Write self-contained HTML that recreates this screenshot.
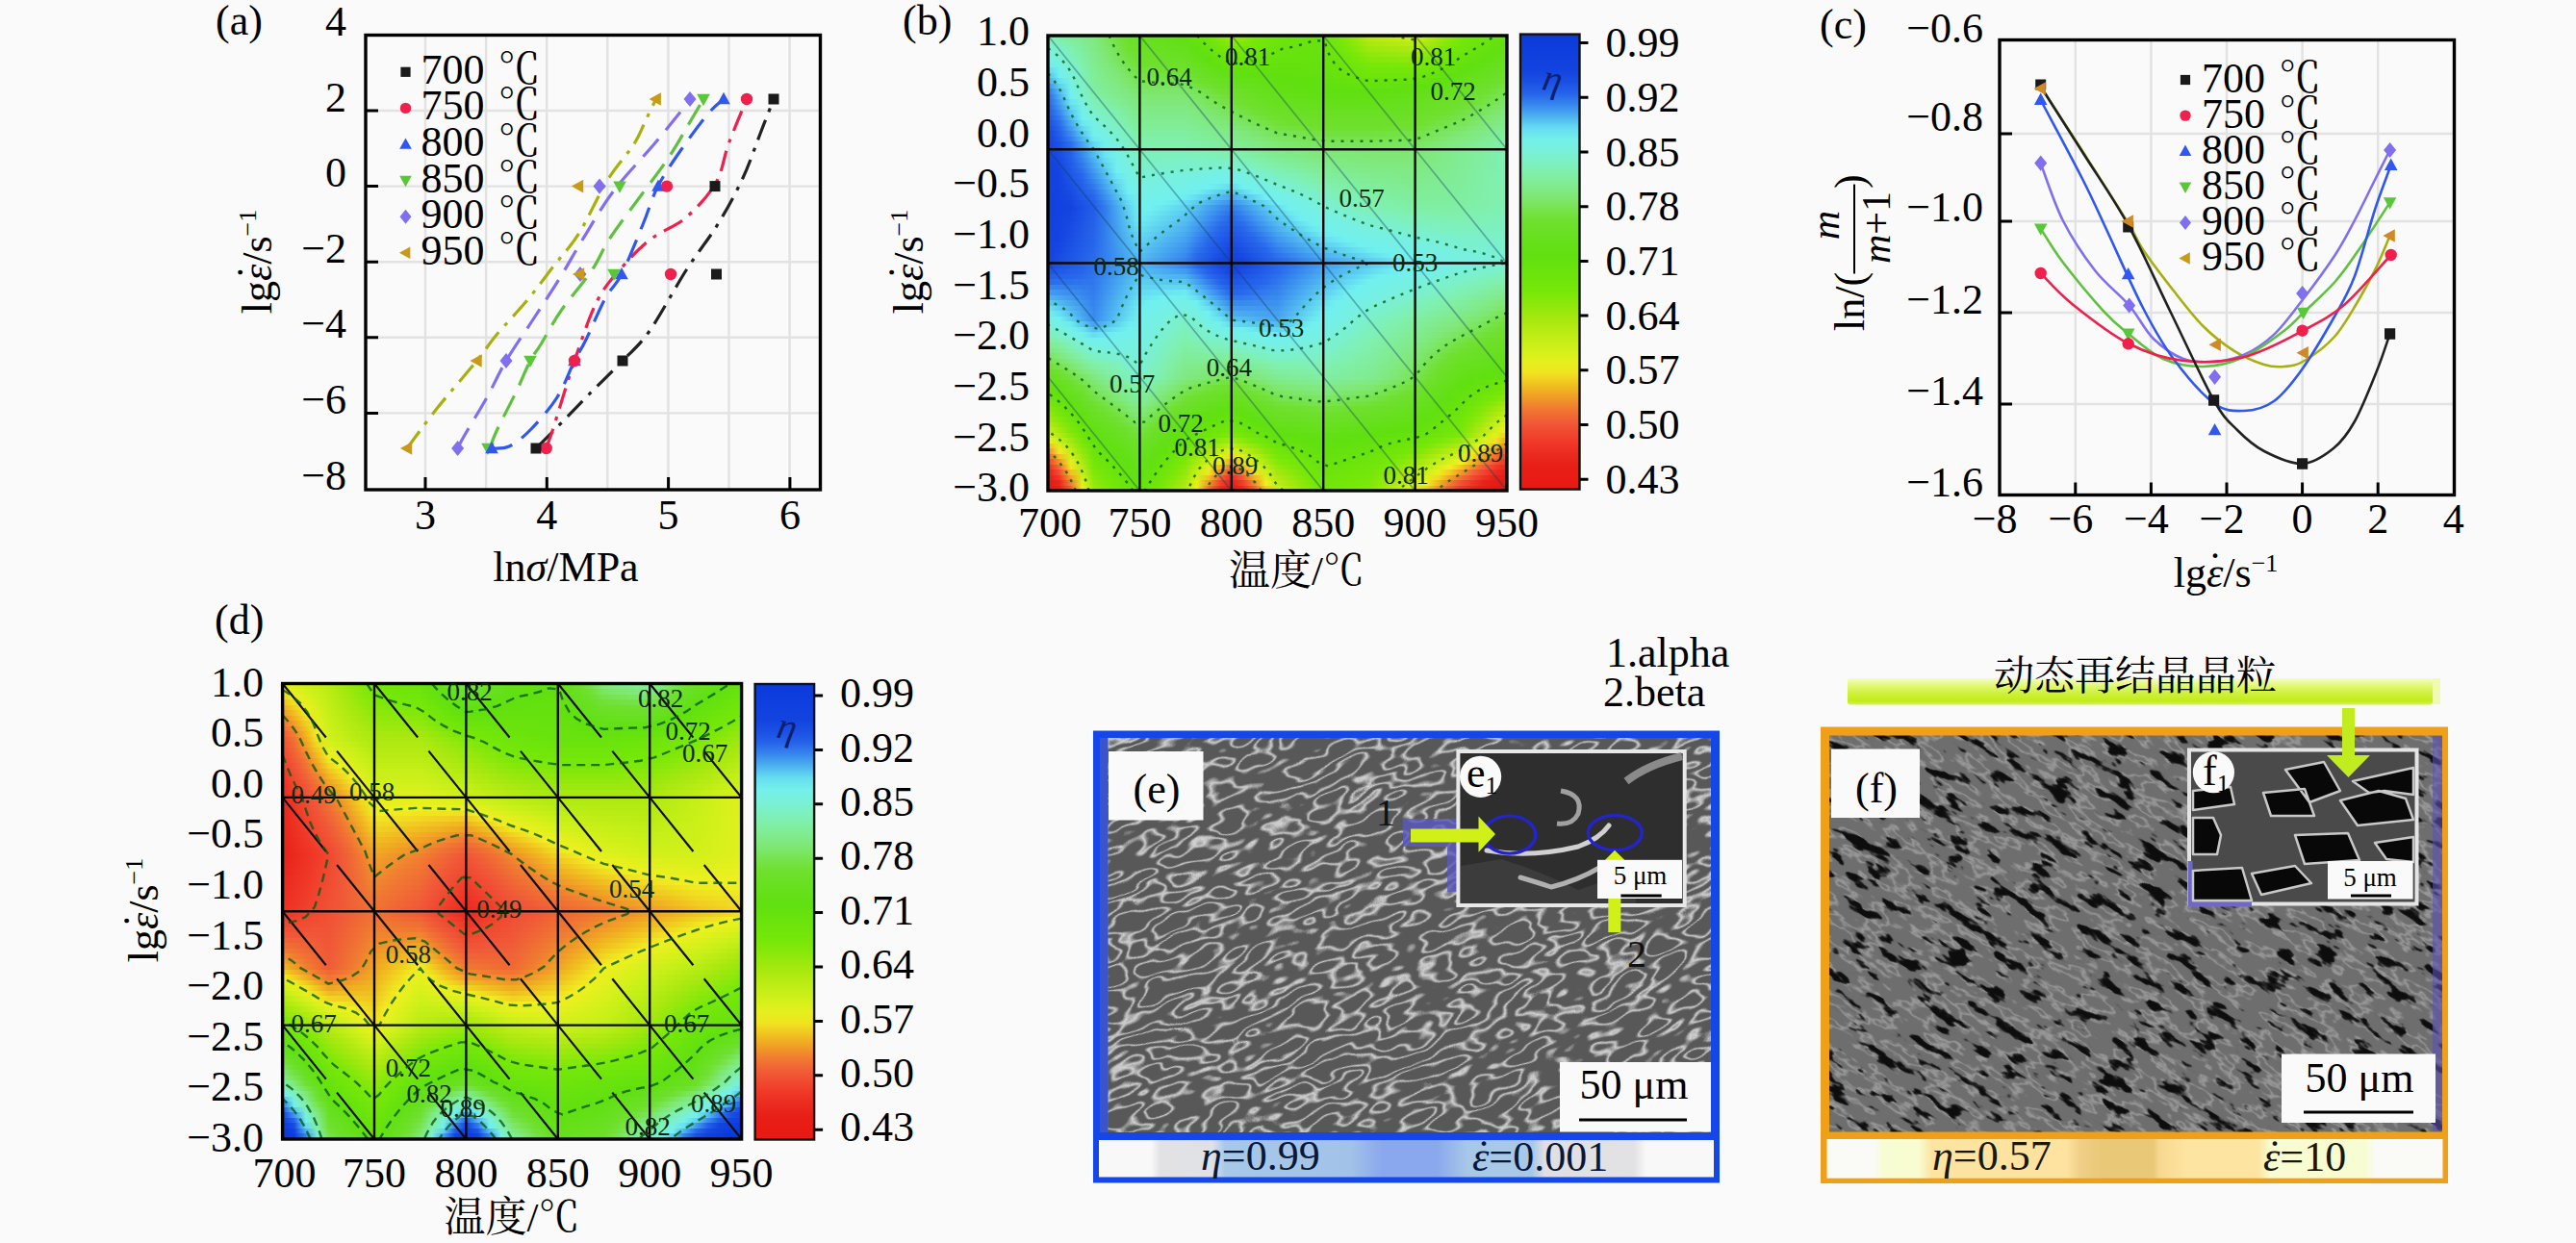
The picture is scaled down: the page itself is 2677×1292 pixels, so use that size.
<!DOCTYPE html>
<html><head><meta charset="utf-8"><title>figure</title>
<style>
html,body{margin:0;padding:0;background:#fafafa}
#root{position:relative;width:2677px;height:1292px;overflow:hidden;background:#fafafa;font-family:"Liberation Serif","Noto Serif CJK SC",serif}
svg text{font-family:"Liberation Serif","Noto Serif CJK SC",serif}
</style></head><body><div id="root">
<div style="position:absolute;left:1089px;top:37px;width:477px;height:473px;overflow:hidden">
<div style="position:absolute;left:0;top:0.00px;width:477px;height:6.10px;background:linear-gradient(90deg,#7ef0bb,#80efac,#80ed9e,#80eb90,#80e982,#7be663,#74e240,#6de02a,#68e020,#66e01c,#65e019,#63e016,#61e012,#68e30d,#71e60a,#7fe809,#99e80e,#8ae80b,#7ae808,#73e60a,#6ee50b,#6ce40c,#6be40c,#6ae30d,#69e30d,#72e60a,#82e80a,#9ce80e,#b3eb13,#b8ec14,#bded15,#c2ee16,#c7f018,#b5eb13,#a1e80f,#8ae80b,#76e709,#71e60a,#6de40c,#68e30d,#63e10f)"></div>
<div style="position:absolute;left:0;top:5.50px;width:477px;height:6.10px;background:linear-gradient(90deg,#7cf0ca,#7ff0b8,#80efa7,#80ec96,#80ea85,#7de669,#75e348,#6fe02d,#6ae023,#68e020,#67e01d,#65e01a,#63e017,#64e10f,#6de40c,#76e709,#8ae80b,#7de809,#75e709,#70e50b,#6ce40c,#6be40c,#6ae30d,#69e30d,#68e30d,#71e60a,#7ae808,#92e80c,#a9e810,#ade911,#b2ea12,#b6eb13,#baec14,#a9e810,#94e80d,#7ee809,#73e60a,#6ee50b,#69e30d,#65e20e,#60e010)"></div>
<div style="position:absolute;left:0;top:11.00px;width:477px;height:6.10px;background:linear-gradient(90deg,#79f0d9,#7df0c4,#80f0b0,#80ed9c,#80ea88,#7ee76f,#77e450,#70e030,#6be026,#6ae024,#69e021,#67e01e,#66e01c,#60e010,#69e30d,#71e60a,#7be808,#75e709,#71e60a,#6ee50b,#6ae30d,#69e30d,#69e30d,#68e30d,#67e20e,#6fe50b,#76e709,#88e80b,#9de80e,#a1e80f,#a6e810,#aae810,#ade911,#9be80e,#87e80a,#76e709,#6fe50b,#6be40c,#66e20e,#62e10f,#62e014)"></div>
<div style="position:absolute;left:0;top:16.50px;width:477px;height:6.10px;background:linear-gradient(90deg,#76f0e3,#7bf0d0,#7ff0b9,#80eea2,#80eb8c,#7fe875,#79e457,#72e139,#6de02a,#6ce027,#6be025,#69e023,#68e020,#62e015,#64e10f,#6ce40c,#74e709,#71e60a,#6ee50b,#6be40c,#68e30d,#68e30d,#67e20e,#67e20e,#66e20e,#6de40c,#73e60a,#7de809,#90e80c,#93e80d,#97e80d,#9ae80e,#9ee80e,#8ce80b,#79e808,#72e60a,#6be40c,#67e20e,#63e10f,#61e013,#65e019)"></div>
<div style="position:absolute;left:0;top:22.00px;width:477px;height:6.10px;background:linear-gradient(90deg,#73f0ea,#79f0dc,#7df0c2,#80efa8,#80eb8f,#80e87b,#7ae55f,#74e243,#6fe02d,#6ee02b,#6ce029,#6be027,#6ae025,#65e01a,#60e010,#67e20e,#6ee50b,#6ce40c,#6ae30d,#68e30d,#66e20e,#66e20e,#66e20e,#66e20e,#66e20e,#6be40c,#71e60a,#76e709,#83e80a,#86e80a,#88e80b,#8be80b,#8de80c,#7de809,#74e709,#6ee50b,#68e30d,#64e10f,#60e011,#64e017,#67e01e)"></div>
<div style="position:absolute;left:0;top:27.50px;width:477px;height:6.10px;background:linear-gradient(90deg,#6eedf0,#76f0e4,#7cf0cb,#80f0ae,#80ec92,#80e97f,#7ce667,#76e34c,#70e031,#6fe02f,#6ee02d,#6ee02b,#6de029,#68e020,#63e016,#62e10f,#69e30d,#68e30d,#67e20e,#66e20e,#65e20e,#65e20e,#65e20e,#65e20e,#65e20e,#69e30d,#6ee50b,#73e60a,#77e808,#78e808,#7ae808,#7be809,#7de809,#74e709,#6fe50b,#6ae30d,#64e10f,#60e010,#63e016,#66e01c,#69e022)"></div>
<div style="position:absolute;left:0;top:33.00px;width:477px;height:6.10px;background:linear-gradient(90deg,#61d5f0,#73f0e9,#7af0d4,#7ff0b4,#80ec95,#80ea83,#7ee76f,#78e456,#73e13d,#72e138,#71e033,#70e030,#6fe02e,#6be025,#66e01c,#62e014,#64e10f,#63e10f,#63e10f,#63e10f,#63e10f,#63e10f,#63e10f,#64e10f,#64e10f,#68e30d,#6be40c,#6fe50b,#73e60a,#73e60a,#73e60a,#74e709,#74e709,#6fe50b,#6ae30d,#66e20e,#61e010,#62e015,#65e01b,#68e021,#6be027)"></div>
<div style="position:absolute;left:0;top:38.50px;width:477px;height:6.10px;background:linear-gradient(90deg,#54bdf0,#71f0ee,#78f0dd,#7ef0ba,#80ed98,#80ea88,#80e877,#7ae55f,#75e348,#74e244,#74e240,#73e13d,#72e139,#6de02b,#69e023,#65e01b,#61e013,#61e012,#60e011,#60e010,#61e010,#61e010,#62e10f,#62e10f,#63e10f,#66e20e,#69e30d,#6ce40c,#6fe50b,#6ee50b,#6ee50b,#6ee50b,#6ee50b,#6ae30d,#66e20e,#61e010,#62e014,#65e01a,#68e020,#6be026,#6ee02c)"></div>
<div style="position:absolute;left:0;top:44.00px;width:477px;height:6.10px;background:linear-gradient(90deg,#46a5f0,#68e2f0,#77f0e3,#7df0c0,#80ed9b,#80eb8c,#80e97d,#7de669,#78e453,#77e450,#77e34e,#76e34b,#76e349,#70e031,#6ce029,#69e022,#65e01b,#64e018,#63e016,#62e014,#61e011,#60e010,#61e010,#61e010,#62e10f,#64e10f,#66e20e,#68e30d,#6ae30d,#6ae30d,#69e30d,#69e30d,#68e30d,#65e20e,#61e010,#62e014,#65e019,#68e01f,#6ae025,#6de02b,#70e031)"></div>
<div style="position:absolute;left:0;top:49.50px;width:477px;height:6.10px;background:linear-gradient(90deg,#3a8cee,#5dcff0,#75f0e7,#7cf0c6,#80ed9e,#80eb90,#80e982,#7fe772,#7ae55e,#7ae55d,#7ae55b,#79e55a,#79e458,#74e243,#70e02f,#6ce029,#69e023,#67e01f,#66e01b,#64e017,#62e014,#61e012,#61e011,#60e010,#61e010,#62e10f,#63e10f,#64e10f,#66e20e,#65e20e,#64e10f,#63e10f,#62e10f,#60e011,#63e016,#65e01a,#67e01f,#6ae024,#6de02a,#70e02f,#74e240)"></div>
<div style="position:absolute;left:0;top:55.00px;width:477px;height:6.10px;background:linear-gradient(90deg,#2e74ed,#53bbf0,#73f0eb,#7bf0cd,#80eea2,#80ec95,#80ea88,#80e87b,#7de669,#7de669,#7de669,#7de668,#7ce668,#78e455,#74e243,#70e030,#6de02a,#6be025,#68e020,#66e01b,#63e016,#62e015,#62e013,#61e011,#60e010,#60e010,#61e010,#61e010,#61e010,#60e010,#61e012,#62e013,#62e015,#64e019,#66e01c,#68e020,#6ae024,#6de029,#6fe02f,#73e23e,#77e450)"></div>
<div style="position:absolute;left:0;top:60.50px;width:477px;height:6.10px;background:linear-gradient(90deg,#2767ec,#4badf0,#70f0ef,#7af0d6,#80efab,#80ed9d,#80eb8f,#80e982,#7fe773,#7fe773,#7fe773,#7fe773,#7fe773,#7be662,#77e450,#73e23f,#70e02f,#6de02a,#6be025,#68e020,#65e01b,#64e019,#64e017,#63e015,#62e013,#62e013,#62e013,#62e013,#62e013,#63e015,#63e017,#64e018,#65e01a,#67e01e,#69e021,#6ae025,#6ce028,#6fe02e,#72e139,#76e34b,#7ae55c)"></div>
<div style="position:absolute;left:0;top:66.00px;width:477px;height:6.10px;background:linear-gradient(90deg,#2562ea,#44a0f0,#6ae5f0,#78f0e0,#7ff0b6,#80efa7,#80ed98,#80ea89,#80e87b,#80e87b,#80e87b,#80e87b,#80e87b,#7de76c,#7ae55c,#76e34b,#73e13b,#6fe02e,#6de029,#6ae024,#68e01f,#67e01d,#66e01c,#65e01a,#64e018,#64e018,#64e018,#64e018,#64e018,#65e01a,#66e01b,#66e01d,#67e01e,#69e022,#6be025,#6ce029,#6ee02c,#71e034,#75e245,#79e457,#7ce668)"></div>
<div style="position:absolute;left:0;top:71.50px;width:477px;height:6.10px;background:linear-gradient(90deg,#225de8,#3e93ef,#61d6f0,#76f0e5,#7df0c2,#80f0b1,#80eea1,#80ec91,#80e981,#80e981,#80e981,#80e981,#80e981,#7fe876,#7ce667,#79e458,#76e349,#72e138,#6fe02e,#6ce029,#6ae024,#69e022,#68e020,#67e01f,#66e01d,#66e01d,#66e01d,#66e01d,#66e01d,#67e01e,#68e01f,#68e021,#69e022,#6be026,#6de029,#6ee02d,#70e031,#74e241,#78e452,#7be662,#7fe773)"></div>
<div style="position:absolute;left:0;top:77.00px;width:477px;height:6.10px;background:linear-gradient(90deg,#1f59e7,#3786ee,#59c7f0,#73f0e9,#7bf0cd,#7ef0bb,#80efaa,#80ed98,#80ea87,#80ea87,#80ea87,#80ea87,#80ea87,#80e97d,#7fe772,#7ce664,#78e456,#75e246,#71e136,#6fe02d,#6ce028,#6be027,#6ae025,#6ae023,#69e021,#69e021,#69e021,#69e021,#69e021,#69e023,#6ae024,#6ae025,#6be026,#6de02a,#6fe02d,#70e032,#73e23e,#77e34e,#7ae55e,#7ee76e,#80e97c)"></div>
<div style="position:absolute;left:0;top:82.50px;width:477px;height:6.10px;background:linear-gradient(90deg,#1d54e5,#3179ed,#51b8f0,#71f0ee,#79f0d9,#7cf0c6,#80f0b2,#80eea0,#80eb8e,#80eb8e,#80eb8e,#80eb8e,#80eb8e,#80ea85,#80e97c,#7ee770,#7be664,#78e454,#75e245,#71e136,#6fe02d,#6ee02b,#6de02a,#6ce028,#6be026,#6be026,#6be026,#6be026,#6be026,#6be027,#6ce028,#6ce029,#6de02a,#6fe02e,#71e034,#73e240,#76e34c,#7ae55b,#7de66a,#80e879,#80ea84)"></div>
<div style="position:absolute;left:0;top:88.00px;width:477px;height:6.10px;background:linear-gradient(90deg,#1a4fe4,#2a6dec,#49aaf0,#6be6f0,#77f0e2,#7bf0d0,#7ef0bb,#80efa7,#80ec94,#80ec94,#80ec94,#80ec94,#80ec94,#80eb8c,#80ea83,#80e87b,#7ee771,#7be662,#78e453,#75e245,#71e136,#70e030,#6fe02e,#6ee02c,#6de02b,#6de02b,#6de02b,#6de02b,#6de02b,#6ee02b,#6ee02c,#6fe02d,#6fe02e,#71e135,#74e241,#76e34d,#79e559,#7ce668,#80e877,#80e981,#80eb8c)"></div>
<div style="position:absolute;left:0;top:93.50px;width:477px;height:6.10px;background:linear-gradient(90deg,#174ae2,#2664eb,#419bef,#61d5f0,#74f0e7,#79f0da,#7df0c5,#80f0af,#80ed9a,#80ed9a,#80ed9a,#80ed9a,#80ed9a,#80ec93,#80eb8b,#80ea84,#80e97d,#7ee770,#7be662,#78e454,#75e245,#73e23f,#72e139,#71e033,#70e02f,#70e02f,#70e02f,#70e02f,#70e02f,#70e030,#70e032,#71e034,#71e136,#74e242,#77e34e,#79e55a,#7ce666,#7fe875,#80e980,#80eb8a,#80ec94)"></div>
<div style="position:absolute;left:0;top:99.00px;width:477px;height:6.10px;background:linear-gradient(90deg,#1545e0,#235fe9,#3a8cee,#58c5f0,#72f0ec,#77f0e2,#7bf0ce,#7ff0b7,#80eea0,#80eea0,#80eea0,#80eea0,#80eea0,#80ed9a,#80ec93,#80eb8d,#80ea86,#80e97c,#7ee770,#7be663,#78e455,#77e34f,#76e349,#74e243,#73e13d,#73e13d,#73e13d,#73e13d,#73e13d,#73e23f,#74e240,#74e242,#74e244,#77e450,#7ae55c,#7ce668,#7fe874,#80e97f,#80ea88,#80ec92,#80ed9c)"></div>
<div style="position:absolute;left:0;top:104.50px;width:477px;height:6.10px;background:linear-gradient(90deg,#1343e0,#2059e7,#337ded,#4fb4f0,#6deaf0,#75f0e7,#7af0d7,#7ef0bf,#80efa7,#80efa7,#80efa7,#80efa7,#80efa7,#80eea1,#80ed9b,#80ec95,#80eb8f,#80ea86,#80e97d,#7fe772,#7ce665,#7ae55f,#79e559,#78e453,#76e34d,#76e34d,#76e34d,#76e34d,#76e34d,#77e34e,#77e34f,#77e450,#77e451,#7ae55d,#7de669,#7fe875,#80e97f,#80ea88,#80ec91,#80ed9a,#80eea4)"></div>
<div style="position:absolute;left:0;top:110.00px;width:477px;height:6.10px;background:linear-gradient(90deg,#1343df,#1d53e5,#2b6eec,#46a3f0,#62d8f0,#72f0eb,#78f0e0,#7cf0c6,#80f0ad,#80f0ad,#80f0ad,#80f0ad,#80f0ad,#80efa8,#80eea3,#80ed9e,#80ed99,#80eb90,#80ea87,#80e97e,#7fe874,#7ee76e,#7de668,#7be662,#7ae55c,#7ae55c,#7ae55c,#7ae55c,#7ae55c,#7ae55d,#7ae55d,#7ae55e,#7ae55f,#7de76b,#80e877,#80e97f,#80ea88,#80ec91,#80ed9a,#80eea3,#80efac)"></div>
<div style="position:absolute;left:0;top:115.50px;width:477px;height:6.10px;background:linear-gradient(90deg,#1242df,#194ee3,#2664eb,#3d92ef,#58c5f0,#70f0f0,#76f0e4,#7bf0ce,#7ff0b4,#7ff0b4,#7ff0b4,#7ff0b4,#7ff0b4,#80f0af,#80efab,#80efa7,#80eea2,#80ed9a,#80ec91,#80ea89,#80e980,#80e97c,#80e878,#7fe772,#7de76c,#7de76c,#7de76c,#7de76c,#7de76c,#7de76c,#7de76c,#7de76c,#7de76c,#80e878,#80e980,#80ea89,#80ec91,#80ed9a,#80eea2,#80efab,#7ff0b4)"></div>
<div style="position:absolute;left:0;top:121.00px;width:477px;height:6.10px;background:linear-gradient(90deg,#1242df,#184ce3,#2461ea,#3989ee,#52baf0,#6ae5f0,#75f0e7,#7af0d5,#7ef0ba,#7ef0bb,#7ef0bb,#7ef0bc,#7ef0bd,#7ef0ba,#7ff0b7,#7ff0b4,#80f0b1,#80efa8,#80ee9f,#80ec96,#80eb8d,#80ea88,#80ea83,#80e97e,#80e879,#80e878,#80e877,#80e876,#7fe875,#7fe874,#7fe874,#7fe773,#7fe773,#80e97c,#80ea84,#80eb8b,#80ec93,#80ed9b,#80eea3,#80efab,#7ff0b4)"></div>
<div style="position:absolute;left:0;top:126.50px;width:477px;height:6.10px;background:linear-gradient(90deg,#1242df,#1749e2,#235ee9,#3481ee,#4caff0,#64dbf0,#73f0ea,#79f0db,#7df0c1,#7df0c2,#7df0c3,#7df0c5,#7cf0c6,#7df0c5,#7df0c3,#7df0c2,#7df0c1,#7ff0b7,#80f0ad,#80eea3,#80ed9a,#80ec94,#80eb8e,#80ea88,#80e982,#80e981,#80e97f,#80e97e,#80e97c,#80e87b,#80e87b,#80e87a,#80e879,#80e980,#80ea87,#80eb8e,#80ec95,#80ed9c,#80eea4,#80efac,#7ff0b4)"></div>
<div style="position:absolute;left:0;top:132.00px;width:477px;height:6.10px;background:linear-gradient(90deg,#1141df,#1647e1,#215be8,#3078ed,#46a5f0,#5ed0f0,#72f0ed,#78f0e1,#7cf0c7,#7cf0c9,#7bf0cb,#7bf0cd,#7bf0cf,#7bf0cf,#7bf0d0,#7bf0d0,#7bf0d1,#7cf0c6,#7ef0bb,#80f0b1,#80efa6,#80eea0,#80ed99,#80ec93,#80eb8c,#80eb8a,#80ea87,#80ea85,#80e982,#80e981,#80e980,#80e97f,#80e97e,#80ea84,#80eb8a,#80eb90,#80ec96,#80ed9d,#80eea5,#80efac,#7ff0b4)"></div>
<div style="position:absolute;left:0;top:137.50px;width:477px;height:6.10px;background:linear-gradient(90deg,#1141df,#1545e0,#1f58e7,#2c6fec,#419aef,#58c5f0,#70f0f0,#76f0e4,#7bf0ce,#7bf0d0,#7af0d3,#7af0d5,#79f0d8,#79f0da,#79f0dc,#78f0de,#78f0e0,#7af0d5,#7cf0ca,#7ef0bf,#7ff0b3,#80efac,#80eea4,#80ed9d,#80ec95,#80ec92,#80eb8f,#80eb8c,#80ea89,#80ea87,#80ea86,#80ea84,#80e982,#80ea88,#80eb8d,#80ec92,#80ed98,#80ee9f,#80efa6,#80efac,#7ff0b4)"></div>
<div style="position:absolute;left:0;top:143.00px;width:477px;height:6.10px;background:linear-gradient(90deg,#1141df,#1444e0,#1e55e6,#2867ec,#3b8fee,#52baf0,#6ae6f0,#75f0e7,#7af0d5,#79f0d8,#79f0db,#78f0de,#78f0e0,#77f0e2,#76f0e4,#75f0e6,#74f0e7,#77f0e2,#79f0d8,#7bf0cc,#7df0c0,#7ff0b8,#80f0af,#80efa7,#80ee9f,#80ed9b,#80ec97,#80ec93,#80eb8f,#80eb8d,#80eb8b,#80ea89,#80ea87,#80eb8c,#80eb90,#80ec95,#80ed99,#80eea0,#80efa6,#80f0ad,#7ff0b4)"></div>
<div style="position:absolute;left:0;top:148.50px;width:477px;height:6.10px;background:linear-gradient(90deg,#1141de,#1444e0,#1c52e5,#2563ea,#3684ee,#4cb0f0,#64dbf0,#73f0ea,#79f0db,#78f0df,#77f0e1,#77f0e3,#76f0e5,#74f0e7,#73f0e9,#72f0ec,#71f0ee,#74f0e9,#76f0e3,#79f0da,#7bf0ce,#7df0c4,#7ef0bb,#80f0b1,#80efa8,#80eea4,#80ee9f,#80ed9a,#80ec95,#80ec93,#80ec91,#80eb8e,#80eb8c,#80eb90,#80ec93,#80ec97,#80ed9b,#80eea1,#80efa7,#80f0ad,#7ff0b4)"></div>
<div style="position:absolute;left:0;top:154.00px;width:477px;height:6.10px;background:linear-gradient(90deg,#1141de,#1343e0,#1a4fe4,#235fe9,#3179ed,#46a5f0,#5ed0f0,#72f0ed,#78f0e1,#77f0e3,#76f0e5,#75f0e7,#74f0e9,#72f0ec,#70f0ef,#6be8f0,#65dcf0,#70f0f0,#73f0ea,#76f0e4,#79f0db,#7bf0d1,#7cf0c6,#7ef0bc,#80f0b2,#80efac,#80efa7,#80eea1,#80ed9c,#80ed99,#80ec96,#80ec93,#80ec91,#80ec94,#80ec97,#80ed9a,#80ed9d,#80eea2,#80efa8,#80f0ae,#7ff0b4)"></div>
<div style="position:absolute;left:0;top:159.50px;width:477px;height:6.10px;background:linear-gradient(90deg,#1141de,#1343df,#194ce3,#215ce8,#2b6eec,#419aef,#58c5f0,#70f0f0,#76f0e4,#75f0e6,#74f0e8,#73f0eb,#72f0ed,#6fedf0,#67dff0,#5fd1f0,#57c3f0,#63d9f0,#70f0f0,#73f0ea,#76f0e4,#78f0dd,#7af0d2,#7cf0c7,#7ef0bc,#7ff0b5,#80f0af,#80efa8,#80eea2,#80ee9f,#80ed9c,#80ed99,#80ec95,#80ed98,#80ed9a,#80ed9c,#80ed9e,#80eea3,#80efa9,#80f0ae,#7ff0b4)"></div>
<div style="position:absolute;left:0;top:165.00px;width:477px;height:6.10px;background:linear-gradient(90deg,#1040de,#1343df,#1749e2,#1f58e7,#2766eb,#3c8fee,#52bbf0,#6ae6f0,#75f0e7,#73f0e9,#72f0ec,#71f0ee,#6eedf0,#65dcf0,#5ccbf0,#52baf0,#49a9f0,#56c1f0,#63d8f0,#70f0f0,#73f0ea,#76f0e4,#78f0de,#7af0d2,#7cf0c6,#7ef0be,#7ff0b7,#80f0af,#80efa8,#80eea5,#80eea1,#80ed9e,#80ed9a,#80ed9c,#80ed9d,#80ed9e,#80eea0,#80eea5,#80efaa,#80f0ae,#7ff0b4)"></div>
<div style="position:absolute;left:0;top:170.50px;width:477px;height:6.10px;background:linear-gradient(90deg,#1040de,#1242df,#1546e1,#1d54e5,#2461ea,#3684ee,#4cb0f0,#64dbf0,#73f0ea,#72f0ed,#70f0ef,#6ce8f0,#66def0,#5bcbf0,#50b7f0,#46a3f0,#3c90ee,#48a8f0,#56c1f0,#63d9f0,#70f0f0,#73f0ea,#76f0e4,#79f0dc,#7bf0d0,#7cf0c7,#7df0bf,#7ff0b7,#80f0af,#80efab,#80efa7,#80eea3,#80ee9f,#80ee9f,#80eea0,#80eea1,#80eea1,#80efa6,#80efaa,#80f0af,#7ff0b4)"></div>
<div style="position:absolute;left:0;top:176.00px;width:477px;height:6.10px;background:linear-gradient(90deg,#1040de,#1242df,#1444e0,#1b51e4,#225ee9,#327ced,#48a7f0,#5fd2f0,#72f0ec,#70f0ef,#6be7f0,#65dcf0,#5fd1f0,#53bbf0,#47a5f0,#3c8fee,#3179ed,#3d93ef,#4aacf0,#58c5f0,#66dff0,#71f0ef,#74f0e9,#77f0e3,#79f0d9,#7bf0d1,#7cf0c8,#7ef0bf,#7ff0b6,#80f0b2,#80f0ad,#80efa9,#80eea5,#80eea4,#80eea4,#80eea4,#80eea4,#80efa8,#80efac,#80f0b0,#7ff0b4)"></div>
<div style="position:absolute;left:0;top:181.50px;width:477px;height:6.10px;background:linear-gradient(90deg,#1040de,#1242df,#1546e1,#1c53e5,#235fe9,#327ded,#47a5f0,#5dcef0,#71f0ee,#6debf0,#67e0f0,#61d4f0,#5ac9f0,#4eb2f0,#429bef,#3684ee,#2b6dec,#3787ee,#44a0f0,#52b9f0,#60d3f0,#6be7f0,#72f0ed,#75f0e7,#77f0e1,#79f0da,#7af0d1,#7cf0c9,#7df0c0,#7ef0bb,#7ff0b7,#80f0b2,#80f0ad,#80f0ad,#80efac,#80efab,#80efaa,#80f0ae,#80f0b1,#7ff0b4,#7ff0b8)"></div>
<div style="position:absolute;left:0;top:187.00px;width:477px;height:6.10px;background:linear-gradient(90deg,#1141de,#1343df,#1648e1,#1d54e5,#2460e9,#337ded,#46a3f0,#5bc9f0,#70eff0,#69e4f0,#63d8f0,#5ccdf0,#56c1f0,#49a9f0,#3d91ef,#3179ed,#2665eb,#317aed,#3e94ef,#4badf0,#59c6f0,#64dbf0,#6feff0,#73f0eb,#75f0e5,#77f0e1,#79f0db,#7af0d2,#7cf0ca,#7df0c5,#7df0c0,#7ef0bb,#7ff0b6,#7ff0b5,#7ff0b3,#80f0b2,#80f0b1,#7ff0b3,#7ff0b6,#7ff0b8,#7ef0bb)"></div>
<div style="position:absolute;left:0;top:192.50px;width:477px;height:6.10px;background:linear-gradient(90deg,#1141df,#1343e0,#174ae2,#1e56e6,#2462ea,#337ded,#45a1f0,#58c5f0,#6ce9f0,#65ddf0,#5fd1f0,#58c5f0,#51b9f0,#44a0f0,#3887ee,#2b6eec,#2360e9,#2b6eec,#3888ee,#45a1f0,#52baf0,#5dcef0,#68e1f0,#71f0ef,#73f0e9,#75f0e6,#77f0e2,#79f0dc,#7af0d4,#7bf0cf,#7cf0ca,#7df0c4,#7df0bf,#7ef0bd,#7ef0bb,#7ef0b9,#7ff0b7,#7ef0b9,#7ef0bb,#7ef0bd,#7ef0be)"></div>
<div style="position:absolute;left:0;top:198.00px;width:477px;height:6.10px;background:linear-gradient(90deg,#1242df,#1343e0,#184ce3,#1f57e6,#2563ea,#337eed,#449fef,#56c1f0,#68e2f0,#61d6f0,#5bc9f0,#54bdf0,#4db1f0,#4097ef,#327ded,#2766eb,#205ae7,#2765eb,#327ced,#3e95ef,#4caef0,#56c1f0,#60d4f0,#6be7f0,#71f0ed,#73f0ea,#75f0e6,#77f0e3,#78f0de,#79f0d8,#7af0d3,#7bf0ce,#7cf0c8,#7cf0c6,#7df0c3,#7df0c1,#7ef0be,#7ef0bf,#7df0c0,#7df0c1,#7df0c2)"></div>
<div style="position:absolute;left:0;top:203.50px;width:477px;height:6.10px;background:linear-gradient(90deg,#1242df,#1444e0,#194de3,#2059e7,#2664eb,#337eed,#439def,#53bcf0,#64dbf0,#5dcff0,#57c2f0,#50b6f0,#49a9f0,#3b8eee,#2d73ed,#2461ea,#1d55e6,#2460e9,#2c6fec,#3889ee,#45a2f0,#4fb4f0,#59c6f0,#63d9f0,#6debf0,#71f0ee,#73f0ea,#75f0e7,#76f0e3,#78f0e1,#79f0dd,#79f0d7,#7af0d2,#7bf0ce,#7bf0cb,#7cf0c8,#7df0c5,#7df0c5,#7df0c5,#7df0c5,#7df0c5)"></div>
<div style="position:absolute;left:0;top:209.00px;width:477px;height:6.10px;background:linear-gradient(90deg,#1242df,#1444e0,#1a4fe4,#205ae7,#2665eb,#337eed,#429bef,#51b8f0,#61d5f0,#5ac8f0,#52bbf0,#4baef0,#44a1f0,#3685ee,#2869ec,#215ce8,#1a4fe4,#215be8,#2766eb,#327ded,#3f96ef,#48a8f0,#51b9f0,#5bcaf0,#65dcf0,#6ce8f0,#71f0ef,#72f0eb,#74f0e8,#75f0e5,#77f0e3,#78f0e0,#79f0db,#7af0d7,#7af0d3,#7bf0cf,#7bf0cb,#7cf0ca,#7cf0ca,#7cf0c9,#7cf0c8)"></div>
<div style="position:absolute;left:0;top:214.50px;width:477px;height:6.10px;background:linear-gradient(90deg,#1343df,#1546e1,#1b51e4,#215ce8,#2766eb,#337fed,#4199ef,#4eb4f0,#5dcef0,#56c1f0,#4eb3f0,#47a6f0,#4099ef,#327ced,#2664eb,#1e57e6,#174ae2,#1e55e6,#2460e9,#2c70ed,#398aee,#419bef,#4aacf0,#53bcf0,#5dcdf0,#63d9f0,#6ae5f0,#70f0f0,#72f0ec,#73f0ea,#74f0e7,#76f0e4,#77f0e2,#78f0df,#79f0db,#7af0d6,#7af0d2,#7bf0d0,#7bf0cf,#7bf0cd,#7bf0cc)"></div>
<div style="position:absolute;left:0;top:220.00px;width:477px;height:6.10px;background:linear-gradient(90deg,#1343e0,#1648e1,#1c53e5,#225de8,#2868ec,#347fed,#4097ef,#4caff0,#59c7f0,#52baf0,#4aacf0,#439eef,#3c91ef,#2d72ed,#235fe9,#1c52e5,#1445e0,#1b50e4,#215be8,#2766eb,#337eed,#3b8eee,#439eef,#4caef0,#54bef0,#5bcaf0,#61d6f0,#68e1f0,#6eedf0,#71f0ee,#72f0eb,#74f0e9,#75f0e6,#76f0e3,#77f0e1,#78f0dd,#79f0d8,#7af0d6,#7af0d4,#7af0d1,#7bf0cf)"></div>
<div style="position:absolute;left:0;top:225.50px;width:477px;height:6.10px;background:linear-gradient(90deg,#1343e0,#184be2,#1d55e6,#235fe9,#296aec,#347fed,#3f95ef,#4aabf0,#56c0f0,#4eb3f0,#46a5f0,#3f97ef,#3889ee,#2969ec,#215be8,#194de3,#1343e0,#184ae2,#1e56e6,#2461ea,#2d72ed,#3581ee,#3c91ef,#44a0f0,#4cb0f0,#53bbf0,#59c6f0,#5fd2f0,#65ddf0,#6be7f0,#70f0f0,#72f0ed,#73f0ea,#74f0e7,#76f0e5,#77f0e2,#78f0df,#79f0dc,#79f0d9,#7af0d5,#7af0d2)"></div>
<div style="position:absolute;left:0;top:231.00px;width:477px;height:6.10px;background:linear-gradient(90deg,#1444e0,#194de3,#1e56e6,#2460e9,#2a6cec,#3480ed,#3e93ef,#47a7f0,#52baf0,#4aacf0,#439def,#3b8fee,#3480ee,#2665eb,#1e56e6,#1648e1,#1242df,#1545e0,#1b50e4,#215ce8,#2767ec,#2e74ed,#3683ee,#3d92ef,#44a1f0,#4aacf0,#50b7f0,#56c2f0,#5ccdf0,#62d7f0,#68e2f0,#6eedf0,#71f0ee,#72f0eb,#74f0e8,#75f0e5,#77f0e3,#78f0e1,#78f0de,#79f0d9,#7af0d5)"></div>
<div style="position:absolute;left:0;top:236.50px;width:477px;height:6.10px;background:linear-gradient(90deg,#1749e2,#1c52e5,#205ae7,#2563ea,#2c6fec,#3582ee,#3e95ef,#48a7f0,#52baf0,#4badf0,#44a0f0,#3e93ef,#3787ee,#2767ec,#1f58e7,#174ae2,#1343df,#1546e1,#1b50e4,#215be8,#2766eb,#2d72ed,#3480ee,#3c8fee,#439eef,#49aaf0,#4fb5f0,#55c0f0,#5ccbf0,#62d6f0,#68e1f0,#6eecf0,#71f0ee,#73f0eb,#74f0e8,#76f0e5,#77f0e2,#78f0df,#79f0da,#7af0d5,#7bf0d0)"></div>
<div style="position:absolute;left:0;top:242.00px;width:477px;height:6.10px;background:linear-gradient(90deg,#1d54e5,#205ae7,#2460e9,#2766eb,#2d72ed,#3786ee,#4199ef,#4badf0,#56c0f0,#50b7f0,#4baef0,#46a4f0,#419bef,#317aed,#2461ea,#1c52e5,#1444e0,#194de3,#1e56e6,#235fe9,#2969ec,#3079ed,#3889ee,#4098ef,#48a8f0,#4fb4f0,#55c0f0,#5ccdf0,#63d9f0,#69e4f0,#70eff0,#72f0ed,#73f0ea,#75f0e7,#76f0e4,#78f0e0,#79f0da,#7af0d4,#7bf0cf,#7cf0c9,#7df0c3)"></div>
<div style="position:absolute;left:0;top:247.50px;width:477px;height:6.10px;background:linear-gradient(90deg,#235fe9,#2563ea,#2766eb,#2a6cec,#2e75ed,#3989ee,#439eef,#4eb3f0,#59c7f0,#56c1f0,#53bbf0,#4fb5f0,#4caff0,#3b8eee,#2a6cec,#215be8,#184ce3,#1d54e5,#215ce8,#2664eb,#2c70ed,#3480ee,#3c91ef,#44a1f0,#4db1f0,#54bef0,#5cccf0,#63d9f0,#6be6f0,#70f0ef,#72f0ec,#74f0e9,#75f0e6,#77f0e3,#78f0de,#79f0d7,#7bf0d0,#7cf0ca,#7df0c3,#7ef0bd,#7ff0b6)"></div>
<div style="position:absolute;left:0;top:253.00px;width:477px;height:6.10px;background:linear-gradient(90deg,#2a6cec,#2b6fec,#2d72ed,#2e74ed,#3077ed,#3b8dee,#45a3f0,#51b8f0,#5dcef0,#5ccbf0,#5ac8f0,#59c6f0,#57c3f0,#45a1f0,#3480ed,#2563ea,#1d54e5,#215be8,#2462ea,#2868ec,#2f77ed,#3888ee,#4099ef,#49aaf0,#52baf0,#5ac9f0,#62d7f0,#6ae5f0,#71f0ef,#72f0ec,#74f0e8,#76f0e5,#77f0e2,#79f0dc,#7af0d5,#7bf0ce,#7cf0c6,#7ef0bf,#7ff0b7,#80f0b0,#80efa9)"></div>
<div style="position:absolute;left:0;top:258.50px;width:477px;height:6.10px;background:linear-gradient(90deg,#3684ee,#3582ee,#347fed,#327ded,#317aed,#3c91ef,#48a7f0,#54bef0,#61d5f0,#61d5f0,#61d6f0,#62d7f0,#62d7f0,#4fb5f0,#3e93ef,#2c71ed,#225de8,#2562ea,#2867ec,#2d72ed,#337eed,#3c8fee,#44a1f0,#4eb2f0,#57c4f0,#60d3f0,#68e2f0,#70f0f0,#72f0eb,#74f0e8,#76f0e4,#78f0e1,#79f0db,#7af0d3,#7bf0cb,#7df0c4,#7ef0bc,#7ff0b4,#80efac,#80eea4,#80ed9d)"></div>
<div style="position:absolute;left:0;top:264.00px;width:477px;height:6.10px;background:linear-gradient(90deg,#429cef,#3e95ef,#3a8dee,#3685ee,#327ded,#3e94ef,#4aacf0,#57c4f0,#64dbf0,#67dff0,#69e3f0,#6be7f0,#6debf0,#5ac9f0,#47a7f0,#3684ee,#2665eb,#296aec,#2e73ed,#327ced,#3684ee,#3f97ef,#49a9f0,#53bbf0,#5dcdf0,#66ddf0,#6feef0,#72f0ec,#74f0e8,#76f0e4,#78f0e1,#79f0d9,#7af0d2,#7cf0ca,#7df0c2,#7ef0ba,#80f0b2,#80efaa,#80eea1,#80ed98,#80eb90)"></div>
<div style="position:absolute;left:0;top:269.50px;width:477px;height:6.10px;background:linear-gradient(90deg,#4fb5f0,#48a7f0,#419aef,#3a8dee,#347fed,#4098ef,#4db1f0,#5bc9f0,#68e2f0,#6ce9f0,#70f0f0,#71f0ee,#72f0ec,#65ddf0,#52baf0,#4098ef,#2e75ed,#317aed,#3480ed,#3786ee,#3a8bee,#439eef,#4db1f0,#57c4f0,#62d7f0,#6be8f0,#71f0ed,#74f0e9,#76f0e4,#78f0e0,#79f0d8,#7bf0d0,#7cf0c8,#7df0c0,#7ff0b8,#80f0b0,#80efa9,#80ee9f,#80ec96,#80eb8d,#80ea83)"></div>
<div style="position:absolute;left:0;top:275.00px;width:477px;height:6.10px;background:linear-gradient(90deg,#5ccdf0,#52baf0,#48a8f0,#3e95ef,#3582ee,#429cef,#50b6f0,#5ecff0,#6ce9f0,#70f0ef,#72f0ec,#73f0e9,#75f0e6,#70f0f0,#5dcef0,#4aabf0,#3888ee,#398aee,#3a8dee,#3c8fee,#3d92ef,#47a6f0,#51b9f0,#5ccdf0,#67e0f0,#70f0ef,#73f0ea,#75f0e5,#78f0e0,#79f0d8,#7bf0d0,#7cf0c8,#7df0bf,#7ff0b7,#80f0af,#80efa7,#80ee9f,#80ec95,#80eb8b,#80e981,#80e876)"></div>
<div style="position:absolute;left:0;top:280.50px;width:477px;height:6.10px;background:linear-gradient(90deg,#6ae5f0,#5dcdf0,#4fb5f0,#439def,#3685ee,#44a0ef,#52baf0,#61d5f0,#70eff0,#72f0ec,#74f0e8,#76f0e4,#78f0e1,#73f0ea,#68e1f0,#54bef0,#419aef,#419aef,#419aef,#4199ef,#4099ef,#4badf0,#56c1f0,#61d5f0,#6ce9f0,#72f0ec,#74f0e7,#77f0e2,#79f0d8,#7bf0d0,#7cf0c7,#7ef0bf,#7ff0b6,#80f0ae,#80efa6,#80ed9e,#80ec96,#80eb8b,#80e980,#7fe874,#7ce664)"></div>
<div style="position:absolute;left:0;top:286.00px;width:477px;height:6.10px;background:linear-gradient(90deg,#72f0ec,#67e0f0,#57c2f0,#47a5f0,#3888ee,#46a3f0,#55bff0,#64daf0,#71f0ee,#73f0e9,#76f0e5,#78f0e0,#7af0d5,#76f0e5,#71f0ef,#5fd1f0,#4badf0,#49aaf0,#47a6f0,#46a3f0,#44a0ef,#4fb4f0,#5ac9f0,#66def0,#70f0ef,#73f0ea,#76f0e4,#79f0dc,#7bf0d0,#7cf0c7,#7ef0be,#7ff0b6,#80f0ad,#80eea5,#80ed9d,#80ec95,#80eb8c,#80e981,#7fe874,#7be663,#78e452)"></div>
<div style="position:absolute;left:0;top:291.50px;width:477px;height:6.10px;background:linear-gradient(90deg,#75f0e6,#70f0ef,#5ed0f0,#4badf0,#398aee,#48a7f0,#57c4f0,#67e0f0,#72f0ec,#75f0e7,#78f0e1,#7af0d5,#7cf0c8,#78f0df,#73f0e9,#69e4f0,#55c0f0,#52baf0,#4eb3f0,#4badf0,#47a6f0,#53bcf0,#5fd1f0,#6be7f0,#72f0ed,#75f0e7,#78f0e1,#7af0d5,#7cf0c7,#7ef0bf,#7ff0b6,#80f0ad,#80eea5,#80ed9c,#80ec94,#80eb8b,#80ea83,#7fe876,#7ce664,#78e452,#74e240)"></div>
<div style="position:absolute;left:0;top:297.00px;width:477px;height:6.10px;background:linear-gradient(90deg,#79f0da,#74f0e7,#6deaf0,#59c6f0,#45a1f0,#52baf0,#60d2f0,#6debf0,#73f0eb,#76f0e4,#79f0dc,#7bf0ce,#7df0c0,#7af0d4,#76f0e4,#72f0ed,#64dbf0,#60d3f0,#5bcaf0,#57c2f0,#52baf0,#5dcef0,#68e1f0,#71f0ef,#73f0e9,#76f0e3,#79f0db,#7bf0ce,#7df0c2,#7ff0b8,#80f0af,#80efa6,#80ed9e,#80ec94,#80eb8b,#80e982,#80e878,#7ce667,#78e455,#74e244,#70e032)"></div>
<div style="position:absolute;left:0;top:302.50px;width:477px;height:6.10px;background:linear-gradient(90deg,#7cf0c6,#78f0dd,#73f0e9,#69e4f0,#55bff0,#5fd2f0,#6ae4f0,#71f0ee,#74f0e9,#77f0e2,#7af0d7,#7cf0c8,#7ef0ba,#7cf0cb,#79f0dc,#75f0e6,#71f0ee,#6feff0,#6ae5f0,#65dcf0,#5fd2f0,#69e3f0,#71f0ef,#73f0ea,#75f0e5,#78f0e0,#7af0d4,#7cf0c9,#7ef0bd,#7ff0b3,#80efaa,#80eea1,#80ec97,#80eb8d,#80e982,#80e878,#7de669,#79e458,#75e347,#71e136,#6ee02d)"></div>
<div style="position:absolute;left:0;top:308.00px;width:477px;height:6.10px;background:linear-gradient(90deg,#80f0b2,#7cf0ca,#78f0e0,#73f0eb,#65dcf0,#6ce9f0,#71f0ee,#73f0eb,#75f0e7,#78f0e0,#7af0d1,#7df0c2,#7ff0b3,#7df0c1,#7bf0d0,#78f0de,#75f0e5,#74f0e9,#72f0ec,#71f0ef,#6deaf0,#71f0ee,#73f0ea,#75f0e6,#77f0e2,#79f0d9,#7bf0ce,#7df0c3,#7ff0b8,#80f0ae,#80eea4,#80ed9b,#80ec91,#80ea85,#80e87a,#7de66a,#79e559,#75e349,#72e138,#6fe02e,#6ce029)"></div>
<div style="position:absolute;left:0;top:313.50px;width:477px;height:6.10px;background:linear-gradient(90deg,#80ee9f,#7ff0b6,#7bf0ce,#77f0e3,#71f0ed,#72f0eb,#73f0e9,#74f0e7,#75f0e5,#79f0dc,#7bf0cc,#7ef0bc,#80f0ad,#7ff0b8,#7df0c3,#7bf0cf,#79f0da,#78f0e1,#76f0e4,#74f0e7,#73f0eb,#74f0e8,#76f0e4,#77f0e1,#79f0dc,#7af0d1,#7cf0c7,#7ef0bd,#80f0b3,#80efa9,#80ee9f,#80ec95,#80eb8b,#80e97e,#7ee76e,#7ae55c,#76e349,#72e139,#6fe02e,#6de029,#6ae025)"></div>
<div style="position:absolute;left:0;top:319.00px;width:477px;height:6.10px;background:linear-gradient(90deg,#80eb8c,#80eea3,#7ef0bb,#7af0d3,#75f0e5,#76f0e5,#76f0e4,#76f0e4,#76f0e3,#7af0d7,#7cf0c6,#7ff0b6,#80efa6,#80f0ae,#7ff0b7,#7df0bf,#7cf0c8,#7bf0d0,#79f0d9,#78f0e0,#76f0e4,#77f0e2,#78f0de,#79f0d9,#7af0d3,#7cf0ca,#7df0c1,#7ff0b7,#80f0ae,#80eea4,#80ed99,#80eb8f,#80ea84,#7fe876,#7be662,#77e34e,#72e13a,#6fe02e,#6de02a,#6be025,#68e021)"></div>
<div style="position:absolute;left:0;top:324.50px;width:477px;height:6.10px;background:linear-gradient(90deg,#80e879,#80ec91,#80efa8,#7df0c1,#79f0d9,#79f0dc,#78f0de,#78f0e0,#77f0e1,#7af0d2,#7df0c1,#80f0b0,#80eea0,#80eea5,#80efab,#80f0b0,#7ff0b6,#7ef0bf,#7cf0c8,#7af0d1,#79f0da,#7af0d7,#7af0d3,#7bf0cf,#7bf0cb,#7df0c3,#7ef0ba,#80f0b1,#80efa9,#80ed9e,#80ec94,#80ea89,#80e97e,#7de76b,#78e455,#74e240,#6fe02e,#6de02a,#6be025,#69e021,#66e01d)"></div>
<div style="position:absolute;left:0;top:330.00px;width:477px;height:6.10px;background:linear-gradient(90deg,#7ae55f,#80e97e,#80ec96,#80f0ae,#7cf0c7,#7bf0cd,#7af0d3,#79f0d9,#78f0df,#7bf0cd,#7ef0bc,#80efaa,#80ed9a,#80ed9c,#80ee9f,#80eea1,#80eea4,#80f0ae,#7ff0b7,#7df0c2,#7bf0cc,#7cf0c9,#7cf0c7,#7cf0c5,#7df0c3,#7ef0bb,#7ff0b3,#80efac,#80eea4,#80ed99,#80eb8e,#80ea83,#80e878,#7be560,#76e349,#70e032,#6de02a,#6be025,#69e021,#66e01d,#64e019)"></div>
<div style="position:absolute;left:0;top:335.50px;width:477px;height:6.10px;background:linear-gradient(90deg,#75e244,#7ce667,#80ea84,#80ed9c,#7ff0b5,#7ef0be,#7cf0c8,#7af0d1,#79f0db,#7cf0c8,#7ff0b6,#80eea5,#80ec93,#80ec93,#80ec93,#80ec93,#80ec93,#80ed9d,#80efa7,#80f0b2,#7ef0bd,#7ef0bc,#7ef0bc,#7ef0bb,#7ef0bb,#7ff0b4,#80f0ad,#80efa6,#80eea0,#80ec94,#80ea89,#80e97d,#7ee76f,#78e456,#73e13d,#6ee02c,#6be025,#68e021,#66e01d,#64e019,#62e015)"></div>
<div style="position:absolute;left:0;top:341.00px;width:477px;height:6.10px;background:linear-gradient(90deg,#6fe02e,#76e34c,#7ee76f,#80eb8b,#80eea3,#80f0b0,#7ef0bd,#7cf0ca,#7af0d6,#7df0c4,#80f0b1,#80ee9f,#80eb8d,#80eb8a,#80ea87,#80ea84,#80e981,#80eb8c,#80ed98,#80eea3,#80f0ae,#80f0af,#80f0b0,#80f0b1,#80f0b2,#80efac,#80efa7,#80eea1,#80ed9b,#80eb8f,#80ea83,#80e877,#7ce666,#76e34b,#70e031,#6ce028,#68e020,#66e01c,#64e019,#62e015,#60e011)"></div>
<div style="position:absolute;left:0;top:346.50px;width:477px;height:6.10px;background:linear-gradient(90deg,#6be026,#70e032,#78e456,#80e879,#80ec92,#80eea2,#80f0b1,#7df0c2,#7af0d2,#7ef0bf,#80efac,#80ed99,#80ea87,#80e981,#80e87b,#7fe875,#7de76d,#80e97c,#80ea88,#80ec94,#80eea0,#80eea2,#80eea5,#80efa8,#80efaa,#80eea5,#80eea0,#80ed9b,#80ec96,#80eb8a,#80e97e,#7ee76e,#7ae55d,#74e241,#6ee02d,#6ae024,#66e01c,#64e018,#62e014,#60e011,#62e10f)"></div>
<div style="position:absolute;left:0;top:352.00px;width:477px;height:6.10px;background:linear-gradient(90deg,#67e01e,#6ce029,#73e13c,#7be560,#80e980,#80ec94,#80efa7,#7ef0ba,#7bf0ce,#7ef0ba,#80efa7,#80ec94,#80e980,#80e878,#7de76c,#7be560,#78e454,#7ce666,#80e878,#80ea85,#80ec91,#80ec96,#80ed9a,#80ed9e,#80eea2,#80ed9e,#80ed9a,#80ec96,#80ec91,#80ea85,#80e878,#7ce666,#78e454,#71e136,#6ce029,#68e020,#64e017,#62e014,#60e010,#62e10f,#65e20e)"></div>
<div style="position:absolute;left:0;top:357.50px;width:477px;height:6.10px;background:linear-gradient(90deg,#62e015,#68e021,#6ee02c,#76e34b,#7fe772,#80ea87,#80ed9a,#80f0ae,#7df0c2,#80f0ad,#80ed9a,#80ea86,#7ee770,#7be663,#78e456,#75e349,#73e13b,#77e34f,#7be662,#7fe875,#80ea83,#80ea87,#80eb8c,#80eb90,#80ec94,#80eb90,#80eb8c,#80ea87,#80ea83,#80e877,#7ce666,#78e455,#75e244,#6fe02d,#6ae025,#66e01c,#62e013,#61e010,#65e20e,#68e30d,#6be40c)"></div>
<div style="position:absolute;left:0;top:363.00px;width:477px;height:6.10px;background:linear-gradient(90deg,#63e10f,#64e018,#6be025,#71e136,#7be560,#80e87b,#80eb8e,#80eea2,#7ff0b5,#80eea1,#80eb8d,#80e878,#7ae55c,#77e34e,#73e23f,#70e031,#6ee02c,#72e137,#76e34b,#7be560,#7fe874,#80e879,#80e97e,#80e982,#80ea86,#80e982,#80e97e,#80e879,#7fe874,#7ce664,#78e454,#75e245,#71e135,#6ce029,#68e020,#64e018,#61e010,#65e20e,#69e30d,#6ee50b,#72e60a)"></div>
<div style="position:absolute;left:0;top:368.50px;width:477px;height:6.10px;background:linear-gradient(90deg,#69e30d,#60e010,#67e01e,#6ee02b,#77e34e,#7de66a,#80e982,#80ec96,#80efa9,#80ec94,#80e980,#7ce665,#75e348,#72e138,#6fe02e,#6de029,#6ae025,#6ee02b,#71e135,#76e34a,#7be560,#7ce666,#7de76c,#7fe772,#80e878,#7fe772,#7de76c,#7ce666,#7be560,#77e451,#74e242,#71e034,#6ee02d,#6ae024,#66e01c,#62e014,#63e10f,#69e30d,#6ee50b,#73e60a,#7be808)"></div>
<div style="position:absolute;left:0;top:374.00px;width:477px;height:6.10px;background:linear-gradient(90deg,#6fe50b,#66e20e,#63e016,#6be025,#73e13d,#79e559,#7fe875,#80eb8a,#80ed9d,#80ea88,#7ee770,#78e452,#71e034,#6ee02c,#6ce027,#69e022,#67e01e,#6ae024,#6de02b,#71e135,#76e34c,#77e452,#79e458,#7ae55e,#7be664,#7ae55e,#79e458,#77e452,#76e34c,#73e23e,#70e031,#6ee02c,#6ce028,#68e020,#64e018,#60e010,#66e20e,#6ce40c,#73e60a,#7be809,#8ee80c)"></div>
<div style="position:absolute;left:0;top:379.50px;width:477px;height:6.10px;background:linear-gradient(90deg,#76e709,#6be40c,#61e010,#67e01f,#6fe02e,#75e347,#7be663,#80e97e,#80ec92,#80e97c,#7ae55e,#73e23f,#6ee02b,#6be026,#68e021,#66e01b,#63e016,#67e01d,#6ae024,#6ee02b,#72e138,#73e23e,#74e244,#76e34a,#77e450,#76e34a,#74e244,#73e23e,#72e138,#6fe02f,#6de02b,#6ce027,#6ae024,#66e01b,#62e013,#63e10f,#69e30d,#70e50b,#77e808,#8ce80b,#a1e80f)"></div>
<div style="position:absolute;left:0;top:385.00px;width:477px;height:6.10px;background:linear-gradient(90deg,#83e80a,#71e60a,#65e20e,#64e019,#6de029,#71e136,#78e452,#7ee76f,#80ea86,#7de76c,#76e34b,#6fe02f,#6be025,#68e020,#65e01a,#62e015,#61e010,#63e016,#67e01e,#6ae025,#6ee02c,#6fe02e,#70e030,#71e135,#73e13b,#71e135,#70e030,#6fe02e,#6ee02c,#6ce029,#6be026,#69e022,#67e01f,#63e017,#61e010,#66e20e,#6be40c,#74e709,#84e80a,#9ce80e,#b1ea12)"></div>
<div style="position:absolute;left:0;top:390.50px;width:477px;height:6.10px;background:linear-gradient(90deg,#95e80d,#76e709,#6ae30d,#61e012,#6ae024,#6ee02c,#74e241,#7ae55e,#80e87a,#79e55a,#72e139,#6ce029,#68e01f,#65e019,#62e013,#62e10f,#66e20e,#60e010,#64e017,#67e01f,#6be026,#6ce028,#6de02a,#6ee02c,#6fe02d,#6ee02c,#6de02a,#6ce028,#6be026,#6ae023,#68e020,#67e01d,#65e01a,#61e013,#64e10f,#69e30d,#6ee50b,#77e808,#91e80c,#abe911,#c0ee16)"></div>
<div style="position:absolute;left:0;top:396.00px;width:477px;height:6.10px;background:linear-gradient(90deg,#a7e810,#83e80a,#6fe50b,#63e10f,#67e01f,#6ce027,#70e030,#76e34d,#7de66a,#75e348,#6fe02d,#6ae023,#65e019,#62e013,#62e10f,#66e20e,#6ae30d,#65e20e,#60e010,#64e018,#68e020,#69e022,#6ae024,#6be026,#6ce027,#6be026,#6ae024,#69e022,#68e020,#67e01e,#65e01b,#64e018,#63e016,#61e010,#66e20e,#6ce40c,#71e60a,#81e809,#9fe80e,#b8ec14,#d0f01a)"></div>
<div style="position:absolute;left:0;top:401.50px;width:477px;height:6.10px;background:linear-gradient(90deg,#b5eb13,#93e80c,#74e709,#67e20e,#65e019,#69e022,#6de02b,#73e13c,#79e559,#72e137,#6ce028,#67e01e,#62e013,#62e10f,#67e20e,#6be40c,#6fe50b,#6ae30d,#64e10f,#61e012,#65e01a,#66e01c,#67e01e,#68e020,#69e022,#68e020,#67e01e,#66e01c,#65e01a,#64e018,#63e016,#62e013,#60e011,#64e10f,#69e30d,#6ee50b,#73e60a,#8be80b,#abe911,#c5ef17,#e1f01d)"></div>
<div style="position:absolute;left:0;top:407.00px;width:477px;height:6.10px;background:linear-gradient(90deg,#c3ef17,#a3e80f,#7be809,#6be40c,#62e014,#66e01d,#6be026,#6fe02e,#75e349,#6ee02d,#69e022,#64e018,#62e10f,#66e20e,#6be40c,#70e50b,#74e709,#6ee50b,#69e30d,#63e10f,#62e014,#63e016,#64e018,#65e01a,#66e01c,#65e01a,#64e018,#63e016,#62e014,#61e012,#60e010,#61e010,#62e10f,#67e20e,#6ce40c,#71e60a,#76e709,#96e80d,#b6eb13,#d2f01a,#f0ec20)"></div>
<div style="position:absolute;left:0;top:412.50px;width:477px;height:6.10px;background:linear-gradient(90deg,#d5f01b,#b2eb13,#8be80b,#70e50b,#61e010,#64e018,#68e021,#6de02a,#72e139,#6ce028,#66e01d,#61e012,#66e20e,#6be40c,#70e50b,#76e709,#81e809,#75e709,#6ee50b,#68e30d,#61e010,#60e010,#61e012,#62e014,#63e016,#62e014,#61e013,#60e011,#61e010,#62e10f,#63e10f,#65e20e,#66e20e,#6be40c,#70e50b,#75e709,#7ee809,#a4e80f,#c2ef17,#e2f01d,#f0cb20)"></div>
<div style="position:absolute;left:0;top:418.00px;width:477px;height:6.10px;background:linear-gradient(90deg,#f0f020,#c6f018,#9fe80f,#75e709,#64e10f,#61e013,#66e01c,#6be025,#6fe02f,#6ae023,#64e018,#62e10f,#6ae30d,#71e60a,#79e808,#8ee80c,#a3e80f,#8ce80b,#77e808,#6fe50b,#67e20e,#65e20e,#62e10f,#60e010,#61e013,#60e011,#61e010,#62e10f,#63e10f,#66e20e,#68e30d,#6ae30d,#6ce40c,#72e60a,#78e808,#87e80b,#98e80d,#b8ec14,#d7f01b,#f0e220,#f0a424)"></div>
<div style="position:absolute;left:0;top:423.50px;width:477px;height:6.10px;background:linear-gradient(90deg,#f0bd20,#dcf01c,#b1ea12,#7fe809,#68e30d,#62e10f,#64e017,#68e021,#6de02b,#67e01f,#62e013,#66e20e,#6ee50b,#77e808,#90e80c,#aae911,#bfee16,#a9e810,#8ee80c,#76e709,#6ce40c,#69e30d,#66e20e,#63e10f,#60e010,#62e10f,#63e10f,#65e20e,#66e20e,#69e30d,#6ce40c,#6fe50b,#72e60a,#79e808,#8ce80b,#9fe80e,#afea12,#ccf019,#ecf01f,#f0bb20,#f07d31)"></div>
<div style="position:absolute;left:0;top:429.00px;width:477px;height:6.10px;background:linear-gradient(90deg,#f0882d,#f0ea20,#c1ee16,#8ee80c,#6ce40c,#65e20e,#61e013,#66e01d,#6be027,#65e01a,#61e010,#6ae30d,#72e60a,#87e80a,#a7e810,#c1ee16,#dcf01c,#c0ee16,#a7e810,#86e80a,#71e60a,#6ee50b,#6ae30d,#66e20e,#62e10f,#64e10f,#66e20e,#67e20e,#69e30d,#6ce40c,#70e50b,#74e709,#78e808,#8ce80b,#a1e80f,#b3eb13,#c3ef17,#e2f01d,#f0cf20,#f0922a,#f05d37)"></div>
<div style="position:absolute;left:0;top:434.50px;width:477px;height:6.10px;background:linear-gradient(90deg,#f05c37,#f0c020,#d2f01a,#9ee80e,#6fe50b,#68e30d,#61e010,#64e018,#69e023,#63e016,#65e20e,#6de40c,#76e709,#98e80d,#b9ec14,#d9f01b,#f0dc20,#d9f01b,#baed15,#9ae80e,#77e808,#72e60a,#6ee50b,#69e30d,#65e20e,#66e20e,#68e30d,#6ae30d,#6be40c,#70e50b,#74e709,#7be808,#88e80b,#9fe80e,#b3eb13,#c5ef17,#d9f01b,#f0e120,#f0a623,#f06e34,#f0462f)"></div>
<div style="position:absolute;left:0;top:440.00px;width:477px;height:6.10px;background:linear-gradient(90deg,#f03e2b,#f09429,#e4f01e,#ace911,#73e60a,#6ce40c,#64e10f,#62e014,#67e01f,#61e011,#68e30d,#71e60a,#7de809,#a9e810,#ccf019,#f0ec20,#f0a225,#f0e920,#cef019,#ade911,#84e80a,#77e808,#72e60a,#6ce40c,#67e20e,#69e30d,#6ae30d,#6ce40c,#6ee50b,#73e60a,#7ae808,#89e80b,#98e80d,#b0ea12,#c3ef17,#d9f01b,#f0f020,#f0b720,#f07d31,#f05134,#ee3325)"></div>
<div style="position:absolute;left:0;top:445.50px;width:477px;height:6.10px;background:linear-gradient(90deg,#eb291e,#f06c34,#f0e520,#b8ec14,#76e709,#6fe50b,#68e30d,#60e010,#65e01b,#62e10f,#6be40c,#75e709,#89e80b,#b6ec14,#e0f01d,#f0bc20,#f06b34,#f0b820,#e4f01e,#bced15,#93e80d,#82e80a,#75e709,#6fe50b,#69e30d,#6be40c,#6de40c,#6fe50b,#71e60a,#77e808,#86e80a,#97e80d,#a9e810,#beee16,#d5f01b,#eef020,#f0c620,#f08c2c,#f05b37,#f03a29,#ea251b)"></div>
<div style="position:absolute;left:0;top:451.00px;width:477px;height:6.10px;background:linear-gradient(90deg,#e81e16,#f04e33,#f0c220,#c4ef17,#7de809,#72e60a,#6be40c,#63e10f,#63e017,#65e20e,#6fe50b,#79e808,#94e80d,#c4ef17,#f0e820,#f08a2d,#f0452e,#f0842f,#f0dd20,#cdf019,#a2e80f,#8fe80c,#7be809,#72e60a,#6be40c,#6de40c,#6fe50b,#71e60a,#73e60a,#7fe809,#92e80c,#a6e810,#b6eb13,#cdf019,#e8f01e,#f0ce20,#f09b27,#f06735,#f0432e,#ec2b1f,#e81e16)"></div>
<div style="position:absolute;left:0;top:456.50px;width:477px;height:6.10px;background:linear-gradient(90deg,#e41a12,#f03727,#f0a025,#d1f01a,#88e80b,#76e709,#6ee50b,#66e20e,#61e013,#68e30d,#72e60a,#83e80a,#a0e80f,#d2f01a,#f0c220,#f06036,#ec2b1f,#f05a38,#f0b320,#def01c,#b0ea12,#9ce80e,#86e80a,#75e709,#6ee50b,#70e50b,#72e60a,#74e709,#76e709,#88e80b,#9ee80e,#b1ea12,#c2ef17,#def01c,#f0dc20,#f0a623,#f07233,#f04b32,#ed3023,#e81f17,#e61b13)"></div>
<div style="position:absolute;left:0;top:462.00px;width:477px;height:6.10px;background:linear-gradient(90deg,#e01810,#ea271d,#f07d31,#def01c,#92e80c,#7be808,#71e60a,#69e30d,#61e010,#6be40c,#75e709,#8ee80c,#abe911,#e2f01d,#f09b27,#f0432d,#e81e16,#f03e2b,#f0882d,#f0f020,#bbed15,#a9e810,#91e80c,#79e808,#70e50b,#72e60a,#74e709,#77e808,#7ae808,#92e80c,#aae810,#bded15,#d0f01a,#eff020,#f0b920,#f07e30,#f05135,#ef3526,#e82119,#e81c14,#e11911)"></div>
<div style="position:absolute;left:0;top:467.50px;width:477px;height:6.10px;background:linear-gradient(90deg,#e01810,#e81e16,#f06036,#ecf01f,#9ce80e,#84e80a,#74e709,#6ce40c,#63e10f,#6ee50b,#7ae808,#98e80d,#b4eb13,#f0ee20,#f07532,#ec2d21,#e31a12,#eb291e,#f06436,#f0ce20,#c7f018,#b3eb13,#9ce80e,#81e80a,#72e60a,#74e709,#77e808,#7be809,#82e80a,#9ce80e,#b3eb13,#c8f018,#dff01d,#f0d320,#f09529,#f05e37,#f03a29,#ea261c,#e81d15,#e31911,#e01810)"></div>
</div>
<div style="position:absolute;left:1580px;top:35.6px;width:61.5px;height:473.0px;background:linear-gradient(180deg,#0a3ada,#0d3ddc,#1040de,#1343df,#1a4fe4,#2562ea,#3786ee,#4db1f0,#65dcf0,#73f0e9,#79f0da,#7df0c0,#80efa6,#80eb8c,#7ee770,#76e34c,#6fe02e,#6ae023,#64e018,#61e010,#69e30d,#70e50b,#77e808,#8ae80b,#9fe80e,#b1ea12,#c1ee16,#d2f01a,#e4f01e,#f0e420,#f0c220,#f09f26,#f07c31,#f06036,#f04a31,#f03727,#eb2a1f,#e81f17,#e81c14,#e51a12)"></div>
<div style="position:absolute;left:293.6px;top:710.5px;width:477.0px;height:473.5px;overflow:hidden">
<div style="position:absolute;left:0;top:0.00px;width:477.0px;height:6.11px;background:linear-gradient(90deg,#e6f01e,#daf01c,#cff019,#c4ef17,#b9ec14,#a9e810,#96e80d,#82e80a,#74e709,#72e60a,#70e50b,#6de40c,#6be40c,#62e10f,#66e01b,#6ce029,#75e347,#6fe02e,#6be026,#67e01e,#63e016,#62e014,#61e013,#60e011,#60e010,#66e01d,#6de02a,#76e34b,#80e879,#80e980,#80ea88,#80eb90,#80ed98,#80e87b,#78e454,#6fe02f,#69e023,#66e01c,#62e015,#62e10f,#66e20e)"></div>
<div style="position:absolute;left:0;top:5.51px;width:477.0px;height:6.11px;background:linear-gradient(90deg,#f0ec20,#e4f01e,#d6f01b,#c8f018,#bbed15,#ace911,#9ae80e,#87e80a,#77e808,#74e709,#72e60a,#70e50b,#6ee50b,#66e20e,#62e015,#69e022,#6fe02f,#6ce028,#68e021,#65e01a,#62e013,#61e012,#60e011,#60e010,#61e010,#65e01a,#6be026,#72e139,#7be663,#7de76c,#7fe875,#80e97d,#80ea84,#7be663,#73e13d,#6ce029,#67e01d,#63e017,#60e010,#65e20e,#69e30d)"></div>
<div style="position:absolute;left:0;top:11.01px;width:477.0px;height:6.11px;background:linear-gradient(90deg,#f0d620,#edf01f,#ddf01c,#cdf019,#beed15,#afea12,#9fe80e,#8ce80b,#7ae808,#77e808,#75e709,#73e60a,#71e60a,#69e30d,#61e010,#65e01b,#6be027,#69e021,#66e01c,#63e016,#60e010,#60e010,#61e010,#62e10f,#62e10f,#64e018,#69e023,#6fe02d,#76e34c,#78e454,#7ae55c,#7be664,#7de76b,#75e348,#6ee02d,#69e022,#64e018,#61e011,#64e10f,#68e30d,#6de40c)"></div>
<div style="position:absolute;left:0;top:16.52px;width:477.0px;height:6.11px;background:linear-gradient(90deg,#f0c020,#f0e320,#e4f01e,#d2f01a,#c0ee16,#b2ea12,#a3e80f,#92e80c,#81e809,#7ce809,#78e808,#76e709,#75e709,#6de40c,#65e20e,#62e014,#67e01f,#65e01b,#63e016,#61e012,#61e010,#62e10f,#62e10f,#63e10f,#63e10f,#62e015,#67e01f,#6ce028,#71e136,#73e13c,#74e242,#75e348,#77e34e,#70e02f,#6be026,#66e01c,#61e013,#63e10f,#67e20e,#6be40c,#70e50b)"></div>
<div style="position:absolute;left:0;top:22.02px;width:477.0px;height:6.11px;background:linear-gradient(90deg,#f0ac21,#f0d120,#ecf01f,#d7f01b,#c2ef17,#b4eb13,#a8e810,#97e80d,#87e80a,#83e80a,#7fe809,#7be809,#78e808,#71e60a,#69e30d,#62e10f,#63e017,#62e014,#61e011,#61e010,#63e10f,#63e10f,#64e10f,#64e10f,#64e10f,#61e012,#65e01b,#69e023,#6ee02b,#6ee02c,#6fe02e,#70e02f,#70e031,#6ce028,#67e01f,#63e016,#62e10f,#66e20e,#6ae30d,#6fe50b,#73e60a)"></div>
<div style="position:absolute;left:0;top:27.53px;width:477.0px;height:6.11px;background:linear-gradient(90deg,#f09828,#f0bf20,#f0eb20,#dcf01c,#c5ef17,#b7ec14,#abe911,#9de80e,#8de80c,#8ae80b,#87e80a,#83e80a,#80e809,#74e709,#6ee50b,#67e20e,#61e010,#62e10f,#63e10f,#64e10f,#65e20e,#65e20e,#65e20e,#65e20e,#65e20e,#60e010,#63e017,#67e01e,#6ae025,#6be025,#6be026,#6be027,#6ce028,#68e020,#64e018,#60e010,#65e20e,#69e30d,#6ee50b,#72e60a,#76e709)"></div>
<div style="position:absolute;left:0;top:33.03px;width:477.0px;height:6.11px;background:linear-gradient(90deg,#f0842f,#f0af20,#f0dd20,#e0f01d,#c7f018,#baed15,#afea12,#a2e80f,#94e80d,#91e80c,#8ee80c,#8ce80b,#89e80b,#78e808,#72e60a,#6ce40c,#66e20e,#66e20e,#66e20e,#67e20e,#67e20e,#67e20e,#66e20e,#66e20e,#66e20e,#62e10f,#61e013,#64e018,#67e01e,#67e01e,#67e01f,#67e01f,#68e01f,#64e018,#61e011,#64e10f,#69e30d,#6de40c,#71e60a,#75e709,#7be809)"></div>
<div style="position:absolute;left:0;top:38.54px;width:477.0px;height:6.11px;background:linear-gradient(90deg,#f07432,#f09f26,#f0cf20,#e5f01e,#caf018,#bded15,#b2eb13,#a8e810,#9ae80e,#98e80d,#96e80d,#94e80d,#92e80c,#82e80a,#76e709,#71e60a,#6be40c,#6be40c,#6ae30d,#69e30d,#69e30d,#68e30d,#68e30d,#67e20e,#67e20e,#64e10f,#61e010,#61e013,#64e017,#64e017,#63e017,#63e017,#63e017,#60e010,#64e10f,#68e30d,#6ce40c,#70e50b,#74e709,#79e808,#84e80a)"></div>
<div style="position:absolute;left:0;top:44.05px;width:477.0px;height:6.11px;background:linear-gradient(90deg,#f06835,#f08f2b,#f0c220,#eaf01f,#ccf019,#c0ee16,#b6eb13,#ace911,#a1e80f,#9fe80f,#9ee80e,#9ce80e,#9be80e,#8de80b,#7fe809,#76e709,#71e60a,#6fe50b,#6ee50b,#6ce40c,#6ae30d,#6ae30d,#69e30d,#68e30d,#68e30d,#66e20e,#64e10f,#62e10f,#60e011,#60e010,#60e010,#61e010,#61e010,#65e20e,#69e30d,#6ce40c,#70e50b,#74e709,#78e808,#82e80a,#8de80c)"></div>
<div style="position:absolute;left:0;top:49.55px;width:477.0px;height:6.11px;background:linear-gradient(90deg,#f05c37,#f07f30,#f0b520,#eff020,#cff019,#c4ef17,#b9ec14,#b0ea12,#a7e810,#a6e810,#a5e810,#a4e80f,#a4e80f,#97e80d,#8be80b,#7fe809,#76e709,#74e709,#71e60a,#6fe50b,#6ce40c,#6be40c,#6ae30d,#69e30d,#68e30d,#67e20e,#66e20e,#65e20e,#64e10f,#65e20e,#66e20e,#66e20e,#67e20e,#6ae30d,#6de40c,#70e50b,#74e709,#77e808,#81e809,#8be80b,#96e80d)"></div>
<div style="position:absolute;left:0;top:55.06px;width:477.0px;height:6.11px;background:linear-gradient(90deg,#f05335,#f07432,#f0a922,#f0e820,#d1f01a,#c7f018,#bded15,#b4eb13,#ace911,#ace911,#ace911,#ace911,#ace911,#a2e80f,#97e80d,#8de80b,#82e80a,#78e808,#75e709,#71e60a,#6ee50b,#6de40c,#6ce40c,#6be40c,#69e30d,#69e30d,#69e30d,#69e30d,#68e30d,#6ae30d,#6be40c,#6ce40c,#6de40c,#6fe50b,#72e60a,#75e709,#77e808,#80e809,#8ae80b,#95e80d,#9fe80e)"></div>
<div style="position:absolute;left:0;top:60.56px;width:477.0px;height:6.11px;background:linear-gradient(90deg,#f04e33,#f06d34,#f09d26,#f0da20,#d9f01b,#cef019,#c3ef17,#b9ec14,#b0ea12,#b0ea12,#b0ea12,#b0ea12,#b0ea12,#a9e810,#9fe80f,#95e80d,#8be80b,#81e80a,#78e808,#74e709,#71e60a,#70e50b,#6ee50b,#6de40c,#6ce40c,#6ce40c,#6ce40c,#6ce40c,#6ce40c,#6de40c,#6ee50b,#6fe50b,#70e50b,#73e60a,#75e709,#78e808,#7ee809,#88e80b,#92e80c,#9ce80e,#a6e810)"></div>
<div style="position:absolute;left:0;top:66.07px;width:477.0px;height:6.11px;background:linear-gradient(90deg,#f04b31,#f06635,#f0912a,#f0cb20,#e2f01d,#d6f01b,#caf018,#bfee16,#b4eb13,#b4eb13,#b4eb13,#b4eb13,#b4eb13,#ade911,#a5e810,#9ce80e,#93e80d,#89e80b,#80e809,#77e808,#74e709,#73e60a,#71e60a,#70e50b,#6fe50b,#6fe50b,#6fe50b,#6fe50b,#6fe50b,#70e50b,#71e60a,#72e60a,#73e60a,#75e709,#78e808,#7fe809,#85e80a,#8fe80c,#99e80d,#a3e80f,#abe911)"></div>
<div style="position:absolute;left:0;top:71.58px;width:477.0px;height:6.11px;background:linear-gradient(90deg,#f04730,#f06036,#f0852e,#f0bb20,#ebf01f,#def01c,#d1f01a,#c4ef17,#b8ec14,#b8ec14,#b8ec14,#b8ec14,#b8ec14,#b2ea12,#abe911,#a3e80f,#9be80e,#91e80c,#88e80b,#7fe809,#77e808,#76e709,#75e709,#73e60a,#72e60a,#72e60a,#72e60a,#72e60a,#72e60a,#73e60a,#74e709,#75e709,#76e709,#78e808,#7fe809,#86e80a,#8de80c,#96e80d,#a0e80f,#a9e810,#b0ea12)"></div>
<div style="position:absolute;left:0;top:77.08px;width:477.0px;height:6.11px;background:linear-gradient(90deg,#f0422d,#f05a38,#f07a31,#f0ae21,#f0e720,#e6f01e,#d8f01b,#caf018,#bded15,#bded15,#bded15,#bded15,#bded15,#b6ec14,#b0ea12,#aae810,#a2e80f,#99e80e,#90e80c,#87e80b,#7ee809,#7be808,#78e808,#77e808,#75e709,#75e709,#75e709,#75e709,#75e709,#76e709,#77e808,#78e808,#79e808,#80e809,#87e80a,#8ee80c,#95e80d,#9ee80e,#a7e810,#aeea12,#b5eb13)"></div>
<div style="position:absolute;left:0;top:82.59px;width:477.0px;height:6.11px;background:linear-gradient(90deg,#f03e2b,#f05536,#f07233,#f0a025,#f0d620,#eff020,#dff01d,#d0f01a,#c2ee16,#c2ee16,#c2ee16,#c2ee16,#c2ee16,#bbed15,#b5eb13,#afea12,#aae810,#a1e80f,#99e80d,#90e80c,#87e80a,#84e80a,#80e809,#7de809,#79e808,#79e808,#79e808,#79e808,#79e808,#7be809,#7de809,#7fe809,#81e809,#88e80b,#8fe80c,#96e80d,#9ce80e,#a5e810,#ade911,#b3eb13,#bbed15)"></div>
<div style="position:absolute;left:0;top:88.09px;width:477.0px;height:6.11px;background:linear-gradient(90deg,#f03928,#f05134,#f06b34,#f0922a,#f0c520,#f0e320,#e6f01e,#d6f01b,#c6f018,#c6f018,#c6f018,#c6f018,#c6f018,#c0ee16,#baed15,#b5eb13,#b0ea12,#a9e810,#a1e80f,#98e80d,#90e80c,#8ce80b,#89e80b,#86e80a,#82e80a,#82e80a,#82e80a,#82e80a,#82e80a,#84e80a,#85e80a,#87e80a,#89e80b,#8fe80c,#96e80d,#9de80e,#a4e80f,#abe911,#b2eb13,#b9ec14,#c0ee16)"></div>
<div style="position:absolute;left:0;top:93.60px;width:477.0px;height:6.11px;background:linear-gradient(90deg,#ef3526,#f04c32,#f06436,#f0842f,#f0b520,#f0d420,#eef020,#dcf01c,#cbf019,#cbf019,#cbf019,#cbf019,#cbf019,#c5ef17,#c0ee16,#bbed15,#b6eb13,#afea12,#a9e810,#a1e80f,#99e80d,#95e80d,#92e80c,#8fe80c,#8be80b,#8be80b,#8be80b,#8be80b,#8be80b,#8ce80b,#8ee80c,#8fe80c,#90e80c,#97e80d,#9ee80e,#a5e80f,#abe911,#b1ea12,#b8ec14,#bfee16,#c6f018)"></div>
<div style="position:absolute;left:0;top:99.10px;width:477.0px;height:6.11px;background:linear-gradient(90deg,#ee3224,#f04830,#f05c37,#f07832,#f0a524,#f0c420,#f0e720,#e3f01d,#d0f01a,#d0f01a,#d0f01a,#d0f01a,#d0f01a,#cbf019,#c6ef17,#c1ee16,#bced15,#b5eb13,#afea12,#a9e810,#a2e80f,#9ee80e,#9be80e,#97e80d,#94e80d,#94e80d,#94e80d,#94e80d,#94e80d,#95e80d,#96e80d,#97e80d,#98e80d,#9fe80e,#a6e810,#abe911,#b1ea12,#b7ec14,#beed15,#c5ef17,#cdf019)"></div>
<div style="position:absolute;left:0;top:104.61px;width:477.0px;height:6.11px;background:linear-gradient(90deg,#ed2f22,#f0432d,#f05637,#f07033,#f09629,#f0b620,#f0d920,#e9f01f,#d6f01b,#d6f01b,#d6f01b,#d6f01b,#d6f01b,#d1f01a,#ccf019,#c7f018,#c3ef17,#bced15,#b6eb13,#b0ea12,#aae911,#a7e810,#a4e80f,#a0e80f,#9de80e,#9de80e,#9de80e,#9de80e,#9de80e,#9ee80e,#9ee80e,#9fe80e,#a0e80f,#a6e810,#ace911,#b1ea12,#b7ec14,#bded15,#c4ef17,#cbf019,#d3f01a)"></div>
<div style="position:absolute;left:0;top:110.12px;width:477.0px;height:6.11px;background:linear-gradient(90deg,#ec2c20,#f03d2b,#f05135,#f06835,#f0862e,#f0a823,#f0cb20,#eff020,#dbf01c,#dbf01c,#dbf01c,#dbf01c,#dbf01c,#d7f01b,#d3f01a,#cef019,#caf018,#c3ef17,#bded15,#b7ec14,#b1ea12,#aeea12,#ace911,#a9e810,#a6e810,#a6e810,#a6e810,#a6e810,#a6e810,#a6e810,#a7e810,#a7e810,#a7e810,#ade911,#b2eb13,#b7ec14,#bded15,#c4ef17,#cbf019,#d2f01a,#daf01c)"></div>
<div style="position:absolute;left:0;top:115.62px;width:477.0px;height:6.11px;background:linear-gradient(90deg,#eb291e,#f03828,#f04c32,#f05f37,#f07832,#f09a27,#f0be20,#f0e620,#e0f01d,#e0f01d,#e0f01d,#e0f01d,#e0f01d,#ddf01c,#d9f01b,#d6f01b,#d2f01a,#cbf019,#c4ef17,#beee16,#b8ec14,#b5eb13,#b3eb13,#b0ea12,#ade911,#ade911,#ade911,#ade911,#ade911,#ade911,#ade911,#ade911,#ade911,#b3eb13,#b8ec14,#beee16,#c4ef17,#cbf019,#d2f01a,#d9f01b,#e0f01d)"></div>
<div style="position:absolute;left:0;top:121.13px;width:477.0px;height:6.11px;background:linear-gradient(90deg,#eb281d,#ef3627,#f04a31,#f05b37,#f07333,#f0912a,#f0b520,#f0dc20,#e6f01e,#e6f01e,#e6f01e,#e7f01e,#e7f01e,#e5f01e,#e3f01d,#e1f01d,#dff01d,#d7f01b,#cff019,#c8f018,#c1ee16,#beed15,#baec14,#b6ec14,#b3eb13,#b3eb13,#b2eb13,#b2ea12,#b1ea12,#b1ea12,#b1ea12,#b1ea12,#b0ea12,#b5eb13,#baed15,#c0ee16,#c6ef17,#ccf019,#d3f01a,#daf01c,#e0f01d)"></div>
<div style="position:absolute;left:0;top:126.63px;width:477.0px;height:6.11px;background:linear-gradient(90deg,#ea271d,#ef3526,#f04830,#f05738,#f06e34,#f0892d,#f0ad21,#f0d220,#ebf01f,#ecf01f,#edf01f,#eef020,#eff020,#eef020,#edf01f,#ecf01f,#ebf01f,#e3f01d,#dbf01c,#d3f01a,#cbf019,#c6f018,#c2ee16,#beed15,#b9ec14,#b8ec14,#b7ec14,#b6ec14,#b5eb13,#b5eb13,#b4eb13,#b4eb13,#b3eb13,#b8ec14,#bded15,#c2ee16,#c7f018,#cdf019,#d3f01a,#daf01c,#e0f01d)"></div>
<div style="position:absolute;left:0;top:132.14px;width:477.0px;height:6.11px;background:linear-gradient(90deg,#ea261c,#ee3325,#f0452e,#f05436,#f06835,#f08030,#f0a424,#f0c820,#f0f020,#f0ed20,#f0ea20,#f0e820,#f0e520,#f0e420,#f0e320,#f0e220,#f0e220,#eff020,#e6f01e,#def01c,#d5f01b,#d0f01a,#caf018,#c5ef17,#c0ee16,#bfee16,#bded15,#bbed15,#b9ec14,#b9ec14,#b8ec14,#b7ec14,#b6ec14,#baed15,#bfee16,#c3ef17,#c8f018,#cef019,#d4f01a,#daf01c,#e0f01d)"></div>
<div style="position:absolute;left:0;top:137.65px;width:477.0px;height:6.11px;background:linear-gradient(90deg,#ea251c,#ee3224,#f0422d,#f05135,#f06336,#f07931,#f09b27,#f0be20,#f0e620,#f0e220,#f0df20,#f0db20,#f0d720,#f0d420,#f0d120,#f0cd20,#f0ca20,#f0db20,#f0ec20,#e9f01f,#e0f01d,#daf01c,#d4f01a,#cdf019,#c7f018,#c5ef17,#c3ef17,#c0ee16,#beee16,#bded15,#bced15,#bbed15,#b9ec14,#bded15,#c1ee16,#c5ef17,#c9f018,#cff019,#d5f01b,#daf01c,#e0f01d)"></div>
<div style="position:absolute;left:0;top:143.15px;width:477.0px;height:6.11px;background:linear-gradient(90deg,#ea251b,#ee3123,#f03f2b,#f04e33,#f05e37,#f07333,#f0922a,#f0b520,#f0dc20,#f0d720,#f0d320,#f0ce20,#f0c920,#f0c420,#f0be20,#f0b920,#f0b420,#f0c520,#f0d720,#f0e920,#eaf01f,#e4f01e,#ddf01c,#d6f01b,#cff019,#ccf019,#c9f018,#c6ef17,#c3ef17,#c1ee16,#c0ee16,#beee16,#bded15,#c0ee16,#c4ef17,#c7f018,#cbf019,#d0f01a,#d5f01b,#dbf01c,#e0f01d)"></div>
<div style="position:absolute;left:0;top:148.66px;width:477.0px;height:6.11px;background:linear-gradient(90deg,#e9241b,#ed2f22,#f03c2a,#f04c32,#f05838,#f06e34,#f0892d,#f0ad21,#f0d220,#f0cd20,#f0c720,#f0c120,#f0bc20,#f0b520,#f0ae21,#f0a723,#f09f26,#f0b020,#f0c120,#f0d420,#f0e720,#edf01f,#e6f01e,#dff01d,#d7f01b,#d3f01a,#cff019,#cbf019,#c7f018,#c6ef17,#c4ef17,#c2ef17,#c0ee16,#c3ef17,#c6ef17,#c9f018,#ccf019,#d1f01a,#d6f01b,#dbf01c,#e0f01d)"></div>
<div style="position:absolute;left:0;top:154.16px;width:477.0px;height:6.11px;background:linear-gradient(90deg,#e9231a,#ed2e21,#f03928,#f04930,#f05536,#f06935,#f08030,#f0a424,#f0c820,#f0c220,#f0bc20,#f0b620,#f0b020,#f0a723,#f09d26,#f09429,#f08a2d,#f09c27,#f0ae21,#f0bf20,#f0d320,#f0e220,#eff020,#e7f01e,#dff01d,#daf01c,#d6f01b,#d1f01a,#cdf019,#caf018,#c8f018,#c6ef17,#c4ef17,#c6f018,#c8f018,#cbf019,#cdf019,#d2f01a,#d7f01b,#dbf01c,#e0f01d)"></div>
<div style="position:absolute;left:0;top:159.67px;width:477.0px;height:6.11px;background:linear-gradient(90deg,#e92219,#ec2c20,#f03727,#f0452f,#f05135,#f06336,#f07931,#f09b27,#f0be20,#f0b820,#f0b120,#f0ab22,#f0a424,#f09828,#f08c2c,#f08130,#f07732,#f0872e,#f09a27,#f0ad21,#f0bf20,#f0d020,#f0e020,#f0f020,#e7f01e,#e2f01d,#dcf01c,#d7f01b,#d2f01a,#cff019,#cdf019,#caf018,#c7f018,#c9f018,#cbf019,#cdf019,#cef019,#d3f01a,#d7f01b,#dcf01c,#e0f01d)"></div>
<div style="position:absolute;left:0;top:165.17px;width:477.0px;height:6.11px;background:linear-gradient(90deg,#e82119,#ec2b1f,#ef3526,#f0412d,#f04e33,#f05e37,#f07333,#f0922a,#f0b620,#f0ae21,#f0a723,#f09f26,#f09828,#f08a2d,#f07d31,#f07333,#f06b34,#f07632,#f0872e,#f09a27,#f0ae21,#f0bd20,#f0cf20,#f0e120,#eff020,#e9f01f,#e3f01d,#ddf01c,#d7f01b,#d4f01a,#d1f01a,#cef019,#cbf019,#ccf019,#cdf019,#cff019,#d0f01a,#d4f01a,#d8f01b,#dcf01c,#e0f01d)"></div>
<div style="position:absolute;left:0;top:170.68px;width:477.0px;height:6.11px;background:linear-gradient(90deg,#e82118,#eb2a1e,#ee3324,#f03d2b,#f04a31,#f05938,#f06e34,#f0892d,#f0ad21,#f0a524,#f09c27,#f09429,#f08c2c,#f07c31,#f07233,#f06835,#f05e37,#f06a34,#f07632,#f0872e,#f09c27,#f0ad21,#f0bd20,#f0d020,#f0e420,#f0f020,#e9f01f,#e3f01d,#dcf01c,#d9f01b,#d6f01b,#d2f01a,#cff019,#d0f01a,#d0f01a,#d1f01a,#d1f01a,#d5f01b,#d9f01b,#dcf01c,#e0f01d)"></div>
<div style="position:absolute;left:0;top:176.19px;width:477.0px;height:6.11px;background:linear-gradient(90deg,#e82018,#eb291e,#ee3124,#f03b29,#f04830,#f05637,#f06a34,#f08130,#f0a524,#f09c27,#f0932a,#f08a2d,#f08130,#f07432,#f06935,#f05e37,#f05536,#f06036,#f06c34,#f07931,#f08c2c,#f09e26,#f0b020,#f0c120,#f0d520,#f0e220,#f0ef20,#e9f01f,#e2f01d,#dff01d,#dbf01c,#d7f01b,#d4f01a,#d4f01a,#d4f01a,#d4f01a,#d3f01a,#d7f01b,#daf01c,#def01c,#e1f01d)"></div>
<div style="position:absolute;left:0;top:181.69px;width:477.0px;height:6.11px;background:linear-gradient(90deg,#e92219,#eb2a1f,#ee3324,#f03c2a,#f04830,#f05637,#f06935,#f07e30,#f09f26,#f09629,#f08d2c,#f0832f,#f07b31,#f06f33,#f06436,#f05938,#f05134,#f05a38,#f06635,#f07333,#f0822f,#f0932a,#f0a424,#f0b520,#f0c720,#f0d420,#f0e120,#f0ee20,#eaf01f,#e6f01e,#e3f01d,#dff01d,#dbf01c,#dbf01c,#daf01c,#d9f01b,#d9f01b,#dbf01c,#def01c,#e1f01d,#e4f01e)"></div>
<div style="position:absolute;left:0;top:187.20px;width:477.0px;height:6.11px;background:linear-gradient(90deg,#e9241a,#ec2c20,#ef3425,#f03e2b,#f04931,#f05637,#f06835,#f07b31,#f09a27,#f0902b,#f0872e,#f07e30,#f07732,#f06b34,#f05f37,#f05536,#f04d32,#f05537,#f06036,#f06d34,#f07931,#f0892d,#f09928,#f0aa22,#f0ba20,#f0c620,#f0d320,#f0e020,#f0ec20,#eef020,#eaf01f,#e6f01e,#e2f01d,#e1f01d,#e0f01d,#dff01d,#def01c,#e0f01d,#e2f01d,#e4f01e,#e6f01e)"></div>
<div style="position:absolute;left:0;top:192.70px;width:477.0px;height:6.11px;background:linear-gradient(90deg,#ea251b,#ec2d21,#ef3526,#f03f2c,#f04a31,#f05637,#f06735,#f07931,#f09429,#f08a2d,#f08030,#f07832,#f07333,#f06635,#f05a38,#f05134,#f04930,#f05135,#f05a38,#f06735,#f07333,#f07e30,#f08e2b,#f09e26,#f0ae21,#f0b920,#f0c520,#f0d120,#f0dd20,#f0e520,#f0ed20,#eef020,#eaf01f,#e8f01e,#e6f01e,#e5f01e,#e3f01d,#e5f01e,#e6f01e,#e7f01e,#e9f01f)"></div>
<div style="position:absolute;left:0;top:198.21px;width:477.0px;height:6.11px;background:linear-gradient(90deg,#ea271d,#ed2f22,#ef3627,#f0412c,#f04b32,#f05637,#f06635,#f07632,#f08f2b,#f0842f,#f07b31,#f07532,#f06f33,#f06236,#f05637,#f04d33,#f0442e,#f04d33,#f05537,#f06136,#f06d34,#f07732,#f0832f,#f0932a,#f0a225,#f0ad21,#f0b720,#f0c220,#f0ce20,#f0d620,#f0de20,#f0e620,#f0ee20,#eff020,#edf01f,#ebf01f,#e8f01e,#e9f01f,#eaf01f,#ebf01f,#ebf01f)"></div>
<div style="position:absolute;left:0;top:203.72px;width:477.0px;height:6.11px;background:linear-gradient(90deg,#eb281e,#ed3023,#f03728,#f0422d,#f04c32,#f05637,#f06535,#f07432,#f0892d,#f07f30,#f07732,#f07133,#f06b34,#f05d37,#f05335,#f04a31,#f03e2b,#f04931,#f05135,#f05b37,#f06735,#f07033,#f07931,#f0872e,#f09629,#f0a025,#f0ab22,#f0b520,#f0c020,#f0c820,#f0d020,#f0d820,#f0e120,#f0e620,#f0eb20,#f0ef20,#eef020,#eef020,#eef020,#eef020,#eef020)"></div>
<div style="position:absolute;left:0;top:209.22px;width:477.0px;height:6.11px;background:linear-gradient(90deg,#eb2a1f,#ee3124,#f03928,#f0442e,#f04d32,#f05637,#f06436,#f07233,#f0842f,#f07a31,#f07333,#f06d34,#f06735,#f05938,#f04f34,#f0452f,#f03929,#f0442e,#f04d33,#f05637,#f06136,#f06a34,#f07333,#f07c31,#f08a2d,#f09429,#f09e26,#f0a823,#f0b320,#f0ba20,#f0c220,#f0cb20,#f0d320,#f0d920,#f0df20,#f0e520,#f0ea20,#f0eb20,#f0ed20,#f0ee20,#f0ef20)"></div>
<div style="position:absolute;left:0;top:214.73px;width:477.0px;height:6.11px;background:linear-gradient(90deg,#ec2c20,#ee3324,#f03b29,#f0452f,#f04e33,#f05737,#f06336,#f07033,#f07e30,#f07632,#f07033,#f06935,#f06336,#f05637,#f04c32,#f0412c,#ef3526,#f03f2b,#f04931,#f05235,#f05b37,#f06436,#f06c34,#f07432,#f07e30,#f0872e,#f0912a,#f09b27,#f0a524,#f0ad21,#f0b520,#f0bd20,#f0c520,#f0cc20,#f0d320,#f0da20,#f0e020,#f0e320,#f0e520,#f0e720,#f0ea20)"></div>
<div style="position:absolute;left:0;top:220.23px;width:477.0px;height:6.11px;background:linear-gradient(90deg,#ec2d21,#ef3425,#f03c2a,#f0472f,#f04f33,#f05737,#f06236,#f06e34,#f07a31,#f07333,#f06c34,#f06535,#f05f37,#f05235,#f04930,#f03c2a,#ee3224,#f03a29,#f0452e,#f04e33,#f05637,#f05d37,#f06535,#f06d34,#f07532,#f07c31,#f0842f,#f08e2b,#f09828,#f0a025,#f0a823,#f0b120,#f0b920,#f0bf20,#f0c720,#f0cf20,#f0d720,#f0da20,#f0de20,#f0e120,#f0e520)"></div>
<div style="position:absolute;left:0;top:225.74px;width:477.0px;height:6.11px;background:linear-gradient(90deg,#ed2f22,#ef3526,#f03e2b,#f04830,#f05034,#f05737,#f06136,#f06c34,#f07632,#f06f33,#f06835,#f06236,#f05b37,#f04f34,#f0442e,#f03727,#ed2e21,#ef3526,#f03f2c,#f04a31,#f05235,#f05738,#f05f37,#f06635,#f06e34,#f07432,#f07931,#f08130,#f08a2d,#f0932a,#f09c27,#f0a424,#f0ad21,#f0b420,#f0bc20,#f0c420,#f0cd20,#f0d120,#f0d620,#f0db20,#f0e020)"></div>
<div style="position:absolute;left:0;top:231.24px;width:477.0px;height:6.11px;background:linear-gradient(90deg,#ed3023,#f03727,#f0402c,#f04931,#f05134,#f05737,#f06036,#f06935,#f07333,#f06c34,#f06535,#f05e37,#f05738,#f04c32,#f0402c,#ef3425,#eb2a1f,#ee3224,#f03a29,#f0452f,#f04e33,#f05336,#f05838,#f05f37,#f06735,#f06c34,#f07133,#f07732,#f07e30,#f0862e,#f08f2b,#f09828,#f0a125,#f0a922,#f0b220,#f0ba20,#f0c320,#f0c920,#f0cf20,#f0d520,#f0db20)"></div>
<div style="position:absolute;left:0;top:236.75px;width:477.0px;height:6.11px;background:linear-gradient(90deg,#ef3526,#f03c2a,#f0442e,#f04b32,#f05135,#f05838,#f06136,#f06a34,#f07333,#f06d34,#f06635,#f06036,#f05a38,#f04e33,#f0422d,#ef3526,#ec2b20,#ee3224,#f03a29,#f0452e,#f04d33,#f05235,#f05738,#f05e37,#f06535,#f06b34,#f07033,#f07632,#f07d31,#f0852e,#f08e2b,#f09728,#f0a125,#f0aa22,#f0b320,#f0bb20,#f0c520,#f0cc20,#f0d420,#f0db20,#f0e220)"></div>
<div style="position:absolute;left:0;top:242.26px;width:477.0px;height:6.11px;background:linear-gradient(90deg,#f03e2b,#f0442e,#f04931,#f04e33,#f05235,#f05938,#f06336,#f06d34,#f07632,#f07233,#f06d34,#f06835,#f06436,#f05536,#f04a31,#f03c2a,#ee3123,#f03727,#f0402c,#f04930,#f05034,#f05536,#f05b37,#f06236,#f06a34,#f07033,#f07632,#f07e30,#f0872e,#f0912a,#f09a27,#f0a324,#f0ad21,#f0b620,#f0bf20,#f0ca20,#f0d420,#f0dd20,#f0e520,#f0ee20,#edf01f)"></div>
<div style="position:absolute;left:0;top:247.76px;width:477.0px;height:6.11px;background:linear-gradient(90deg,#f04830,#f04b31,#f04e33,#f05034,#f05336,#f05b37,#f06535,#f06f33,#f07a31,#f07732,#f07432,#f07133,#f06e34,#f05d37,#f05034,#f0452e,#f03727,#f03e2b,#f0452f,#f04c32,#f05235,#f05738,#f05f37,#f06735,#f06f33,#f07532,#f07d31,#f0872e,#f0922a,#f09c27,#f0a623,#f0af20,#f0b920,#f0c320,#f0cd20,#f0d820,#f0e320,#f0ed20,#edf01f,#e7f01e,#e2f01d)"></div>
<div style="position:absolute;left:0;top:253.27px;width:477.0px;height:6.11px;background:linear-gradient(90deg,#f05034,#f05135,#f05235,#f05336,#f05436,#f05d37,#f06835,#f07233,#f07e30,#f07d31,#f07b31,#f07931,#f07832,#f06735,#f05737,#f04c32,#f03e2b,#f0452e,#f04a31,#f04f34,#f05436,#f05a38,#f06336,#f06b34,#f07333,#f07b31,#f0862e,#f0922a,#f09d26,#f0a723,#f0b120,#f0bb20,#f0c520,#f0d120,#f0dc20,#f0e720,#eff020,#e9f01f,#e3f01d,#def01c,#d8f01b)"></div>
<div style="position:absolute;left:0;top:258.77px;width:477.0px;height:6.11px;background:linear-gradient(90deg,#f05838,#f05738,#f05737,#f05637,#f05536,#f05f37,#f06a34,#f07532,#f0842f,#f0842f,#f0852e,#f0852e,#f0862e,#f07133,#f06036,#f05235,#f0462f,#f04b31,#f04e33,#f05235,#f05637,#f05e37,#f06735,#f06f33,#f07832,#f0822f,#f08f2b,#f09c27,#f0a922,#f0b320,#f0bd20,#f0c820,#f0d320,#f0df20,#f0ea20,#edf01f,#e7f01e,#e1f01d,#daf01c,#d4f01a,#cdf019)"></div>
<div style="position:absolute;left:0;top:264.28px;width:477.0px;height:6.11px;background:linear-gradient(90deg,#f06436,#f06136,#f05d37,#f05938,#f05637,#f06136,#f06c34,#f07832,#f0892d,#f08c2c,#f0902b,#f0932a,#f09629,#f07b31,#f06a34,#f05938,#f04d32,#f05034,#f05335,#f05637,#f05938,#f06236,#f06b34,#f07432,#f07e30,#f08b2c,#f09928,#f0a623,#f0b420,#f0be20,#f0c920,#f0d520,#f0e120,#f0ec20,#ecf01f,#e5f01e,#dff01d,#d8f01b,#d1f01a,#caf018,#c3ef17)"></div>
<div style="position:absolute;left:0;top:269.78px;width:477.0px;height:6.11px;background:linear-gradient(90deg,#f07033,#f06a34,#f06336,#f05d37,#f05737,#f06236,#f06e34,#f07b31,#f08f2b,#f09529,#f09b27,#f0a125,#f0a723,#f08a2d,#f07333,#f06236,#f05336,#f05537,#f05737,#f05938,#f05c37,#f06535,#f06f33,#f07832,#f0852e,#f09429,#f0a225,#f0b020,#f0be20,#f0ca20,#f0d620,#f0e220,#f0ee20,#eaf01f,#e4f01e,#def01c,#d7f01b,#d0f01a,#c8f018,#c1ee16,#baed15)"></div>
<div style="position:absolute;left:0;top:275.29px;width:477.0px;height:6.11px;background:linear-gradient(90deg,#f07e30,#f07333,#f06a34,#f06136,#f05838,#f06436,#f07133,#f07f30,#f09429,#f09d26,#f0a623,#f0af20,#f0b820,#f09b27,#f07e30,#f06b34,#f05a38,#f05b37,#f05d37,#f05e37,#f05f37,#f06935,#f07333,#f07d31,#f08d2c,#f09c27,#f0ac21,#f0ba20,#f0cb20,#f0d720,#f0e320,#f0f020,#eaf01f,#e3f01d,#ddf01c,#d6f01b,#cff019,#c7f018,#c0ee16,#b8ec14,#b2ea12)"></div>
<div style="position:absolute;left:0;top:280.80px;width:477.0px;height:6.11px;background:linear-gradient(90deg,#f0912a,#f07e30,#f07133,#f06535,#f05938,#f06635,#f07333,#f0842f,#f09a27,#f0a623,#f0b120,#f0bc20,#f0c920,#f0ab22,#f08e2b,#f07532,#f06336,#f06336,#f06336,#f06336,#f06336,#f06d34,#f07732,#f0842f,#f09529,#f0a524,#f0b520,#f0c520,#f0d720,#f0e420,#f0f020,#e9f01f,#e2f01d,#dcf01c,#d5f01b,#cef019,#c8f018,#c0ee16,#b8ec14,#b1ea12,#aae810)"></div>
<div style="position:absolute;left:0;top:286.30px;width:477.0px;height:6.11px;background:linear-gradient(90deg,#f0a524,#f08d2c,#f07732,#f06935,#f05a38,#f06835,#f07532,#f0882d,#f09f26,#f0ae21,#f0bc20,#f0cc20,#f0dc20,#f0bb20,#f09e26,#f08130,#f06d34,#f06b34,#f06935,#f06835,#f06635,#f07033,#f07b31,#f08b2c,#f09d26,#f0ae21,#f0be20,#f0d120,#f0e420,#f0f020,#e9f01f,#e2f01d,#dbf01c,#d4f01a,#cdf019,#c7f018,#c1ee16,#b8ec14,#b1ea12,#a9e810,#a0e80f)"></div>
<div style="position:absolute;left:0;top:291.81px;width:477.0px;height:6.11px;background:linear-gradient(90deg,#f0b920,#f09c27,#f08030,#f06d34,#f05b37,#f06a34,#f07832,#f08d2c,#f0a524,#f0b620,#f0c820,#f0db20,#f0ee20,#f0cd20,#f0ae21,#f0902b,#f07632,#f07333,#f07033,#f06c34,#f06935,#f07432,#f08130,#f0932a,#f0a424,#f0b620,#f0c820,#f0dc20,#f0f020,#e9f01f,#e2f01d,#dbf01c,#d4f01a,#cdf019,#c6f018,#c0ee16,#baec14,#b2ea12,#aae810,#a0e80f,#96e80d)"></div>
<div style="position:absolute;left:0;top:297.31px;width:477.0px;height:6.11px;background:linear-gradient(90deg,#f0d420,#f0b420,#f09629,#f07931,#f06735,#f07333,#f0822f,#f09629,#f0ab22,#f0bd20,#f0d120,#f0e620,#eaf01f,#f0dc20,#f0be20,#f0a424,#f0892d,#f0822f,#f07c31,#f07732,#f07333,#f07e30,#f08e2b,#f09e26,#f0af20,#f0bf20,#f0d220,#f0e620,#ebf01f,#e4f01e,#ddf01c,#d5f01b,#cef019,#c7f018,#c0ee16,#b9ec14,#b3eb13,#abe911,#a2e80f,#98e80d,#8ee80c)"></div>
<div style="position:absolute;left:0;top:302.82px;width:477.0px;height:6.11px;background:linear-gradient(90deg,#eff020,#f0cf20,#f0af20,#f0902b,#f07532,#f08130,#f0912a,#f0a025,#f0b020,#f0c420,#f0d920,#f0ef20,#e5f01e,#f0eb20,#f0d120,#f0b820,#f0a125,#f09928,#f0912a,#f08a2d,#f0822f,#f0902b,#f09e26,#f0ac21,#f0b920,#f0cb20,#f0dc20,#f0ee20,#e7f01e,#e0f01d,#d8f01b,#d1f01a,#c9f018,#c1ee16,#b9ec14,#b2eb13,#ace911,#a3e80f,#99e80e,#90e80c,#86e80a)"></div>
<div style="position:absolute;left:0;top:308.33px;width:477.0px;height:6.11px;background:linear-gradient(90deg,#dff01d,#f0ed20,#f0c920,#f0a922,#f08a2d,#f09529,#f0a025,#f0ab22,#f0b520,#f0cb20,#f0e120,#ecf01f,#e0f01d,#ebf01f,#f0e420,#f0ce20,#f0b920,#f0b120,#f0a823,#f09f26,#f09629,#f0a225,#f0ad21,#f0b920,#f0c520,#f0d620,#f0e620,#ecf01f,#e4f01e,#dcf01c,#d4f01a,#ccf019,#c4ef17,#bced15,#b4eb13,#ace911,#a4e80f,#9be80e,#91e80c,#88e80b,#7ee809)"></div>
<div style="position:absolute;left:0;top:313.83px;width:477.0px;height:6.11px;background:linear-gradient(90deg,#cff019,#e2f01d,#f0e620,#f0c220,#f0a225,#f0a922,#f0af20,#f0b520,#f0bb20,#f0d220,#f0e920,#e7f01e,#dbf01c,#e4f01e,#edf01f,#f0e520,#f0d420,#f0c920,#f0bd20,#f0b420,#f0aa22,#f0b320,#f0bc20,#f0c720,#f0d220,#f0e120,#f0f020,#e8f01e,#e0f01d,#d7f01b,#cff019,#c7f018,#c0ee16,#b6ec14,#aeea12,#a6e810,#9be80e,#92e80c,#89e80b,#80e809,#78e808)"></div>
<div style="position:absolute;left:0;top:319.34px;width:477.0px;height:6.11px;background:linear-gradient(90deg,#c1ee16,#d3f01a,#e6f01e,#f0de20,#f0bb20,#f0bc20,#f0bd20,#f0bf20,#f0c120,#f0d920,#eff020,#e2f01d,#d5f01b,#dcf01c,#e3f01d,#eaf01f,#f0ef20,#f0e320,#f0d620,#f0ca20,#f0bd20,#f0c520,#f0ce20,#f0d620,#f0de20,#f0ec20,#ebf01f,#e3f01d,#dcf01c,#d3f01a,#caf018,#c2ef17,#bbed15,#b2ea12,#a9e810,#9ee80e,#92e80c,#89e80b,#81e809,#78e808,#75e709)"></div>
<div style="position:absolute;left:0;top:324.84px;width:477.0px;height:6.11px;background:linear-gradient(90deg,#b4eb13,#c4ef17,#d7f01b,#ebf01f,#f0d520,#f0d220,#f0ce20,#f0ca20,#f0c720,#f0e020,#ebf01f,#def01c,#d0f01a,#d5f01b,#d9f01b,#ddf01c,#e2f01d,#e9f01f,#f0ef20,#f0e120,#f0d320,#f0d920,#f0df20,#f0e520,#f0ea20,#ecf01f,#e5f01e,#dff01d,#d8f01b,#cff019,#c6f018,#beee16,#b7ec14,#ade911,#a2e80f,#96e80d,#89e80b,#81e809,#78e808,#75e709,#72e60a)"></div>
<div style="position:absolute;left:0;top:330.35px;width:477.0px;height:6.11px;background:linear-gradient(90deg,#a8e810,#b7ec14,#c8f018,#dcf01c,#f0f020,#f0e820,#f0df20,#f0d620,#f0cd20,#f0e720,#e7f01e,#d9f01b,#cbf019,#cdf019,#cff019,#d1f01a,#d3f01a,#dbf01c,#e3f01d,#ebf01f,#f0ea20,#f0ed20,#f0f020,#eef020,#ecf01f,#e6f01e,#e0f01d,#daf01c,#d4f01a,#caf018,#c2ee16,#baec14,#b3eb13,#a8e810,#9be80e,#8ee80c,#80e809,#78e808,#75e709,#72e60a,#70e50b)"></div>
<div style="position:absolute;left:0;top:335.85px;width:477.0px;height:6.11px;background:linear-gradient(90deg,#98e80d,#abe911,#bbed15,#cdf019,#e1f01d,#e9f01f,#f0ef20,#f0e120,#f0d320,#f0ee20,#e2f01d,#d4f01a,#c6ef17,#c6ef17,#c6ef17,#c5ef17,#c5ef17,#cef019,#d6f01b,#dff01d,#e7f01e,#e7f01e,#e7f01e,#e6f01e,#e6f01e,#e0f01d,#dbf01c,#d5f01b,#d0f01a,#c6f018,#beed15,#b6eb13,#afea12,#a2e80f,#94e80d,#86e80a,#78e808,#75e709,#72e60a,#70e50b,#6de40c)"></div>
<div style="position:absolute;left:0;top:341.36px;width:477.0px;height:6.11px;background:linear-gradient(90deg,#89e80b,#9de80e,#afea12,#bfee16,#d3f01a,#ddf01c,#e7f01e,#f0ed20,#f0d920,#edf01f,#def01c,#cff019,#c1ee16,#bfee16,#bded15,#bbed15,#b9ec14,#c1ee16,#c9f018,#d2f01a,#dcf01c,#ddf01c,#ddf01c,#def01c,#dff01d,#daf01c,#d6f01b,#d1f01a,#ccf019,#c3ef17,#baec14,#b2eb13,#abe911,#9ce80e,#8de80b,#7ee809,#75e709,#72e60a,#6fe50b,#6de40c,#6ae30d)"></div>
<div style="position:absolute;left:0;top:346.87px;width:477.0px;height:6.11px;background:linear-gradient(90deg,#7ae808,#8ee80c,#a2e80f,#b3eb13,#c5ef17,#d1f01a,#dff01d,#ecf01f,#f0e020,#e9f01f,#daf01c,#caf018,#bded15,#b8ec14,#b5eb13,#b1ea12,#aee911,#b5eb13,#bded15,#c6f018,#d0f01a,#d2f01a,#d4f01a,#d6f01b,#d9f01b,#d4f01a,#d0f01a,#ccf019,#c8f018,#bfee16,#b6ec14,#aeea12,#a6e810,#96e80d,#86e80a,#77e808,#72e60a,#6fe50b,#6de40c,#6ae30d,#67e20e)"></div>
<div style="position:absolute;left:0;top:352.37px;width:477.0px;height:6.11px;background:linear-gradient(90deg,#73e60a,#7fe809,#93e80d,#a8e810,#b8ec14,#c6ef17,#d6f01b,#e6f01e,#f0e620,#e6f01e,#d6f01b,#c6ef17,#b8ec14,#b3eb13,#ade911,#a8e810,#a1e80f,#abe911,#b3eb13,#bbed15,#c4ef17,#c8f018,#cbf019,#cff019,#d2f01a,#cff019,#cbf019,#c8f018,#c4ef17,#bbed15,#b3eb13,#abe911,#a1e80f,#90e80c,#7fe809,#74e709,#6ee50b,#6ce40c,#6ae30d,#67e20e,#65e20e)"></div>
<div style="position:absolute;left:0;top:357.88px;width:477.0px;height:6.11px;background:linear-gradient(90deg,#6de40c,#75e709,#85e80a,#9ce80e,#b0ea12,#bded15,#cbf019,#dcf01c,#ecf01f,#dbf01c,#cbf019,#bced15,#afea12,#a9e810,#a2e80f,#9be80e,#93e80d,#9ee80e,#a9e810,#b1ea12,#baed15,#bded15,#c0ee16,#c3ef17,#c6f018,#c3ef17,#c0ee16,#bded15,#baed15,#b2eb13,#abe911,#a2e80f,#98e80d,#87e80b,#77e808,#72e60a,#6ce40c,#68e30d,#65e20e,#62e10f,#61e013)"></div>
<div style="position:absolute;left:0;top:363.38px;width:477.0px;height:6.11px;background:linear-gradient(90deg,#67e20e,#6fe50b,#78e808,#90e80c,#a8e810,#b4eb13,#c2ef17,#d1f01a,#e2f01d,#d1f01a,#c1ee16,#b3eb13,#a6e810,#9de80e,#95e80d,#8de80c,#85e80a,#91e80c,#9ce80e,#a8e810,#b1ea12,#b3eb13,#b6ec14,#b9ec14,#bced15,#b9ec14,#b6ec14,#b3eb13,#b1ea12,#aae810,#a1e80f,#98e80d,#8fe80c,#7fe809,#75e709,#6fe50b,#69e30d,#65e20e,#60e010,#63e016,#66e01d)"></div>
<div style="position:absolute;left:0;top:368.89px;width:477.0px;height:6.11px;background:linear-gradient(90deg,#60e010,#6ae30d,#73e60a,#84e80a,#9ee80e,#ade911,#b9ec14,#c8f018,#d8f01b,#c7f018,#b7ec14,#aae911,#9ae80e,#91e80c,#89e80b,#80e809,#78e808,#83e80a,#8fe80c,#9ce80e,#a8e810,#abe911,#ade911,#b0ea12,#b3eb13,#b0ea12,#ade911,#abe911,#a8e810,#9fe80f,#97e80d,#8fe80c,#86e80a,#77e808,#72e60a,#6ce40c,#66e20e,#61e010,#63e017,#67e01f,#6be027)"></div>
<div style="position:absolute;left:0;top:374.40px;width:477.0px;height:6.11px;background:linear-gradient(90deg,#64e019,#64e10f,#6ee50b,#78e808,#94e80d,#a4e80f,#b1ea12,#bfee16,#cef019,#beed15,#afea12,#a0e80f,#8fe80c,#85e80a,#7ce809,#76e709,#73e60a,#77e808,#83e80a,#90e80c,#9ce80e,#a0e80f,#a3e80f,#a7e810,#aae810,#a7e810,#a3e80f,#a0e80f,#9ce80e,#95e80d,#8de80b,#85e80a,#7de809,#74e709,#6fe50b,#69e30d,#64e10f,#62e014,#67e01e,#6ce027,#70e032)"></div>
<div style="position:absolute;left:0;top:379.90px;width:477.0px;height:6.11px;background:linear-gradient(90deg,#69e022,#61e012,#69e30d,#74e709,#8ae80b,#9ae80e,#aae810,#b6ec14,#c5ef17,#b5eb13,#a7e810,#95e80d,#83e80a,#79e808,#75e709,#71e60a,#6ee50b,#73e60a,#77e808,#83e80a,#91e80c,#94e80d,#98e80d,#9be80e,#9fe80e,#9be80e,#98e80d,#94e80d,#91e80c,#8ae80b,#83e80a,#7ce809,#77e808,#71e60a,#6ce40c,#66e20e,#61e010,#65e01a,#6ae025,#70e030,#78e453)"></div>
<div style="position:absolute;left:0;top:385.41px;width:477.0px;height:6.11px;background:linear-gradient(90deg,#6ee02b,#65e01b,#64e10f,#6fe50b,#7fe809,#90e80c,#a0e80f,#afea12,#bced15,#ade911,#9ce80e,#8ae80b,#78e808,#74e709,#70e50b,#6de40c,#69e30d,#6ee50b,#73e60a,#78e808,#85e80a,#89e80b,#8ce80b,#90e80c,#93e80d,#90e80c,#8ce80b,#89e80b,#85e80a,#7fe809,#78e808,#76e709,#74e709,#6ee50b,#69e30d,#64e10f,#61e012,#67e01f,#6ee02b,#76e34b,#7fe875)"></div>
<div style="position:absolute;left:0;top:390.91px;width:477.0px;height:6.11px;background:linear-gradient(90deg,#73e23f,#69e023,#61e011,#6be40c,#77e808,#86e80a,#96e80d,#a7e810,#b4eb13,#a5e80f,#92e80c,#7fe809,#74e709,#70e50b,#6ce40c,#68e30d,#64e10f,#69e30d,#6ee50b,#74e709,#7ae808,#7de809,#81e809,#84e80a,#88e80b,#84e80a,#81e809,#7de809,#7ae808,#77e808,#75e709,#73e60a,#71e60a,#6be40c,#66e20e,#61e010,#63e016,#6ae024,#72e138,#7ce667,#80eb8e)"></div>
<div style="position:absolute;left:0;top:396.42px;width:477.0px;height:6.11px;background:linear-gradient(90deg,#7ae55e,#6ee02b,#64e018,#67e20e,#73e60a,#7ce809,#8ce80b,#9de80e,#ace911,#9ae80e,#87e80b,#77e808,#70e50b,#6ce40c,#67e20e,#63e10f,#61e011,#64e10f,#6ae30d,#6fe50b,#75e709,#76e709,#77e808,#79e808,#7ce809,#79e808,#77e808,#76e709,#75e709,#73e60a,#71e60a,#6fe50b,#6de40c,#68e30d,#63e10f,#61e013,#65e01a,#6de02a,#77e450,#80e980,#80eea5)"></div>
<div style="position:absolute;left:0;top:401.92px;width:477.0px;height:6.11px;background:linear-gradient(90deg,#80e97c,#72e13b,#68e020,#63e10f,#70e50b,#76e709,#82e80a,#93e80d,#a4e80f,#90e80c,#7de809,#73e60a,#6ce40c,#67e20e,#63e10f,#61e012,#64e019,#60e010,#65e20e,#6be40c,#71e60a,#72e60a,#73e60a,#74e709,#75e709,#74e709,#73e60a,#72e60a,#71e60a,#6fe50b,#6de40c,#6ce40c,#6ae30d,#65e20e,#60e010,#63e017,#67e01e,#70e02f,#7ce667,#80ec94,#7ef0bd)"></div>
<div style="position:absolute;left:0;top:407.43px;width:477.0px;height:6.11px;background:linear-gradient(90deg,#80ec92,#79e457,#6be027,#61e012,#6ce40c,#72e60a,#79e808,#8ae80b,#9be80e,#86e80a,#76e709,#6fe50b,#68e30d,#63e10f,#61e012,#65e019,#68e020,#64e017,#61e010,#67e20e,#6de40c,#6ee50b,#6fe50b,#70e50b,#71e60a,#70e50b,#6fe50b,#6ee50b,#6de40c,#6be40c,#6ae30d,#69e30d,#67e20e,#62e10f,#62e014,#66e01b,#69e022,#74e240,#80e97d,#80efa9,#7af0d6)"></div>
<div style="position:absolute;left:0;top:412.94px;width:477.0px;height:6.11px;background:linear-gradient(90deg,#80efac,#80e877,#70e02f,#65e019,#69e30d,#6fe50b,#75e709,#80e809,#92e80c,#7de809,#72e60a,#6be40c,#64e10f,#61e012,#65e01a,#69e022,#6de02a,#68e020,#63e017,#62e10f,#68e30d,#6ae30d,#6be40c,#6ce40c,#6ee50b,#6de40c,#6be40c,#6ae30d,#69e30d,#68e30d,#66e20e,#65e20e,#63e10f,#61e012,#65e01a,#69e021,#6ce029,#79e559,#80eb90,#7df0c0,#74f0e7)"></div>
<div style="position:absolute;left:0;top:418.44px;width:477.0px;height:6.11px;background:linear-gradient(90deg,#7af0d3,#80ec97,#77e451,#69e021,#65e20e,#6be40c,#72e60a,#78e808,#8ae80b,#77e808,#6fe50b,#67e20e,#60e010,#66e01b,#6be026,#71e033,#79e457,#70e030,#6ae024,#64e018,#63e10f,#65e20e,#67e20e,#69e30d,#6ce40c,#6ae30d,#69e30d,#68e30d,#66e20e,#64e10f,#62e10f,#60e010,#62e014,#66e01c,#6ae025,#6fe02d,#74e244,#80e981,#80f0ae,#78f0de,#67dff0)"></div>
<div style="position:absolute;left:0;top:423.95px;width:477.0px;height:6.11px;background:linear-gradient(90deg,#72f0ec,#7ff0b7,#7fe874,#6ce029,#62e10f,#68e30d,#6fe50b,#75e709,#82e80a,#74e709,#6ce40c,#64e10f,#63e016,#6ae024,#71e136,#7ce665,#80eb8c,#7be663,#70e032,#69e022,#62e014,#61e010,#63e10f,#66e20e,#69e30d,#68e30d,#66e20e,#65e20e,#64e10f,#61e010,#62e013,#64e018,#66e01c,#6be026,#70e030,#77e450,#7ee770,#80eea0,#7bf0ce,#72f0ed,#4caff0)"></div>
<div style="position:absolute;left:0;top:429.45px;width:477.0px;height:6.11px;background:linear-gradient(90deg,#54bdf0,#79f0d8,#80eb8f,#71e033,#61e013,#65e20e,#6be40c,#72e60a,#7be808,#71e60a,#68e30d,#60e010,#66e01c,#6fe02d,#7ae55f,#80eb8e,#7ff0b6,#80eb8e,#7ae55d,#6ee02d,#66e01c,#63e016,#60e010,#63e10f,#67e20e,#66e20e,#64e10f,#62e10f,#61e010,#62e014,#65e01a,#68e01f,#6ae025,#70e030,#78e454,#80e878,#80ec92,#7df0bf,#75f0e6,#5bc9f0,#337eed)"></div>
<div style="position:absolute;left:0;top:434.96px;width:477.0px;height:6.11px;background:linear-gradient(90deg,#327ded,#72f0eb,#80efa8,#77e34e,#64e018,#61e010,#68e30d,#6fe50b,#76e709,#6ee50b,#65e20e,#63e015,#69e022,#74e244,#80e982,#80f0b2,#77f0e1,#80f0b3,#80ea84,#75e347,#6ae024,#66e01d,#63e016,#60e010,#65e20e,#63e10f,#62e10f,#60e010,#61e013,#65e019,#68e020,#6be027,#6fe02d,#77e450,#80e878,#80ec95,#80f0b2,#78f0df,#68e1f0,#4098ef,#215ce8)"></div>
<div style="position:absolute;left:0;top:440.47px;width:477.0px;height:6.11px;background:linear-gradient(90deg,#1d54e5,#5ccbf0,#7df0c2,#7de669,#67e01e,#61e013,#65e20e,#6ce40c,#74e709,#6be40c,#62e10f,#65e01b,#6ce028,#7be662,#80ee9f,#7af0d7,#65dcf0,#79f0d9,#80eea3,#7de76b,#6ee02b,#6ae024,#66e01c,#62e014,#63e10f,#61e010,#61e011,#62e014,#63e017,#67e01e,#6be026,#6fe02e,#75e244,#7ee771,#80ec92,#80f0b2,#7af0d3,#71f0ee,#4caef0,#2767ec,#1547e1)"></div>
<div style="position:absolute;left:0;top:445.97px;width:477.0px;height:6.11px;background:linear-gradient(90deg,#1242df,#3f96ef,#79f0dc,#80e980,#69e023,#64e018,#62e10f,#69e30d,#71e60a,#68e30d,#61e013,#68e020,#6fe02e,#80e97e,#7ef0bc,#72f0ed,#3e94ef,#71f0ee,#7df0c2,#80ea87,#73e13b,#6de02a,#69e021,#64e018,#60e010,#61e012,#62e015,#64e018,#65e01b,#6ae024,#6ee02d,#74e243,#7be561,#80eb8a,#80efac,#7bf0d0,#73f0e9,#57c2f0,#327bed,#1b51e4,#1141df)"></div>
<div style="position:absolute;left:0;top:451.48px;width:477.0px;height:6.11px;background:linear-gradient(90deg,#0e3edd,#2664eb,#73f0ea,#80ec93,#6ce028,#66e01d,#61e012,#67e20e,#6ee50b,#65e20e,#64e018,#6be026,#73e23e,#80ec93,#79f0da,#55c0f0,#215be8,#51b8f0,#77f0e1,#80eea0,#78e456,#71e034,#6be027,#66e01d,#61e013,#63e016,#64e019,#66e01c,#67e01f,#6ce029,#72e13a,#7ae55c,#80e97d,#80eea2,#7cf0c8,#75f0e6,#60d4f0,#3b8eee,#205ae7,#1343df,#0e3edd)"></div>
<div style="position:absolute;left:0;top:456.98px;width:477.0px;height:6.11px;background:linear-gradient(90deg,#0a3ada,#194ce3,#64daf0,#80efa6,#6fe02d,#69e022,#63e016,#64e10f,#6be40c,#62e10f,#66e01c,#6ee02b,#78e452,#80efa9,#73f0eb,#3683ee,#1343df,#317aed,#70f0f0,#7ef0ba,#7ee771,#76e34b,#6ee02d,#69e021,#63e016,#65e019,#66e01c,#68e01f,#69e023,#6fe02e,#77e34f,#7fe875,#80ec91,#7ef0b9,#77f0e1,#68e1f0,#439eef,#2461ea,#1444e0,#0f3fde,#0b3bdb)"></div>
<div style="position:absolute;left:0;top:462.49px;width:477.0px;height:6.11px;background:linear-gradient(90deg,#0838d8,#1242df,#4caff0,#7ef0b9,#72e139,#6be027,#65e01b,#61e010,#69e30d,#61e012,#69e021,#71e032,#7ce666,#7ef0bf,#60d4f0,#2059e7,#0e3edd,#1d54e5,#54bdf0,#7af0d4,#80ea86,#7be662,#72e138,#6be026,#65e019,#66e01d,#68e020,#6ae023,#6be026,#72e13a,#7ce664,#80ea88,#80efa6,#7af0d2,#71f0ee,#4db1f0,#2868ec,#174ae2,#1040de,#0c3cdc,#0939d9)"></div>
<div style="position:absolute;left:0;top:467.99px;width:477.0px;height:6.11px;background:linear-gradient(90deg,#0838d8,#0e3edd,#3683ee,#7bf0cd,#76e34b,#6ee02c,#68e01f,#62e013,#66e20e,#63e017,#6be026,#75e245,#80e879,#7af0d5,#46a3f0,#1343e0,#0a3ada,#1242df,#3888ee,#75f0e6,#80ed99,#80e878,#76e34b,#6de02a,#66e01d,#68e020,#6ae024,#6be027,#6de02a,#76e34b,#80e879,#80ed9a,#7ef0bb,#76f0e5,#5ccdf0,#347fed,#1b50e4,#1141df,#0d3ddc,#0939d9,#0838d8)"></div>
</div>
<div style="position:absolute;left:784.6px;top:711.0px;width:61.5px;height:473.5px;background:linear-gradient(180deg,#0a3ada,#0d3ddc,#1040de,#1343df,#1a4fe4,#2562ea,#3786ee,#4db1f0,#65dcf0,#73f0e9,#79f0da,#7df0c0,#80efa6,#80eb8c,#7ee770,#76e34c,#6fe02e,#6ae023,#64e018,#61e010,#69e30d,#70e50b,#77e808,#8ae80b,#9fe80e,#b1ea12,#c1ee16,#d2f01a,#e4f01e,#f0e420,#f0c220,#f09f26,#f07c31,#f06036,#f04a31,#f03727,#eb2a1f,#e81f17,#e81c14,#e51a12)"></div>
<svg width="2677" height="1292" viewBox="0 0 2677 1292" style="position:absolute;left:0;top:0">
<g>
<path d="M442.0,36.5V509M505.1,36.5V509M568.2,36.5V509M631.3,36.5V509M694.4,36.5V509M757.5,36.5V509M820.6,36.5V509M380,115.0H852.5M380,193.6H852.5M380,272.2H852.5M380,350.8H852.5M380,429.4H852.5" stroke="#e2e2e2" stroke-width="2.4" fill="none"/>
<path d="M559.0,464.0C562.3,460.7 570.2,453.0 579.0,444.0C587.8,435.0 600.7,421.5 612.0,410.0C623.3,398.5 636.5,386.0 647.0,375.0C657.5,364.0 664.0,359.7 675.0,344.0C686.0,328.3 701.2,299.5 713.0,281.0C724.8,262.5 736.2,249.0 746.0,233.0C755.8,217.0 764.7,200.7 772.0,185.0C779.3,169.3 784.7,152.7 790.0,139.0C795.3,125.3 801.7,109.0 804.0,103.0" stroke="#222" stroke-width="3.2" fill="none" stroke-dasharray="22,9,4,9"/>
<path d="M567.0,466.0C568.2,463.0 569.0,463.2 574.0,448.0C579.0,432.8 589.2,397.7 597.0,375.0C604.8,352.3 612.5,328.5 621.0,312.0C629.5,295.5 638.7,286.7 648.0,276.0C657.3,265.3 666.2,256.3 677.0,248.0C687.8,239.7 701.8,235.7 713.0,226.0C724.2,216.3 736.7,202.7 744.0,190.0C751.3,177.3 751.7,164.5 757.0,150.0C762.3,135.5 772.8,110.8 776.0,103.0" stroke="#f0204c" stroke-width="3.2" fill="none" stroke-dasharray="22,9,4,9"/>
<path d="M509.0,466.0C512.3,465.7 521.8,467.3 529.0,464.0C536.2,460.7 543.7,454.5 552.0,446.0C560.3,437.5 571.5,424.8 579.0,413.0C586.5,401.2 592.1,384.8 597.0,375.0C601.9,365.2 603.2,364.8 608.5,354.0C613.8,343.2 622.8,321.5 629.0,310.0C635.2,298.5 639.3,298.2 646.0,285.0C652.7,271.8 662.7,246.3 669.0,231.0C675.3,215.7 677.3,205.8 684.0,193.0C690.7,180.2 700.3,166.5 709.0,154.0C717.7,141.5 728.8,126.5 736.0,118.0C743.2,109.5 749.3,105.5 752.0,103.0" stroke="#3058f0" stroke-width="3.2" fill="none" stroke-dasharray="24,12"/>
<path d="M509.0,466.0C510.2,463.0 511.3,458.0 516.0,448.0C520.7,438.0 531.2,418.2 537.0,406.0C542.8,393.8 546.8,383.0 551.0,375.0C555.2,367.0 556.7,366.7 562.0,358.0C567.3,349.3 574.2,335.8 583.0,323.0C591.8,310.2 606.6,293.5 615.0,281.0C623.4,268.5 624.9,261.2 633.6,248.0C642.3,234.8 656.6,216.3 667.0,202.0C677.4,187.7 687.0,175.7 696.0,162.0C705.0,148.3 715.2,129.8 721.0,120.0C726.8,110.2 729.3,105.8 731.0,103.0" stroke="#60c040" stroke-width="3.2" fill="none" stroke-dasharray="24,12"/>
<path d="M475.6,466.0C476.8,463.7 477.9,460.8 483.0,452.0C488.1,443.2 498.8,425.8 506.0,413.0C513.2,400.2 517.7,389.0 526.0,375.0C534.3,361.0 546.5,343.7 556.0,329.0C565.5,314.3 574.7,300.5 583.0,287.0C591.3,273.5 596.8,262.8 606.0,248.0C615.2,233.2 625.7,214.3 638.0,198.0C650.3,181.7 667.8,164.0 679.6,150.0C691.4,136.0 702.8,121.8 709.0,114.0C715.2,106.2 715.7,104.8 717.0,103.0" stroke="#8070f0" stroke-width="3.2" fill="none" stroke-dasharray="24,12"/>
<path d="M423.0,466.0C428.1,459.2 441.6,440.2 453.7,425.0C465.8,409.8 485.1,387.8 495.5,375.0C505.9,362.2 507.2,358.5 516.0,348.0C524.8,337.5 538.2,323.8 548.0,312.0C557.8,300.2 566.0,288.7 575.0,277.0C584.0,265.3 592.6,257.0 602.0,242.0C611.4,227.0 622.0,202.3 631.5,187.0C641.0,171.7 652.1,160.3 658.7,150.0C665.3,139.7 667.2,132.8 671.0,125.0C674.8,117.2 679.9,106.7 681.7,103.0" stroke="#a8b010" stroke-width="3.2" fill="none" stroke-dasharray="22,9,4,9"/>
<path d="M717.0,94.9L723.5,103.0L717.0,111.1L710.5,103.0Z" fill="#8070f0"/>
<path d="M623.0,185.5L629.5,193.6L623.0,201.7L616.5,193.6Z" fill="#8070f0"/>
<path d="M603.0,276.9L609.5,285.0L603.0,293.1L596.5,285.0Z" fill="#8070f0"/>
<path d="M526.0,366.9L532.5,375.0L526.0,383.1L519.5,375.0Z" fill="#8070f0"/>
<path d="M475.6,457.9L482.1,466.0L475.6,474.1L469.1,466.0Z" fill="#8070f0"/>
<path d="M674.6,103.0L686.9,96.2L686.9,109.8Z" fill="#c89a18"/>
<path d="M593.9,193.6L606.2,186.8L606.2,200.4Z" fill="#c89a18"/>
<path d="M594.9,285.0L607.2,278.2L607.2,291.8Z" fill="#c89a18"/>
<path d="M488.4,375.0L500.7,368.2L500.7,381.8Z" fill="#c89a18"/>
<path d="M415.9,466.0L428.2,459.2L428.2,472.8Z" fill="#c89a18"/>
<path d="M731.0,110.2L737.8,97.8L724.2,97.8Z" fill="#58c838"/>
<path d="M644.0,200.8L650.8,188.4L637.2,188.4Z" fill="#58c838"/>
<path d="M638.0,292.1L644.8,279.8L631.2,279.8Z" fill="#58c838"/>
<path d="M551.0,382.1L557.8,369.8L544.2,369.8Z" fill="#58c838"/>
<path d="M507.0,473.1L513.8,460.8L500.2,460.8Z" fill="#58c838"/>
<path d="M752.0,95.8L758.8,108.2L745.2,108.2Z" fill="#3058f0"/>
<path d="M684.0,186.4L690.8,198.8L677.2,198.8Z" fill="#3058f0"/>
<path d="M646.0,277.9L652.8,290.2L639.2,290.2Z" fill="#3058f0"/>
<path d="M597.0,367.9L603.8,380.2L590.2,380.2Z" fill="#3058f0"/>
<path d="M511.0,458.9L517.8,471.2L504.2,471.2Z" fill="#3058f0"/>
<circle cx="776.0" cy="103.0" r="6.2" fill="#f0204c"/>
<circle cx="693.0" cy="193.6" r="6.2" fill="#f0204c"/>
<circle cx="697.0" cy="285.0" r="6.2" fill="#f0204c"/>
<circle cx="597.0" cy="375.0" r="6.2" fill="#f0204c"/>
<circle cx="567.7" cy="466.0" r="6.2" fill="#f0204c"/>
<rect x="798.5" y="97.5" width="11.0" height="11.0" fill="#1a1a1a"/>
<rect x="737.5" y="188.1" width="11.0" height="11.0" fill="#1a1a1a"/>
<rect x="739.0" y="279.5" width="11.0" height="11.0" fill="#1a1a1a"/>
<rect x="641.5" y="369.5" width="11.0" height="11.0" fill="#1a1a1a"/>
<rect x="551.5" y="460.5" width="11.0" height="11.0" fill="#1a1a1a"/>
<rect x="380" y="36.5" width="472.5" height="472.5" fill="none" stroke="#000" stroke-width="3.4"/>
<path d="M442.0,509v-13M568.3,509v-13M694.6,509v-13M820.9,509v-13M380,115.0h13M380,193.6h13M380,272.2h13M380,350.8h13M380,429.4h13" stroke="#000" stroke-width="3" fill="none"/>
<text x="442.0" y="549.5" font-size="44" text-anchor="middle" fill="#000" >3</text>
<text x="568.3" y="549.5" font-size="44" text-anchor="middle" fill="#000" >4</text>
<text x="694.6" y="549.5" font-size="44" text-anchor="middle" fill="#000" >5</text>
<text x="820.9" y="549.5" font-size="44" text-anchor="middle" fill="#000" >6</text>
<text x="360" y="36.9" font-size="44" text-anchor="end" fill="#000" >4</text>
<text x="360" y="115.5" font-size="44" text-anchor="end" fill="#000" >2</text>
<text x="360" y="194.1" font-size="44" text-anchor="end" fill="#000" >0</text>
<text x="360" y="272.7" font-size="44" text-anchor="end" fill="#000" >−2</text>
<text x="360" y="351.3" font-size="44" text-anchor="end" fill="#000" >−4</text>
<text x="360" y="429.9" font-size="44" text-anchor="end" fill="#000" >−6</text>
<text x="360" y="508.5" font-size="44" text-anchor="end" fill="#000" >−8</text>
<text x="224" y="36" font-size="44" text-anchor="start" fill="#000" >(a)</text>
<text x="588" y="604" font-size="44" text-anchor="middle" fill="#000" >ln<tspan font-style="italic">σ</tspan>/MPa</text>
<g transform="translate(281.5,272) rotate(-90)">
<text x="0" y="0" font-size="44" text-anchor="middle" fill="#000" >lg<tspan font-style="italic">ε</tspan>/s<tspan font-size="26" dy="-16">−1</tspan></text>
<text x="-11" y="-30" font-size="40" text-anchor="middle" fill="#000" >.</text>
</g>
<rect x="416.4" y="69.7" width="10.2" height="10.2" fill="#1a1a1a"/>
<text x="437.5" y="86.8" font-size="44" text-anchor="start" fill="#000" >700 <tspan dx="3">℃</tspan></text>
<circle cx="421.5" cy="112.4" r="5.7" fill="#f0204c"/>
<text x="437.5" y="124.4" font-size="44" text-anchor="start" fill="#000" >750 <tspan dx="3">℃</tspan></text>
<path d="M421.5,143.4L427.8,154.8L415.2,154.8Z" fill="#3058f0"/>
<text x="437.5" y="162.0" font-size="44" text-anchor="start" fill="#000" >800 <tspan dx="3">℃</tspan></text>
<path d="M421.5,194.2L427.8,182.8L415.2,182.8Z" fill="#58c838"/>
<text x="437.5" y="199.6" font-size="44" text-anchor="start" fill="#000" >850 <tspan dx="3">℃</tspan></text>
<path d="M421.5,217.7L427.5,225.2L421.5,232.7L415.5,225.2Z" fill="#8070f0"/>
<text x="437.5" y="237.2" font-size="44" text-anchor="start" fill="#000" >900 <tspan dx="3">℃</tspan></text>
<path d="M414.9,262.8L426.3,256.5L426.3,269.1Z" fill="#c89a18"/>
<text x="437.5" y="274.8" font-size="44" text-anchor="start" fill="#000" >950 <tspan dx="3">℃</tspan></text>
</g>
<rect x="1580" y="35.6" width="61.5" height="473" fill="none" stroke="#111" stroke-width="2.4"/>
<text x="1668.5" y="59.1" font-size="44" text-anchor="start" fill="#000" >0.99</text>
<text x="1668.5" y="115.8" font-size="44" text-anchor="start" fill="#000" >0.92</text>
<text x="1668.5" y="172.5" font-size="44" text-anchor="start" fill="#000" >0.85</text>
<text x="1668.5" y="229.2" font-size="44" text-anchor="start" fill="#000" >0.78</text>
<text x="1668.5" y="285.9" font-size="44" text-anchor="start" fill="#000" >0.71</text>
<text x="1668.5" y="342.6" font-size="44" text-anchor="start" fill="#000" >0.64</text>
<text x="1668.5" y="399.3" font-size="44" text-anchor="start" fill="#000" >0.57</text>
<text x="1668.5" y="456.0" font-size="44" text-anchor="start" fill="#000" >0.50</text>
<text x="1668.5" y="512.7" font-size="44" text-anchor="start" fill="#000" >0.43</text>
<path d="M1641.5,44.6h9M1641.5,101.3h9M1641.5,158.0h9M1641.5,214.7h9M1641.5,271.4h9M1641.5,328.1h9M1641.5,384.8h9M1641.5,441.5h9M1641.5,498.2h9" stroke="#000" stroke-width="3" fill="none"/>
<text x="1613" y="95" font-size="40" text-anchor="middle" fill="#102070" transform="rotate(12 1613 85)"><tspan font-style="italic">η</tspan></text>
<path d="M1089.0,37.0L1184.4,155.2M1089.0,155.2L1184.4,273.5M1089.0,273.5L1184.4,391.8M1089.0,391.8L1184.4,510.0M1184.4,37.0L1279.8,155.2M1184.4,155.2L1279.8,273.5M1184.4,273.5L1279.8,391.8M1184.4,391.8L1279.8,510.0M1279.8,37.0L1375.2,155.2M1279.8,155.2L1375.2,273.5M1279.8,273.5L1375.2,391.8M1279.8,391.8L1375.2,510.0M1375.2,37.0L1470.6,155.2M1375.2,155.2L1470.6,273.5M1375.2,273.5L1470.6,391.8M1375.2,391.8L1470.6,510.0M1470.6,37.0L1566.0,155.2M1470.6,155.2L1566.0,273.5M1470.6,273.5L1566.0,391.8M1470.6,391.8L1566.0,510.0" stroke="#104060" stroke-opacity="0.38" stroke-width="1.8" fill="none"/>
<path d="M1089.0,76.4L1095.7,84.3L1103.3,96.1L1108.1,107.5L1112.8,117.6L1117.6,126.7L1124.0,137.5L1131.9,149.1L1136.7,155.2L1143.1,167.1L1149.4,178.9L1155.8,190.7L1160.5,199.6L1165.3,208.5L1170.1,222.5L1174.0,238.0L1178.3,249.9L1184.4,261.7L1193.9,253.0L1203.5,245.0L1212.5,238.0L1220.5,232.1L1229.1,226.2L1236.9,218.1L1246.4,210.8L1256.0,206.5L1266.8,202.6L1279.8,198.8L1289.3,202.8L1301.9,208.5L1313.2,214.0L1320.0,220.3L1327.5,227.5L1337.0,234.5L1346.6,240.9L1356.1,246.8L1365.7,252.3L1375.2,257.4L1387.1,261.7L1399.0,265.8L1408.6,269.0L1422.9,273.5L1408.6,279.3L1399.0,283.9L1389.5,289.2L1380.0,295.4L1370.4,303.1L1364.2,309.0L1356.1,317.4L1348.1,326.7L1341.8,333.4L1329.3,338.5L1322.7,338.4L1308.4,336.2L1294.1,334.3L1279.8,332.6L1273.1,326.7L1265.5,320.2L1256.0,312.2L1246.4,304.5L1237.2,297.2L1227.3,292.9L1213.0,291.8L1203.5,290.6L1189.2,287.3L1184.4,285.3L1176.7,297.2L1170.4,309.0L1165.3,320.2L1160.5,332.6L1151.0,338.2L1141.5,341.9L1128.3,338.5L1117.6,332.6L1112.8,326.7L1103.3,319.2L1093.8,314.6L1089.0,312.9" stroke="#0a5a14" stroke-opacity="0.8" stroke-width="2.4" fill="none" stroke-dasharray="3,7"/>
<path d="M1089.0,50.1L1098.5,57.2L1107.3,66.6L1112.8,74.6L1117.8,84.3L1122.4,96.1L1128.6,108.0L1135.6,119.8L1142.0,125.7L1151.0,133.9L1159.7,143.4L1165.3,150.7L1171.7,161.2L1178.0,173.0L1184.4,184.8L1189.2,183.7L1203.5,181.0L1216.2,178.9L1227.3,177.4L1241.6,175.9L1256.0,175.0L1270.3,174.3L1284.6,175.5L1294.5,178.9L1308.4,184.1L1318.0,188.0L1327.5,192.2L1339.4,196.6L1351.3,201.7L1360.9,206.3L1370.4,211.5L1380.0,216.5L1389.5,220.7L1402.8,226.2L1413.4,230.4L1422.9,234.1L1437.2,237.6L1446.8,240.1L1461.1,243.9L1470.6,246.6L1484.9,249.5L1494.4,251.7L1508.8,255.6L1518.3,258.7L1532.6,261.3L1542.2,263.6L1554.1,267.6L1566.0,273.5L1551.7,275.9L1537.4,278.7L1527.8,280.9L1513.5,284.9L1504.0,288.2L1494.5,291.5L1480.1,296.7L1470.6,300.4L1461.1,304.2L1449.4,309.0L1437.2,314.3L1427.7,318.6L1418.1,324.1L1408.6,331.3L1400.8,338.5L1393.5,344.4L1384.7,350.6L1375.2,356.3L1360.9,360.3L1351.3,362.2L1337.0,364.4L1322.7,364.1L1313.2,361.6L1298.9,358.1L1289.3,356.1L1275.0,352.7L1265.5,349.2L1256.0,344.4L1246.4,337.5L1236.9,328.7L1227.3,326.7L1217.8,331.6L1210.9,338.5L1203.5,347.9L1197.7,356.3L1190.5,368.1L1184.4,379.9L1174.9,372.0L1162.7,368.1L1151.0,366.2L1136.7,364.9L1127.2,359.0L1117.6,353.4L1108.1,347.9L1098.5,342.6L1089.0,337.6" stroke="#0a5a14" stroke-opacity="0.8" stroke-width="2.4" fill="none" stroke-dasharray="3,7"/>
<path d="M1152.6,37.0L1157.9,48.8L1164.5,60.7L1170.1,68.7L1178.3,78.4L1184.4,84.3L1198.7,85.6L1213.0,86.6L1227.3,87.4L1236.9,90.6L1248.0,96.1L1256.0,102.0L1265.5,108.2L1275.8,113.9L1287.1,119.8L1298.9,125.7L1308.4,130.2L1318.0,134.4L1327.5,138.4L1341.8,140.9L1356.1,143.4L1365.7,145.1L1380.0,146.8L1394.3,146.8L1408.6,146.8L1422.9,146.8L1437.2,146.4L1451.5,146.0L1465.8,145.6L1475.4,143.4L1489.7,137.5L1499.2,133.6L1508.8,129.6L1518.3,125.7L1529.3,119.8L1539.5,113.9L1549.0,108.0L1557.8,102.0L1566.0,96.1" stroke="#0a5a14" stroke-opacity="0.8" stroke-width="2.4" fill="none" stroke-dasharray="3,7"/>
<path d="M1566.0,325.2L1556.5,329.5L1546.9,334.5L1537.4,339.8L1527.8,344.8L1516.7,350.4L1506.4,356.3L1497.9,362.2L1489.7,369.0L1480.1,378.9L1474.7,385.8L1465.8,394.2L1456.3,398.8L1444.9,403.6L1432.4,408.3L1422.9,411.5L1408.6,413.4L1394.3,415.4L1384.7,416.7L1370.4,417.4L1356.1,415.4L1346.6,414.1L1332.3,412.1L1322.7,409.1L1310.7,403.6L1298.9,398.7L1289.3,395.1L1279.8,391.8L1270.3,394.0L1256.0,397.7L1246.4,400.4L1236.1,403.6L1225.4,409.5L1217.1,415.4L1208.2,422.2L1198.7,430.1L1189.2,438.5L1179.6,439.1L1172.1,433.1L1164.5,427.2L1155.8,420.6L1146.2,413.5L1136.7,406.5L1128.0,397.7L1120.8,391.8L1111.6,385.8L1102.2,379.9L1092.3,374.0L1089.0,372.0" stroke="#0a5a14" stroke-opacity="0.8" stroke-width="2.4" fill="none" stroke-dasharray="3,7"/>
<path d="M1244.0,37.0L1251.2,44.9L1260.7,53.6L1270.3,60.6L1279.8,66.6L1284.6,66.0L1298.9,63.9L1311.6,60.7L1322.7,55.5L1332.3,51.0L1343.4,48.8L1356.1,45.4L1365.7,41.9L1376.5,42.9L1380.3,54.7L1387.1,66.6L1394.3,73.4L1403.8,78.7L1418.1,83.3L1422.9,84.3L1437.2,83.6L1451.5,83.1L1465.8,82.6L1480.1,79.4L1489.7,75.7L1499.2,71.3L1508.8,65.9L1518.3,59.2L1527.8,53.7L1537.4,47.9L1546.9,41.8L1554.1,37.0" stroke="#0a5a14" stroke-opacity="0.8" stroke-width="2.4" fill="none" stroke-dasharray="3,7"/>
<path d="M1566.0,395.7L1556.5,398.0L1542.2,403.0L1532.6,408.1L1523.4,415.4L1518.3,421.3L1508.8,429.9L1499.2,437.9L1490.4,445.0L1482.5,450.9L1470.6,455.4L1461.1,457.0L1446.8,460.2L1437.2,463.3L1426.0,468.6L1413.4,473.3L1403.8,476.2L1391.1,480.4L1380.0,484.5L1369.9,480.4L1360.9,473.4L1351.3,468.3L1337.0,463.1L1327.5,460.7L1318.0,454.8L1308.4,450.9L1298.7,445.0L1288.1,439.1L1275.0,436.6L1265.5,440.6L1256.0,445.0L1244.0,450.9L1232.9,456.8L1226.3,462.7L1217.8,471.3L1209.8,480.4L1203.5,488.6L1196.9,498.2L1189.7,510.0" stroke="#0a5a14" stroke-opacity="0.8" stroke-width="2.4" fill="none" stroke-dasharray="3,7"/>
<path d="M1177.6,510.0L1170.1,500.1L1163.5,492.3L1155.8,483.7L1146.6,474.5L1140.1,468.6L1132.5,456.8L1127.2,448.3L1120.8,439.1L1112.8,429.4L1104.9,421.3L1098.1,415.4L1089.0,408.6" stroke="#0a5a14" stroke-opacity="0.8" stroke-width="2.4" fill="none" stroke-dasharray="3,7"/>
<path d="M1446.8,37.0L1456.3,39.0L1470.6,41.5L1477.4,37.0" stroke="#0a5a14" stroke-opacity="0.8" stroke-width="2.4" fill="none" stroke-dasharray="3,7"/>
<path d="M1566.0,431.2L1556.5,438.3L1549.5,445.0L1542.2,452.4L1532.6,459.1L1523.1,465.5L1513.5,470.5L1504.0,474.7L1492.9,480.4L1483.4,486.4L1475.4,492.3L1465.8,499.4L1456.3,506.7L1452.7,510.0" stroke="#0a5a14" stroke-opacity="0.8" stroke-width="2.4" fill="none" stroke-dasharray="3,7"/>
<path d="M1131.6,510.0L1127.2,496.3L1122.4,485.1L1116.5,474.5L1108.1,463.6L1100.9,456.8L1093.0,450.9L1089.0,446.7" stroke="#0a5a14" stroke-opacity="0.8" stroke-width="2.4" fill="none" stroke-dasharray="3,7"/>
<path d="M1333.5,510.0L1327.0,504.1L1319.5,492.3L1313.2,484.9L1303.7,476.6L1294.1,470.6L1284.6,465.9L1270.3,468.1L1260.7,473.6L1252.3,480.4L1246.4,487.0L1239.4,498.2L1234.3,510.0" stroke="#0a5a14" stroke-opacity="0.8" stroke-width="2.4" fill="none" stroke-dasharray="3,7"/>
<path d="M1566.0,460.7L1556.5,467.6L1546.9,474.1L1537.4,480.4L1528.0,486.4L1518.3,492.3L1508.8,497.9L1499.8,504.1L1492.3,510.0" stroke="#0a5a14" stroke-opacity="0.8" stroke-width="2.4" fill="none" stroke-dasharray="3,7"/>
<path d="M1118.0,510.0L1112.8,498.9L1108.1,490.5L1100.9,480.4L1093.8,472.5L1089.0,468.1" stroke="#0a5a14" stroke-opacity="0.8" stroke-width="2.4" fill="none" stroke-dasharray="3,7"/>
<path d="M1310.8,510.0L1303.7,500.9L1294.9,492.3L1287.3,486.4L1275.0,484.7L1265.7,492.3L1260.1,498.2L1251.6,510.0" stroke="#0a5a14" stroke-opacity="0.8" stroke-width="2.4" fill="none" stroke-dasharray="3,7"/>
<path d="M1184.4,37V510M1279.8,37V510M1375.2,37V510M1470.6,37V510M1089,155.2H1566M1089,273.5H1566" stroke="#080808" stroke-width="2.4" fill="none"/>
<rect x="1089" y="37" width="477" height="473" fill="none" stroke="#000" stroke-width="3.4"/>
<text x="1296.5" y="68" font-size="27" text-anchor="middle" fill="#0c2a0c" >0.81</text>
<text x="1489.6" y="68" font-size="27" text-anchor="middle" fill="#0c2a0c" >0.81</text>
<text x="1215" y="89" font-size="27" text-anchor="middle" fill="#0c2a0c" >0.64</text>
<text x="1510" y="104" font-size="27" text-anchor="middle" fill="#0c2a0c" >0.72</text>
<text x="1415" y="215" font-size="27" text-anchor="middle" fill="#0c2a0c" >0.57</text>
<text x="1160" y="286" font-size="27" text-anchor="middle" fill="#0c2a0c" >0.58</text>
<text x="1470.5" y="282" font-size="27" text-anchor="middle" fill="#0c2a0c" >0.53</text>
<text x="1331.5" y="350" font-size="27" text-anchor="middle" fill="#0c2a0c" >0.53</text>
<text x="1277.4" y="391" font-size="27" text-anchor="middle" fill="#0c2a0c" >0.64</text>
<text x="1176.5" y="408" font-size="27" text-anchor="middle" fill="#0c2a0c" >0.57</text>
<text x="1227" y="449" font-size="27" text-anchor="middle" fill="#0c2a0c" >0.72</text>
<text x="1244" y="474" font-size="27" text-anchor="middle" fill="#0c2a0c" >0.81</text>
<text x="1283.6" y="493" font-size="27" text-anchor="middle" fill="#0c2a0c" >0.89</text>
<text x="1538.5" y="480" font-size="27" text-anchor="middle" fill="#0c2a0c" >0.89</text>
<text x="1461" y="503" font-size="27" text-anchor="middle" fill="#0c2a0c" >0.81</text>
<text x="1091.0" y="558" font-size="44" text-anchor="middle" fill="#000" >700</text>
<text x="1184.4" y="558" font-size="44" text-anchor="middle" fill="#000" >750</text>
<text x="1279.8" y="558" font-size="44" text-anchor="middle" fill="#000" >800</text>
<text x="1375.2" y="558" font-size="44" text-anchor="middle" fill="#000" >850</text>
<text x="1470.6" y="558" font-size="44" text-anchor="middle" fill="#000" >900</text>
<text x="1566.0" y="558" font-size="44" text-anchor="middle" fill="#000" >950</text>
<text x="1070" y="47.1" font-size="44" text-anchor="end" fill="#000" >1.0</text>
<text x="1070" y="99.8" font-size="44" text-anchor="end" fill="#000" >0.5</text>
<text x="1070" y="152.5" font-size="44" text-anchor="end" fill="#000" >0.0</text>
<text x="1070" y="205.2" font-size="44" text-anchor="end" fill="#000" >−0.5</text>
<text x="1070" y="257.9" font-size="44" text-anchor="end" fill="#000" >−1.0</text>
<text x="1070" y="310.6" font-size="44" text-anchor="end" fill="#000" >−1.5</text>
<text x="1070" y="363.3" font-size="44" text-anchor="end" fill="#000" >−2.0</text>
<text x="1070" y="416.0" font-size="44" text-anchor="end" fill="#000" >−2.5</text>
<text x="1070" y="468.7" font-size="44" text-anchor="end" fill="#000" >−2.5</text>
<text x="1070" y="521.4" font-size="44" text-anchor="end" fill="#000" >−3.0</text>
<text x="938" y="36" font-size="44" text-anchor="start" fill="#000" >(b)</text>
<text x="1347.5" y="608" font-size="43" text-anchor="middle" fill="#000" >温度/℃</text>
<g transform="translate(959,272) rotate(-90)">
<text x="0" y="0" font-size="44" text-anchor="middle" fill="#000" >lg<tspan font-style="italic">ε</tspan>/s<tspan font-size="26" dy="-16">−1</tspan></text>
<text x="-11" y="-30" font-size="40" text-anchor="middle" fill="#000" >.</text>
</g>
<rect x="784.6" y="711.0" width="61.5" height="473.5" fill="none" stroke="#111" stroke-width="2.4"/>
<text x="873.1" y="735.1" font-size="44" text-anchor="start" fill="#000" >0.99</text>
<text x="873.1" y="791.5" font-size="44" text-anchor="start" fill="#000" >0.92</text>
<text x="873.1" y="847.9" font-size="44" text-anchor="start" fill="#000" >0.85</text>
<text x="873.1" y="904.3" font-size="44" text-anchor="start" fill="#000" >0.78</text>
<text x="873.1" y="960.7" font-size="44" text-anchor="start" fill="#000" >0.71</text>
<text x="873.1" y="1017.1" font-size="44" text-anchor="start" fill="#000" >0.64</text>
<text x="873.1" y="1073.5" font-size="44" text-anchor="start" fill="#000" >0.57</text>
<text x="873.1" y="1129.9" font-size="44" text-anchor="start" fill="#000" >0.50</text>
<text x="873.1" y="1186.3" font-size="44" text-anchor="start" fill="#000" >0.43</text>
<path d="M846.1,723.0h9M846.1,779.4h9M846.1,835.8h9M846.1,892.2h9M846.1,948.6h9M846.1,1005.0h9M846.1,1061.4h9M846.1,1117.8h9M846.1,1174.2h9" stroke="#000" stroke-width="3" fill="none"/>
<text x="817.6" y="768.5" font-size="40" text-anchor="middle" fill="#102070" transform="rotate(12 817.6 758.5)"><tspan font-style="italic">η</tspan></text>
<path d="M293.6,710.5L389.0,828.9M293.6,828.9L389.0,947.2M293.6,947.2L389.0,1065.6M293.6,1065.6L389.0,1184.0M389.0,710.5L484.4,828.9M389.0,828.9L484.4,947.2M389.0,947.2L484.4,1065.6M389.0,1065.6L484.4,1184.0M484.4,710.5L579.8,828.9M484.4,828.9L579.8,947.2M484.4,947.2L579.8,1065.6M484.4,1065.6L579.8,1184.0M579.8,710.5L675.2,828.9M579.8,828.9L675.2,947.2M579.8,947.2L675.2,1065.6M579.8,1065.6L675.2,1184.0M675.2,710.5L770.6,828.9M675.2,828.9L770.6,947.2M675.2,947.2L770.6,1065.6M675.2,1065.6L770.6,1184.0" stroke="#101010" stroke-width="2.2" fill="none" stroke-dasharray="72,18"/>
<path d="M293.6,784.5L298.4,797.2L303.1,808.3L307.9,818.0L314.0,828.9L317.5,840.7L322.2,854.2L327.0,865.2L333.0,876.2L341.3,888.1L337.4,905.8L334.5,917.7L331.2,929.5L327.0,942.7L317.5,953.2L307.9,957.1L298.4,959.5L293.6,960.4" stroke="#0a5a14" stroke-opacity="0.8" stroke-width="2.4" fill="none" stroke-dasharray="9,6"/>
<path d="M480.4,911.7L489.2,912.4L498.7,921.6L506.9,929.5L513.0,935.4L522.6,944.6L520.4,953.2L513.0,959.6L503.5,965.5L490.0,970.9L482.4,970.9L474.9,964.8L465.3,957.1L455.8,949.7L456.4,941.3L465.0,929.5L470.1,923.1L479.6,912.6L480.4,911.7" stroke="#0a5a14" stroke-opacity="0.8" stroke-width="2.4" fill="none" stroke-dasharray="9,6"/>
<path d="M293.6,743.4L301.4,751.9L307.9,761.1L312.7,769.7L318.0,781.5L324.0,793.4L330.8,805.2L336.5,813.9L343.8,823.0L350.8,831.8L355.6,840.7L362.0,852.5L368.3,864.4L374.7,876.2L379.5,885.1L384.2,899.1L389.0,911.7L393.8,907.8L403.3,900.3L412.1,894.0L420.8,888.1L431.9,884.2L441.5,880.0L451.0,875.7L465.3,870.8L474.9,868.3L489.2,868.1L498.7,872.0L508.3,876.2L520.7,882.1L532.1,888.1L539.5,894.0L547.4,899.9L556.0,905.8L565.5,912.0L575.0,917.7L588.2,923.6L598.9,927.5L608.4,930.9L621.5,935.4L632.3,938.8L641.8,941.7L656.1,946.2L651.4,950.1L641.8,953.6L627.5,959.1L618.0,963.6L608.4,968.8L598.9,974.7L589.3,981.5L580.7,988.7L574.7,994.6L565.5,1004.6L556.0,1010.7L546.4,1014.8L536.4,1018.3L525.3,1018.3L513.0,1016.1L498.7,1013.8L488.4,1012.4L474.9,1006.4L468.0,1000.5L460.6,994.2L451.0,986.3L441.5,978.6L431.9,975.2L417.6,976.3L408.1,977.5L393.8,980.8L385.6,988.7L379.7,1000.5L374.7,1008.8L365.2,1015.2L355.6,1019.0L341.3,1022.6L331.8,1017.0L322.2,1011.6L312.7,1006.4L303.1,998.4L293.6,993.3" stroke="#0a5a14" stroke-opacity="0.8" stroke-width="2.4" fill="none" stroke-dasharray="9,6"/>
<path d="M293.6,717.1L303.1,723.0L312.7,731.5L319.3,740.1L325.6,751.9L330.0,763.8L334.9,775.6L341.3,786.6L350.4,793.4L357.2,799.3L365.2,807.4L373.1,817.0L379.5,826.3L384.2,834.8L393.8,843.1L408.1,841.7L420.8,840.7L431.9,839.9L446.2,840.1L460.6,840.7L470.1,841.0L484.4,841.3L498.7,845.9L508.2,849.2L517.8,852.7L532.1,858.5L541.6,861.6L551.2,865.0L563.9,870.3L575.0,875.7L584.6,879.9L594.1,883.7L603.7,888.1L617.7,894.0L627.5,897.9L637.0,900.1L651.4,903.5L660.9,905.9L675.2,909.6L689.5,911.5L699.0,913.0L713.4,915.6L722.9,917.7L732.4,917.7L742.0,917.7L751.5,917.7L761.1,917.7L770.6,917.7" stroke="#0a5a14" stroke-opacity="0.8" stroke-width="2.4" fill="none" stroke-dasharray="9,6"/>
<path d="M770.6,954.6L756.3,957.6L746.8,959.9L732.4,963.9L722.9,967.0L711.7,970.9L699.0,975.6L689.5,979.2L680.0,983.0L666.2,988.7L656.1,993.0L646.6,997.3L637.0,1001.8L627.5,1006.4L618.0,1016.9L609.6,1024.2L601.5,1030.1L591.7,1036.0L579.8,1041.9L570.3,1043.2L556.0,1044.5L541.6,1045.4L527.3,1044.4L517.8,1041.6L503.5,1037.8L493.9,1035.5L479.6,1032.3L470.1,1029.7L456.4,1024.2L447.3,1018.3L441.1,1012.4L436.7,1006.4L427.2,1016.0L420.1,1024.2L412.9,1033.8L407.3,1042.0L400.4,1053.8L394.3,1065.6L384.2,1066.0L379.2,1059.7L369.9,1052.6L358.4,1047.9L346.1,1044.9L336.5,1041.1L327.0,1035.2L317.5,1029.6L307.9,1024.1L297.3,1018.3L293.6,1016.3" stroke="#0a5a14" stroke-opacity="0.8" stroke-width="2.4" fill="none" stroke-dasharray="9,6"/>
<path d="M381.1,710.5L389.0,722.3L398.5,725.8L408.1,728.9L422.4,732.7L431.9,734.9L441.5,740.5L451.0,748.1L460.6,754.1L470.1,759.0L481.7,763.8L493.9,767.4L503.5,771.5L513.0,776.9L522.6,781.9L536.9,787.4L546.4,789.1L560.7,791.7L570.3,793.4L584.6,795.1L598.9,795.1L613.2,795.1L627.5,795.1L641.8,793.5L651.4,792.5L665.7,790.7L680.0,787.4L689.5,783.5L699.1,779.6L708.6,775.6L722.9,769.7L732.4,765.1L742.0,760.3L751.5,755.3L761.1,750.0L770.6,744.3" stroke="#0a5a14" stroke-opacity="0.8" stroke-width="2.4" fill="none" stroke-dasharray="9,6"/>
<path d="M770.6,1026.2L761.1,1031.3L751.5,1036.0L738.8,1042.0L727.7,1046.8L718.1,1052.4L709.7,1059.7L703.8,1065.6L694.3,1074.6L684.7,1083.0L677.3,1089.3L665.7,1094.4L656.1,1097.5L643.4,1101.1L632.3,1104.0L618.0,1106.4L608.4,1107.7L594.1,1109.7L579.8,1111.7L565.5,1109.7L551.2,1107.7L541.6,1106.4L527.3,1102.3L517.8,1097.1L508.2,1092.3L498.7,1087.8L488.4,1083.4L478.9,1083.4L465.3,1087.7L455.8,1091.0L444.7,1095.2L433.2,1101.1L425.5,1107.1L417.6,1113.5L408.1,1121.9L399.6,1130.7L393.8,1138.0L387.3,1142.6L379.5,1134.1L369.9,1124.8L362.5,1118.9L354.9,1113.0L346.1,1106.2L336.5,1095.9L331.1,1089.3L322.2,1080.4L312.7,1072.8L303.1,1066.5L293.6,1060.7" stroke="#0a5a14" stroke-opacity="0.8" stroke-width="2.4" fill="none" stroke-dasharray="9,6"/>
<path d="M448.6,710.5L455.8,718.4L465.3,727.1L474.9,734.2L484.4,740.1L489.2,739.6L503.5,737.4L516.2,734.2L527.3,729.0L536.9,724.5L548.0,722.3L560.7,719.0L570.3,715.4L581.1,716.4L584.9,728.3L591.7,740.1L598.9,746.9L608.4,752.3L622.7,756.8L627.5,757.9L641.8,757.2L656.1,756.6L670.4,756.2L684.7,752.9L694.3,749.2L703.8,744.8L713.4,739.4L722.9,732.7L732.4,727.2L742.0,721.4L751.5,715.3L758.7,710.5" stroke="#0a5a14" stroke-opacity="0.8" stroke-width="2.4" fill="none" stroke-dasharray="9,6"/>
<path d="M770.6,1069.6L761.1,1071.9L746.8,1076.9L737.2,1082.0L728.0,1089.3L722.9,1095.2L713.4,1103.8L703.8,1111.9L695.0,1118.9L687.1,1124.8L675.2,1129.4L665.7,1130.9L651.4,1134.2L641.8,1137.2L630.6,1142.6L618.0,1147.3L608.4,1150.2L595.7,1154.4L584.6,1158.5L574.5,1154.4L565.5,1147.3L556.0,1142.2L541.6,1137.1L532.1,1134.7L522.6,1128.8L513.0,1124.8L503.3,1118.9L492.7,1113.0L479.6,1110.6L470.1,1114.6L460.6,1118.9L448.6,1124.8L437.5,1130.7L430.9,1136.7L422.4,1145.3L414.4,1154.4L408.1,1162.6L401.5,1172.2L394.3,1184.0" stroke="#0a5a14" stroke-opacity="0.8" stroke-width="2.4" fill="none" stroke-dasharray="9,6"/>
<path d="M382.2,1184.0L374.7,1174.1L368.1,1166.2L360.4,1157.7L351.2,1148.5L344.7,1142.6L337.1,1130.7L331.8,1122.2L325.4,1113.0L317.5,1103.3L309.5,1095.2L302.7,1089.3L293.6,1082.5" stroke="#0a5a14" stroke-opacity="0.8" stroke-width="2.4" fill="none" stroke-dasharray="9,6"/>
<path d="M770.6,1109.0L761.1,1116.7L753.3,1124.8L745.0,1130.7L736.4,1136.7L727.5,1142.6L715.9,1148.5L703.8,1154.4L694.3,1160.0L685.4,1166.2L678.2,1172.2L670.4,1178.2L663.3,1184.0" stroke="#0a5a14" stroke-opacity="0.8" stroke-width="2.4" fill="none" stroke-dasharray="9,6"/>
<path d="M334.5,1184.0L330.5,1172.2L325.4,1160.3L318.5,1148.5L312.7,1141.0L303.1,1131.6L293.6,1124.8" stroke="#0a5a14" stroke-opacity="0.8" stroke-width="2.4" fill="none" stroke-dasharray="9,6"/>
<path d="M532.1,1184.0L527.3,1175.2L521.0,1166.2L513.0,1157.7L503.5,1150.2L493.9,1144.5L484.4,1140.2L474.9,1144.5L465.3,1150.5L455.8,1159.2L450.2,1166.2L443.5,1178.1L441.0,1184.0" stroke="#0a5a14" stroke-opacity="0.8" stroke-width="2.4" fill="none" stroke-dasharray="9,6"/>
<path d="M770.6,1134.7L761.1,1141.5L751.5,1148.1L742.0,1154.4L732.6,1160.3L722.9,1166.2L713.4,1171.9L704.4,1178.1L696.9,1184.0" stroke="#0a5a14" stroke-opacity="0.8" stroke-width="2.4" fill="none" stroke-dasharray="9,6"/>
<path d="M322.6,1184.0L317.5,1172.9L312.7,1164.5L305.5,1154.4L298.4,1146.5L293.6,1142.1" stroke="#0a5a14" stroke-opacity="0.8" stroke-width="2.4" fill="none" stroke-dasharray="9,6"/>
<path d="M515.4,1184.0L508.2,1174.9L499.5,1166.2L491.9,1160.3L479.6,1158.6L470.3,1166.2L464.7,1172.2L456.2,1184.0" stroke="#0a5a14" stroke-opacity="0.8" stroke-width="2.4" fill="none" stroke-dasharray="9,6"/>
<path d="M389.0,710.5V1184M484.4,710.5V1184M579.8,710.5V1184M675.2,710.5V1184M293.6,828.9H770.6M293.6,947.2H770.6M293.6,1065.6H770.6" stroke="#080808" stroke-width="2.4" fill="none"/>
<rect x="293.6" y="710.5" width="477.0" height="473.5" fill="none" stroke="#000" stroke-width="3.4"/>
<text x="488.1" y="728.0" font-size="27" text-anchor="middle" fill="#0c2a0c" >0.82</text>
<text x="686.6" y="734.5" font-size="27" text-anchor="middle" fill="#0c2a0c" >0.82</text>
<text x="715.1" y="768.5" font-size="27" text-anchor="middle" fill="#0c2a0c" >0.72</text>
<text x="732.6" y="791.5" font-size="27" text-anchor="middle" fill="#0c2a0c" >0.67</text>
<text x="326.0" y="834.5" font-size="27" text-anchor="middle" fill="#0c2a0c" >0.49</text>
<text x="386.6" y="831.5" font-size="27" text-anchor="middle" fill="#0c2a0c" >0.58</text>
<text x="656.6" y="932.5" font-size="27" text-anchor="middle" fill="#0c2a0c" >0.54</text>
<text x="518.9" y="953.5" font-size="27" text-anchor="middle" fill="#0c2a0c" >0.49</text>
<text x="424.3" y="1000.5" font-size="27" text-anchor="middle" fill="#0c2a0c" >0.58</text>
<text x="326.0" y="1072.5" font-size="27" text-anchor="middle" fill="#0c2a0c" >0.67</text>
<text x="713.6" y="1072.5" font-size="27" text-anchor="middle" fill="#0c2a0c" >0.67</text>
<text x="424.3" y="1118.5" font-size="27" text-anchor="middle" fill="#0c2a0c" >0.72</text>
<text x="446.0" y="1145.5" font-size="27" text-anchor="middle" fill="#0c2a0c" >0.82</text>
<text x="481.1" y="1160.5" font-size="27" text-anchor="middle" fill="#0c2a0c" >0.89</text>
<text x="741.6" y="1156.0" font-size="27" text-anchor="middle" fill="#0c2a0c" >0.89</text>
<text x="673.0" y="1179.5" font-size="27" text-anchor="middle" fill="#0c2a0c" >0.82</text>
<text x="295.6" y="1234" font-size="44" text-anchor="middle" fill="#000" >700</text>
<text x="389.0" y="1234" font-size="44" text-anchor="middle" fill="#000" >750</text>
<text x="484.4" y="1234" font-size="44" text-anchor="middle" fill="#000" >800</text>
<text x="579.8" y="1234" font-size="44" text-anchor="middle" fill="#000" >850</text>
<text x="675.2" y="1234" font-size="44" text-anchor="middle" fill="#000" >900</text>
<text x="770.6" y="1234" font-size="44" text-anchor="middle" fill="#000" >950</text>
<text x="274" y="723.5" font-size="44" text-anchor="end" fill="#000" >1.0</text>
<text x="274" y="776.1" font-size="44" text-anchor="end" fill="#000" >0.5</text>
<text x="274" y="828.7" font-size="44" text-anchor="end" fill="#000" >0.0</text>
<text x="274" y="881.3" font-size="44" text-anchor="end" fill="#000" >−0.5</text>
<text x="274" y="933.9" font-size="44" text-anchor="end" fill="#000" >−1.0</text>
<text x="274" y="986.5" font-size="44" text-anchor="end" fill="#000" >−1.5</text>
<text x="274" y="1039.1" font-size="44" text-anchor="end" fill="#000" >−2.0</text>
<text x="274" y="1091.7" font-size="44" text-anchor="end" fill="#000" >−2.5</text>
<text x="274" y="1144.3" font-size="44" text-anchor="end" fill="#000" >−2.5</text>
<text x="274" y="1196.9" font-size="44" text-anchor="end" fill="#000" >−3.0</text>
<text x="223" y="659" font-size="44" text-anchor="start" fill="#000" >(d)</text>
<text x="532.1" y="1280" font-size="43" text-anchor="middle" fill="#000" >温度/℃</text>
<g transform="translate(164,946) rotate(-90)">
<text x="0" y="0" font-size="44" text-anchor="middle" fill="#000" >lg<tspan font-style="italic">ε</tspan>/s<tspan font-size="26" dy="-16">−1</tspan></text>
<text x="-11" y="-30" font-size="40" text-anchor="middle" fill="#000" >.</text>
</g>
<path d="M2156.8,41.5V514.5M2235.4,41.5V514.5M2314.0,41.5V514.5M2392.6,41.5V514.5M2471.2,41.5V514.5M2078,139.0H2550.5M2078,230.0H2550.5M2078,325.0H2550.5M2078,420.0H2550.5" stroke="#e2e2e2" stroke-width="2.4" fill="none"/>
<path d="M2120.7,90.0C2128.2,101.7 2150.8,136.3 2166.0,160.0C2181.2,183.7 2201.5,215.3 2211.7,232.0C2221.9,248.7 2219.6,248.3 2227.4,260.0C2235.2,271.7 2248.3,288.8 2258.7,302.0C2269.1,315.2 2279.5,329.1 2290.0,339.5C2300.5,349.9 2311.0,358.0 2321.5,364.6C2332.0,371.2 2344.3,376.3 2353.0,379.0C2361.7,381.7 2366.9,381.7 2373.8,381.0C2380.8,380.3 2386.0,380.2 2394.7,375.0C2403.4,369.8 2416.6,360.5 2426.0,350.0C2435.4,339.5 2443.7,324.2 2451.0,312.0C2458.3,299.8 2464.6,287.9 2470.0,276.7C2475.4,265.5 2481.3,250.3 2483.6,245.0" stroke="#a8b010" stroke-width="2.6" fill="none"/>
<path d="M2120.7,169.6C2124.5,179.5 2134.3,210.4 2143.7,229.0C2153.1,247.6 2165.5,266.2 2177.0,281.0C2188.5,295.8 2202.6,305.7 2212.7,317.5C2222.8,329.3 2228.4,342.8 2237.8,352.0C2247.2,361.2 2258.5,369.0 2269.0,373.0C2279.5,377.0 2290.1,376.7 2300.6,376.0C2311.1,375.3 2321.6,373.5 2332.0,368.8C2342.4,364.1 2352.9,357.4 2363.0,347.9C2373.1,338.4 2382.1,325.6 2392.6,312.0C2403.1,298.4 2416.9,279.8 2426.0,266.0C2435.1,252.2 2440.0,242.2 2447.0,229.0C2454.0,215.8 2461.9,199.2 2468.0,187.0C2474.1,174.8 2481.0,161.2 2483.6,156.0" stroke="#8070f0" stroke-width="2.6" fill="none"/>
<path d="M2120.7,237.6C2124.5,243.4 2132.9,258.3 2143.7,272.5C2154.5,286.7 2174.2,310.4 2185.5,322.8C2196.8,335.2 2201.3,338.4 2211.7,346.8C2222.1,355.2 2234.9,367.3 2248.0,373.0C2261.1,378.7 2276.0,381.3 2290.0,381.0C2304.0,380.7 2318.0,377.2 2332.0,371.0C2346.0,364.8 2363.5,351.4 2373.8,343.7C2384.1,336.0 2385.0,333.4 2393.7,325.0C2402.4,316.6 2416.4,304.3 2426.0,293.5C2435.6,282.7 2441.4,273.9 2451.0,260.0C2460.6,246.2 2478.2,218.7 2483.6,210.4" stroke="#60c040" stroke-width="2.6" fill="none"/>
<path d="M2120.7,104.0C2128.0,117.8 2153.1,164.3 2164.6,187.0C2176.1,209.7 2179.3,217.8 2189.7,240.0C2200.1,262.2 2215.5,297.8 2227.0,320.0C2238.5,342.2 2246.4,356.5 2258.7,373.0C2271.0,389.5 2288.4,410.0 2300.6,419.0C2312.8,428.0 2321.6,427.3 2332.0,427.0C2342.4,426.7 2352.9,424.3 2363.0,417.0C2373.1,409.7 2382.1,398.1 2392.6,383.4C2403.1,368.7 2416.9,345.1 2426.0,329.0C2435.1,312.9 2440.0,305.5 2447.0,287.0C2454.0,268.5 2461.7,237.2 2468.0,218.0C2474.3,198.8 2481.9,179.4 2484.7,171.7" stroke="#3058f0" stroke-width="2.6" fill="none"/>
<path d="M2120.7,284.0C2126.2,289.4 2138.8,304.3 2154.0,316.5C2169.2,328.7 2192.5,347.2 2211.7,357.0C2230.9,366.8 2248.9,372.7 2269.0,375.0C2289.1,377.3 2311.4,376.2 2332.0,371.0C2352.6,365.8 2375.2,353.1 2392.6,344.0C2410.0,334.9 2421.2,329.7 2436.6,316.5C2451.9,303.3 2476.7,273.6 2484.7,265.0" stroke="#f0204c" stroke-width="2.6" fill="none"/>
<path d="M2120.7,90.0C2128.2,101.8 2150.8,137.0 2166.0,161.0C2181.2,185.0 2196.7,206.7 2211.7,234.0C2226.7,261.3 2241.2,294.7 2256.0,325.0C2270.8,355.3 2289.1,395.7 2300.6,416.0C2312.1,436.3 2316.3,438.2 2325.0,447.0C2333.7,455.8 2341.7,463.2 2353.0,469.0C2364.3,474.8 2380.6,482.5 2392.6,482.0C2404.6,481.5 2415.9,473.3 2425.0,466.0C2434.1,458.7 2439.5,451.4 2447.0,438.0C2454.5,424.6 2463.9,400.7 2470.0,385.5C2476.1,370.3 2481.3,353.4 2483.6,347.0" stroke="#222" stroke-width="2.6" fill="none"/>
<rect x="2115.2" y="82.5" width="11.0" height="11.0" fill="#1a1a1a"/>
<rect x="2206.2" y="230.5" width="11.0" height="11.0" fill="#1a1a1a"/>
<rect x="2295.1" y="410.5" width="11.0" height="11.0" fill="#1a1a1a"/>
<rect x="2387.1" y="476.5" width="11.0" height="11.0" fill="#1a1a1a"/>
<rect x="2478.1" y="341.5" width="11.0" height="11.0" fill="#1a1a1a"/>
<path d="M2113.5,92.0L2125.9,85.2L2125.9,98.8Z" fill="#d08828"/>
<path d="M2204.5,230.0L2216.9,223.2L2216.9,236.8Z" fill="#d08828"/>
<path d="M2295.5,358.3L2307.9,351.5L2307.9,365.1Z" fill="#d08828"/>
<path d="M2386.5,366.7L2398.9,359.9L2398.9,373.5Z" fill="#d08828"/>
<path d="M2476.4,245.0L2488.8,238.2L2488.8,251.8Z" fill="#d08828"/>
<path d="M2120.7,161.5L2127.2,169.6L2120.7,177.7L2114.2,169.6Z" fill="#8070f0"/>
<path d="M2212.7,309.4L2219.2,317.5L2212.7,325.6L2206.2,317.5Z" fill="#8070f0"/>
<path d="M2301.6,383.7L2308.1,391.8L2301.6,399.9L2295.1,391.8Z" fill="#8070f0"/>
<path d="M2392.6,296.9L2399.1,305.0L2392.6,313.1L2386.1,305.0Z" fill="#8070f0"/>
<path d="M2483.6,147.9L2490.1,156.0L2483.6,164.1L2477.1,156.0Z" fill="#8070f0"/>
<path d="M2120.7,244.8L2127.5,232.4L2113.9,232.4Z" fill="#58c838"/>
<path d="M2211.7,353.9L2218.5,341.6L2204.9,341.6Z" fill="#58c838"/>
<path d="M2393.7,332.0L2400.5,319.7L2386.9,319.7Z" fill="#58c838"/>
<path d="M2483.6,217.6L2490.4,205.2L2476.8,205.2Z" fill="#58c838"/>
<path d="M2120.7,96.5L2127.5,108.9L2113.9,108.9Z" fill="#3058f0"/>
<path d="M2211.7,277.9L2218.5,290.2L2204.9,290.2Z" fill="#3058f0"/>
<path d="M2301.6,439.9L2308.4,452.2L2294.8,452.2Z" fill="#3058f0"/>
<path d="M2484.7,164.5L2491.5,176.9L2477.9,176.9Z" fill="#3058f0"/>
<circle cx="2120.7" cy="284.0" r="6.2" fill="#f0204c"/>
<circle cx="2211.7" cy="357.3" r="6.2" fill="#f0204c"/>
<circle cx="2392.6" cy="343.7" r="6.2" fill="#f0204c"/>
<circle cx="2484.7" cy="265.0" r="6.2" fill="#f0204c"/>
<rect x="2295.1" y="410.5" width="11.0" height="11.0" fill="#1a1a1a"/>
<rect x="2387.1" y="476.5" width="11.0" height="11.0" fill="#1a1a1a"/>
<rect x="2478.1" y="341.5" width="11.0" height="11.0" fill="#1a1a1a"/>
<rect x="2078" y="41.5" width="472.5" height="473.0" fill="none" stroke="#000" stroke-width="3.4"/>
<path d="M2156.8,514.5v-13M2235.4,514.5v-13M2314.0,514.5v-13M2392.6,514.5v-13M2471.2,514.5v-13M2078,139.0h13M2078,230.0h13M2078,325.0h13M2078,420.0h13" stroke="#000" stroke-width="3" fill="none"/>
<text x="2073.2" y="554" font-size="44" text-anchor="middle" fill="#000" >−8</text>
<text x="2151.8" y="554" font-size="44" text-anchor="middle" fill="#000" >−6</text>
<text x="2230.4" y="554" font-size="44" text-anchor="middle" fill="#000" >−4</text>
<text x="2309.0" y="554" font-size="44" text-anchor="middle" fill="#000" >−2</text>
<text x="2392.6" y="554" font-size="44" text-anchor="middle" fill="#000" >0</text>
<text x="2471.2" y="554" font-size="44" text-anchor="middle" fill="#000" >2</text>
<text x="2549.8" y="554" font-size="44" text-anchor="middle" fill="#000" >4</text>
<text x="2061" y="44" font-size="44" text-anchor="end" fill="#000" >−0.6</text>
<text x="2061" y="136" font-size="44" text-anchor="end" fill="#000" >−0.8</text>
<text x="2061" y="230" font-size="44" text-anchor="end" fill="#000" >−1.0</text>
<text x="2061" y="325.5" font-size="44" text-anchor="end" fill="#000" >−1.2</text>
<text x="2061" y="421" font-size="44" text-anchor="end" fill="#000" >−1.4</text>
<text x="2061" y="516" font-size="44" text-anchor="end" fill="#000" >−1.6</text>
<text x="1891" y="40" font-size="44" text-anchor="start" fill="#000" >(c)</text>
<g transform="translate(2313,610)">
<text x="0" y="0" font-size="44" text-anchor="middle" fill="#000" >lg<tspan font-style="italic">ε</tspan>/s<tspan font-size="26" dy="-16">−1</tspan></text>
<text x="-11" y="-30" font-size="40" text-anchor="middle" fill="#000" >.</text>
</g>
<g transform="translate(1936.6,344) rotate(-90)">
<text x="0" y="0" font-size="44" text-anchor="start" fill="#000" >ln/(</text>
<text x="110" y="-26" font-size="42" text-anchor="middle" fill="#000" ><tspan font-style="italic">m</tspan></text>
<text x="107.5" y="27" font-size="42" text-anchor="middle" fill="#000" ><tspan font-style="italic">m</tspan>+1</text>
<path d="M59.5,-9.6H152.4" stroke="#000" stroke-width="2"/>
<text x="148" y="0" font-size="44" text-anchor="start" fill="#000" >)</text>
</g>
<rect x="2265.9" y="77.9" width="10.2" height="10.2" fill="#1a1a1a"/>
<text x="2288" y="95.5" font-size="44" text-anchor="start" fill="#000" >700 <tspan dx="3">℃</tspan></text>
<circle cx="2271.0" cy="120.1" r="5.7" fill="#f0204c"/>
<text x="2288" y="132.6" font-size="44" text-anchor="start" fill="#000" >750 <tspan dx="3">℃</tspan></text>
<path d="M2271.0,150.6L2277.3,162.0L2264.7,162.0Z" fill="#3058f0"/>
<text x="2288" y="169.7" font-size="44" text-anchor="start" fill="#000" >800 <tspan dx="3">℃</tspan></text>
<path d="M2271.0,200.9L2277.3,189.5L2264.7,189.5Z" fill="#58c838"/>
<text x="2288" y="206.8" font-size="44" text-anchor="start" fill="#000" >850 <tspan dx="3">℃</tspan></text>
<path d="M2271.0,223.9L2277.0,231.4L2271.0,238.9L2265.0,231.4Z" fill="#8070f0"/>
<text x="2288" y="243.9" font-size="44" text-anchor="start" fill="#000" >900 <tspan dx="3">℃</tspan></text>
<path d="M2264.4,268.5L2275.8,262.2L2275.8,274.8Z" fill="#c89a18"/>
<text x="2288" y="281.0" font-size="44" text-anchor="start" fill="#000" >950 <tspan dx="3">℃</tspan></text>
<defs>
<filter id="semE" x="0" y="0" width="100%" height="100%" color-interpolation-filters="sRGB">
 <feTurbulence type="fractalNoise" baseFrequency="0.022 0.05" numOctaves="2" seed="7" result="t"/>
 <feComponentTransfer in="t" result="a">
   <feFuncA type="linear" slope="0" intercept="1"/>
   <feFuncR type="table" tableValues="0 0 0 0 0 0 0 0 1 0 0 0 1 0 0 0 0 0 0 0 0"/>
 </feComponentTransfer>
 <feColorMatrix in="a" type="matrix" values="0 0 0 0 0.82  0 0 0 0 0.82  0 0 0 0 0.82  1 0 0 0 0" result="veins"/>
 <feFlood flood-color="#585858" result="bg"/>
 <feMerge><feMergeNode in="bg"/><feMergeNode in="veins"/></feMerge>
</filter>
<filter id="semF" x="0" y="0" width="100%" height="100%" color-interpolation-filters="sRGB">
 <feTurbulence type="fractalNoise" baseFrequency="0.034 0.085" numOctaves="3" seed="11" result="t"/>
 <feComponentTransfer in="t" result="a">
   <feFuncA type="linear" slope="0" intercept="1"/>
   <feFuncR type="table" tableValues="1 1 1 1 1 1 1 0.8 0.05 0 0 0 0 0 0 0 0 0 0 0 0"/>
   <feFuncG type="table" tableValues="0 0 0 0 0 0 0 0.3 0.9 0.5 0 0 0 0 0 0 0 0 0 0 0"/>
 </feComponentTransfer>
 <feColorMatrix in="a" type="matrix" values="0 0 0 0 0.05  0 0 0 0 0.05  0 0 0 0 0.05  1 0 0 0 0" result="blobs"/>
 <feColorMatrix in="a" type="matrix" values="0 0 0 0 0.75  0 0 0 0 0.75  0 0 0 0 0.75  0 0.6 0 0 0" result="edges"/>
 <feFlood flood-color="#6e6e6e" result="bg"/>
 <feMerge><feMergeNode in="bg"/><feMergeNode in="edges"/><feMergeNode in="blobs"/></feMerge>
</filter>
<clipPath id="cE"><rect x="1151" y="767" width="627" height="410"/></clipPath>
<clipPath id="cF"><rect x="1901" y="764.5" width="637" height="412"/></clipPath>
<linearGradient id="ygbar" x1="0" y1="0" x2="0" y2="1"><stop offset="0" stop-color="#f6fcc8"/><stop offset="0.3" stop-color="#e0f870"/><stop offset="0.55" stop-color="#d0f040"/><stop offset="0.85" stop-color="#c4ec18"/><stop offset="1" stop-color="#d4f060"/></linearGradient>
<linearGradient id="barE" x1="0" y1="0" x2="1" y2="0"><stop offset="0" stop-color="#f8f8f8"/><stop offset="0.085" stop-color="#f8f8f8"/><stop offset="0.1" stop-color="#e2e2e4"/><stop offset="0.185" stop-color="#dfe1e6"/><stop offset="0.205" stop-color="#a8c8e8"/><stop offset="0.41" stop-color="#a2c2e8"/><stop offset="0.46" stop-color="#8aa8ee"/><stop offset="0.55" stop-color="#8aa8ee"/><stop offset="0.6" stop-color="#a8c8e8"/><stop offset="0.705" stop-color="#a8c8e8"/><stop offset="0.725" stop-color="#e0e0e4"/><stop offset="0.87" stop-color="#e2e2e4"/><stop offset="0.89" stop-color="#f8f8f8"/><stop offset="1" stop-color="#f8f8f8"/></linearGradient>
<linearGradient id="barF" x1="0" y1="0" x2="1" y2="0"><stop offset="0" stop-color="#fafaf6"/><stop offset="0.078" stop-color="#fafaf6"/><stop offset="0.09" stop-color="#f8fcd2"/><stop offset="0.15" stop-color="#f8fcd0"/><stop offset="0.17" stop-color="#fde4a0"/><stop offset="0.39" stop-color="#fde2a0"/><stop offset="0.41" stop-color="#f0d088"/><stop offset="0.445" stop-color="#e9c878"/><stop offset="0.53" stop-color="#e9c878"/><stop offset="0.54" stop-color="#f8d890"/><stop offset="0.585" stop-color="#fde4a0"/><stop offset="0.7" stop-color="#fde4a0"/><stop offset="0.72" stop-color="#f8fcd0"/><stop offset="0.875" stop-color="#f8fcd2"/><stop offset="0.89" stop-color="#fafaf6"/><stop offset="1" stop-color="#fafaf6"/></linearGradient>
</defs>
<rect x="1136" y="759.5" width="651" height="470" fill="#1446e8"/>
<g clip-path="url(#cE)"><rect x="1000" y="500" width="1000" height="900" filter="url(#semE)" transform="rotate(-22 1466 972)"/></g>
<rect x="1143" y="767" width="9" height="410" fill="#5a60b0" opacity="0.55"/>
<rect x="1142" y="1185" width="639" height="38.5" fill="url(#barE)"/>
<rect x="1152" y="781" width="98.5" height="71.5" fill="#fafafa"/>
<text x="1202" y="834.5" font-size="44" text-anchor="middle" fill="#000" >(e)</text>
<path d="M1458,851H1516V880H1458Z M1504,880H1516V927H1504Z" fill="#5c58c0" opacity="0.8"/>
<rect x="1515.4" y="781" width="235.3" height="160" fill="#2e2e2e" stroke="#e8e8e8" stroke-width="4"/>
<path d="M1518,900 L1560,893 Q1600,905 1640,925 L1700,905 L1700,939 L1518,939Z" fill="#3c3c3c"/>
<path d="M1545,884 Q1590,892 1640,880 Q1662,872 1672,858" fill="none" stroke="#d0d0d0" stroke-width="5" stroke-linecap="round"/>
<path d="M1580,912 Q1600,918 1612,922 Q1640,915 1662,902" fill="none" stroke="#b0b0b0" stroke-width="5" stroke-linecap="round"/>
<path d="M1622,822 Q1646,826 1640,846 Q1634,858 1618,856" fill="none" stroke="#a0a0a0" stroke-width="5"/>
<path d="M1690,812 Q1712,795 1748,786" fill="none" stroke="#8a8a8a" stroke-width="8"/>
<ellipse cx="1568.7" cy="867.6" rx="27" ry="19.5" fill="none" stroke="#2424cc" stroke-width="3.4"/>
<ellipse cx="1678.3" cy="865.6" rx="28" ry="18" fill="none" stroke="#2424cc" stroke-width="3.4"/>
<circle cx="1538.6" cy="807.3" r="21.6" fill="#fafafa"/>
<text x="1524" y="818" font-size="44" text-anchor="start" fill="#000" >e<tspan font-size="26" dy="7">1</tspan></text>
<path d="M1466,861.6 H1536.5 V848.5 L1554,867 L1536.5,885.7 V875.6 H1466Z" fill="#d0f018"/>
<path d="M1671.3,969 V899 H1663 L1678,883.7 L1693.5,899 H1684.4 V969Z" fill="#d0f018"/>
<rect x="1660" y="893.8" width="88" height="40.2" fill="#fafafa"/>
<text x="1704.5" y="919" font-size="27" text-anchor="middle" fill="#000" >5 μm</text>
<path d="M1684.4,931H1726.7" stroke="#000" stroke-width="3"/>
<text x="1701" y="1005" font-size="40" text-anchor="middle" fill="#111" >2</text>
<text x="1440" y="858" font-size="40" text-anchor="middle" fill="#111" >1</text>
<rect x="1621" y="1104" width="157" height="72.5" fill="#fafafa"/>
<text x="1698" y="1142" font-size="44" text-anchor="middle" fill="#000" >50 μm</text>
<path d="M1641,1164H1753" stroke="#000" stroke-width="3"/>
<text x="1248" y="1216" font-size="44" text-anchor="start" fill="#0a1838" ><tspan font-style="italic">η</tspan>=0.99</text>
<text x="1530" y="1216.5" font-size="44" text-anchor="start" fill="#0a1838" ><tspan font-style="italic">ε</tspan>=0.001</text>
<text x="1542" y="1191" font-size="40" text-anchor="middle" fill="#0a1838" >.</text>
<text x="1669" y="693" font-size="44" text-anchor="start" fill="#000" >1.alpha</text>
<text x="1666" y="734" font-size="44" text-anchor="start" fill="#000" >2.beta</text>
<rect x="1892" y="755.5" width="652" height="474.5" fill="#f0a018"/>
<g clip-path="url(#cF)"><rect x="1700" y="450" width="1100" height="1000" filter="url(#semF)" transform="rotate(32 2218 970)"/></g>
<rect x="1898.5" y="1184" width="640" height="40.7" fill="url(#barF)"/>
<rect x="2528" y="765" width="10" height="411" fill="#5a50b8" opacity="0.6"/>
<rect x="1903" y="778.5" width="92" height="71.5" fill="#fafafa"/>
<text x="1950" y="834" font-size="44" text-anchor="middle" fill="#000" >(f)</text>
<rect x="1920" y="705" width="608" height="27.5" rx="3" fill="url(#ygbar)"/>
<rect x="2528" y="705" width="8" height="27" fill="#f0fab0"/>
<text x="2219" y="716.5" font-size="42" text-anchor="middle" fill="#000" >动态再结晶晶粒</text>
<rect x="2275" y="779.5" width="236.5" height="160" fill="#4a4a4a" stroke="#e4e4e4" stroke-width="4"/>
<path d="M2276,895V940H2340" fill="none" stroke="#7068c8" stroke-width="5"/>
<path d="M2375,800 L2415,792 L2432,822 L2400,834 ZM2352,824 L2395,820 L2405,848 L2360,848ZM2432,832 L2472,822 L2500,830 L2508,852 L2450,858 ZM2445,812 L2508,798 L2508,826 L2478,822 L2462,824ZM2279,850 L2300,850 L2308,868 L2304,888 L2279,888ZM2385,868 L2440,866 L2452,894 L2395,898ZM2340,908 L2385,900 L2402,918 L2350,930ZM2468,876 L2508,870 L2508,896 L2480,893ZM2279,822 L2318,818 L2322,836 L2279,842ZM2279,905 L2330,902 L2340,936 L2279,936Z" fill="#080808" stroke="#c8c8c8" stroke-width="2.5" stroke-linejoin="round"/>
<circle cx="2300.4" cy="802.7" r="21.6" fill="#fafafa"/>
<text x="2289" y="816" font-size="44" text-anchor="start" fill="#000" >f<tspan font-size="26" dy="7">1</tspan></text>
<rect x="2419" y="895" width="88.6" height="39.5" fill="#fafafa"/>
<text x="2463" y="921" font-size="27" text-anchor="middle" fill="#000" >5 μm</text>
<path d="M2443,931H2485" stroke="#000" stroke-width="3"/>
<path d="M2434,736 H2447 V785 H2463 L2440.5,808 L2418,785 H2434Z" fill="#c0ec20"/>
<rect x="2371" y="1095.5" width="160" height="71.5" fill="#fafafa"/>
<text x="2452" y="1135" font-size="44" text-anchor="middle" fill="#000" >50 μm</text>
<path d="M2394,1156H2508" stroke="#000" stroke-width="3"/>
<text x="2008" y="1216" font-size="44" text-anchor="start" fill="#181808" ><tspan font-style="italic">η</tspan>=0.57</text>
<text x="2352" y="1216.5" font-size="44" text-anchor="start" fill="#181808" ><tspan font-style="italic">ε</tspan>=10</text>
<text x="2364" y="1191" font-size="40" text-anchor="middle" fill="#181808" >.</text>
</svg>
</div></body></html>
